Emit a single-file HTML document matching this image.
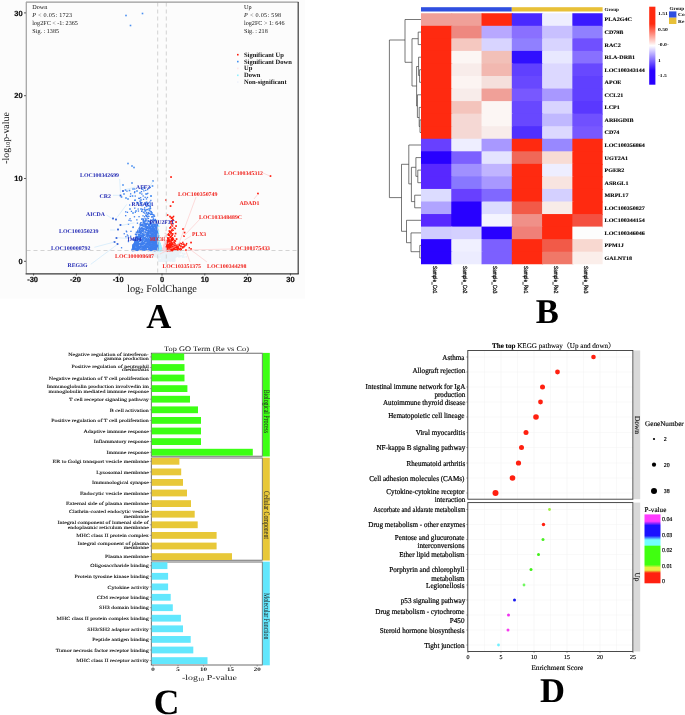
<!DOCTYPE html>
<html lang="en"><head><meta charset="utf-8"><title>Figure</title>
<style>html,body{margin:0;padding:0;background:#fff}svg{display:block}text{font-family:"Liberation Serif","Times New Roman",serif;text-rendering:geometricPrecision}.sans{font-family:"Liberation Sans",Arial,sans-serif}</style></head><body>
<svg width="685" height="715" viewBox="0 0 685 715">
<rect width="685" height="715" fill="#fff"/>
<g id="panelA">
<rect x="0" y="0" width="305" height="298.6" fill="#fcfcfc"/>
<rect x="164.5" y="253.8" width="1.5" height="1.5" fill="#e9f2f8"/><rect x="170.1" y="259.8" width="1.5" height="1.5" fill="#e9f2f8"/><rect x="159.6" y="259.9" width="1.5" height="1.5" fill="#e9f2f8"/><rect x="164.8" y="255.3" width="1.5" height="1.5" fill="#e9f2f8"/><rect x="173.9" y="259.8" width="1.5" height="1.5" fill="#e9f2f8"/><rect x="168.2" y="259.6" width="1.5" height="1.5" fill="#e9f2f8"/><rect x="154.3" y="255.6" width="1.5" height="1.5" fill="#e9f2f8"/><rect x="172.6" y="258.2" width="1.5" height="1.5" fill="#e9f2f8"/><rect x="154.1" y="252.8" width="1.5" height="1.5" fill="#e9f2f8"/><rect x="153.7" y="253.9" width="1.5" height="1.5" fill="#e9f2f8"/><rect x="168.6" y="251.7" width="1.5" height="1.5" fill="#e9f2f8"/><rect x="166.1" y="257.6" width="1.5" height="1.5" fill="#e9f2f8"/><rect x="168.6" y="257.4" width="1.5" height="1.5" fill="#e9f2f8"/><rect x="169.3" y="252.1" width="1.5" height="1.5" fill="#e9f2f8"/><rect x="170.4" y="253.9" width="1.5" height="1.5" fill="#e9f2f8"/><rect x="175.1" y="254.1" width="1.5" height="1.5" fill="#e9f2f8"/><rect x="163.9" y="259.9" width="1.5" height="1.5" fill="#e9f2f8"/><rect x="165.6" y="258.4" width="1.5" height="1.5" fill="#e9f2f8"/><rect x="163.1" y="257.3" width="1.5" height="1.5" fill="#e9f2f8"/><rect x="159.4" y="254.5" width="1.5" height="1.5" fill="#e9f2f8"/><rect x="160.5" y="252.3" width="1.5" height="1.5" fill="#e9f2f8"/><rect x="168.2" y="253.3" width="1.5" height="1.5" fill="#e9f2f8"/><rect x="166.7" y="255.1" width="1.5" height="1.5" fill="#e9f2f8"/><rect x="175.9" y="251.0" width="1.5" height="1.5" fill="#e9f2f8"/><rect x="165.6" y="250.4" width="1.5" height="1.5" fill="#e9f2f8"/><rect x="160.4" y="259.3" width="1.5" height="1.5" fill="#e9f2f8"/><rect x="155.7" y="255.5" width="1.5" height="1.5" fill="#e9f2f8"/><rect x="172.4" y="255.5" width="1.5" height="1.5" fill="#e9f2f8"/><rect x="176.9" y="251.7" width="1.5" height="1.5" fill="#e9f2f8"/><rect x="169.0" y="254.6" width="1.5" height="1.5" fill="#e9f2f8"/><rect x="170.9" y="253.4" width="1.5" height="1.5" fill="#e9f2f8"/><rect x="161.9" y="254.4" width="1.5" height="1.5" fill="#e9f2f8"/><rect x="159.3" y="251.9" width="1.5" height="1.5" fill="#e9f2f8"/><rect x="162.5" y="250.8" width="1.5" height="1.5" fill="#e9f2f8"/><rect x="155.8" y="256.0" width="1.5" height="1.5" fill="#e9f2f8"/><rect x="168.1" y="253.3" width="1.5" height="1.5" fill="#e9f2f8"/><rect x="152.6" y="251.3" width="1.5" height="1.5" fill="#e9f2f8"/><rect x="148.1" y="254.6" width="1.5" height="1.5" fill="#e9f2f8"/><rect x="158.2" y="260.3" width="1.5" height="1.5" fill="#e9f2f8"/><rect x="173.5" y="255.8" width="1.5" height="1.5" fill="#e9f2f8"/><rect x="168.2" y="259.9" width="1.5" height="1.5" fill="#e9f2f8"/><rect x="169.5" y="252.6" width="1.5" height="1.5" fill="#e9f2f8"/><rect x="170.2" y="256.5" width="1.5" height="1.5" fill="#e9f2f8"/><rect x="170.4" y="251.5" width="1.5" height="1.5" fill="#e9f2f8"/><rect x="173.3" y="254.9" width="1.5" height="1.5" fill="#e9f2f8"/><rect x="170.2" y="251.4" width="1.5" height="1.5" fill="#e9f2f8"/><rect x="172.5" y="257.7" width="1.5" height="1.5" fill="#e9f2f8"/><rect x="153.2" y="253.8" width="1.5" height="1.5" fill="#e9f2f8"/><rect x="156.8" y="250.5" width="1.5" height="1.5" fill="#e9f2f8"/><rect x="178.1" y="255.5" width="1.5" height="1.5" fill="#e9f2f8"/><rect x="168.7" y="258.1" width="1.5" height="1.5" fill="#e9f2f8"/><rect x="171.1" y="255.5" width="1.5" height="1.5" fill="#e9f2f8"/><rect x="161.6" y="260.5" width="1.5" height="1.5" fill="#e9f2f8"/><rect x="163.4" y="256.2" width="1.5" height="1.5" fill="#e9f2f8"/><rect x="160.0" y="250.7" width="1.5" height="1.5" fill="#e9f2f8"/><rect x="173.3" y="253.4" width="1.5" height="1.5" fill="#e9f2f8"/><rect x="156.3" y="252.2" width="1.5" height="1.5" fill="#e9f2f8"/><rect x="165.4" y="260.0" width="1.5" height="1.5" fill="#e9f2f8"/><rect x="176.6" y="251.0" width="1.5" height="1.5" fill="#e9f2f8"/><rect x="158.9" y="252.3" width="1.5" height="1.5" fill="#e9f2f8"/><rect x="160.7" y="259.5" width="1.5" height="1.5" fill="#e9f2f8"/><rect x="171.0" y="254.0" width="1.5" height="1.5" fill="#e9f2f8"/><rect x="168.9" y="258.4" width="1.5" height="1.5" fill="#e9f2f8"/><rect x="167.4" y="258.9" width="1.5" height="1.5" fill="#e9f2f8"/><rect x="165.1" y="260.5" width="1.5" height="1.5" fill="#e9f2f8"/><rect x="168.4" y="259.0" width="1.5" height="1.5" fill="#e9f2f8"/><rect x="171.9" y="260.3" width="1.5" height="1.5" fill="#e9f2f8"/><rect x="170.5" y="251.5" width="1.5" height="1.5" fill="#e9f2f8"/><rect x="163.3" y="257.9" width="1.5" height="1.5" fill="#e9f2f8"/><rect x="163.7" y="257.0" width="1.5" height="1.5" fill="#e9f2f8"/><rect x="163.9" y="251.8" width="1.5" height="1.5" fill="#e9f2f8"/><rect x="169.2" y="250.3" width="1.5" height="1.5" fill="#e9f2f8"/><rect x="158.2" y="259.7" width="1.5" height="1.5" fill="#e9f2f8"/><rect x="168.2" y="259.5" width="1.5" height="1.5" fill="#e9f2f8"/><rect x="163.2" y="252.0" width="1.5" height="1.5" fill="#e9f2f8"/><rect x="171.2" y="258.9" width="1.5" height="1.5" fill="#e9f2f8"/><rect x="184.1" y="253.1" width="1.5" height="1.5" fill="#e9f2f8"/><rect x="169.0" y="259.0" width="1.5" height="1.5" fill="#e9f2f8"/><rect x="164.7" y="255.1" width="1.5" height="1.5" fill="#e9f2f8"/><rect x="165.9" y="250.4" width="1.5" height="1.5" fill="#e9f2f8"/><rect x="173.7" y="257.8" width="1.5" height="1.5" fill="#e9f2f8"/><rect x="157.9" y="256.8" width="1.5" height="1.5" fill="#e9f2f8"/><rect x="172.6" y="255.0" width="1.5" height="1.5" fill="#e9f2f8"/><rect x="177.2" y="251.6" width="1.5" height="1.5" fill="#e9f2f8"/><rect x="163.9" y="252.2" width="1.5" height="1.5" fill="#e9f2f8"/><rect x="170.9" y="250.4" width="1.5" height="1.5" fill="#e9f2f8"/><rect x="174.3" y="252.1" width="1.5" height="1.5" fill="#e9f2f8"/><rect x="155.9" y="251.8" width="1.5" height="1.5" fill="#e9f2f8"/><rect x="167.7" y="256.9" width="1.5" height="1.5" fill="#e9f2f8"/><rect x="175.1" y="256.2" width="1.5" height="1.5" fill="#e9f2f8"/><rect x="172.2" y="257.9" width="1.5" height="1.5" fill="#e9f2f8"/><rect x="167.4" y="253.4" width="1.5" height="1.5" fill="#e9f2f8"/><rect x="174.0" y="250.9" width="1.5" height="1.5" fill="#e9f2f8"/><rect x="164.2" y="250.3" width="1.5" height="1.5" fill="#e9f2f8"/><rect x="173.0" y="258.3" width="1.5" height="1.5" fill="#e9f2f8"/><rect x="164.5" y="258.2" width="1.5" height="1.5" fill="#e9f2f8"/><rect x="168.0" y="254.1" width="1.5" height="1.5" fill="#e9f2f8"/><rect x="171.0" y="251.2" width="1.5" height="1.5" fill="#e9f2f8"/><rect x="170.9" y="253.8" width="1.5" height="1.5" fill="#e9f2f8"/><rect x="159.4" y="252.3" width="1.5" height="1.5" fill="#e9f2f8"/><rect x="175.6" y="250.8" width="1.5" height="1.5" fill="#e9f2f8"/><rect x="171.8" y="252.5" width="1.5" height="1.5" fill="#e9f2f8"/><rect x="166.4" y="258.7" width="1.5" height="1.5" fill="#e9f2f8"/><rect x="158.1" y="252.4" width="1.5" height="1.5" fill="#e9f2f8"/><rect x="159.9" y="250.5" width="1.5" height="1.5" fill="#e9f2f8"/><rect x="177.7" y="254.0" width="1.5" height="1.5" fill="#e9f2f8"/><rect x="152.0" y="251.9" width="1.5" height="1.5" fill="#e9f2f8"/><rect x="176.6" y="255.4" width="1.5" height="1.5" fill="#e9f2f8"/><rect x="169.3" y="251.2" width="1.5" height="1.5" fill="#e9f2f8"/><rect x="169.4" y="252.2" width="1.5" height="1.5" fill="#e9f2f8"/><rect x="174.7" y="250.4" width="1.5" height="1.5" fill="#e9f2f8"/><rect x="177.2" y="252.3" width="1.5" height="1.5" fill="#e9f2f8"/><rect x="161.0" y="259.2" width="1.5" height="1.5" fill="#e9f2f8"/><rect x="173.8" y="260.4" width="1.5" height="1.5" fill="#e9f2f8"/><rect x="176.7" y="253.1" width="1.5" height="1.5" fill="#e9f2f8"/><rect x="164.5" y="250.9" width="1.5" height="1.5" fill="#e9f2f8"/><rect x="152.9" y="251.3" width="1.5" height="1.5" fill="#e9f2f8"/><rect x="172.3" y="258.4" width="1.5" height="1.5" fill="#e9f2f8"/><rect x="166.3" y="258.1" width="1.5" height="1.5" fill="#e9f2f8"/><rect x="172.4" y="254.5" width="1.5" height="1.5" fill="#e9f2f8"/><rect x="165.9" y="259.2" width="1.5" height="1.5" fill="#e9f2f8"/><rect x="174.0" y="251.1" width="1.5" height="1.5" fill="#e9f2f8"/><rect x="161.5" y="254.5" width="1.5" height="1.5" fill="#e9f2f8"/><rect x="172.8" y="251.2" width="1.5" height="1.5" fill="#e9f2f8"/><rect x="152.1" y="253.3" width="1.5" height="1.5" fill="#e9f2f8"/><rect x="174.2" y="255.0" width="1.5" height="1.5" fill="#e9f2f8"/><rect x="165.0" y="256.0" width="1.5" height="1.5" fill="#e9f2f8"/><rect x="166.2" y="258.7" width="1.5" height="1.5" fill="#e9f2f8"/><rect x="179.4" y="255.3" width="1.5" height="1.5" fill="#e9f2f8"/><rect x="166.7" y="255.6" width="1.5" height="1.5" fill="#e9f2f8"/><rect x="164.9" y="257.2" width="1.5" height="1.5" fill="#e9f2f8"/><rect x="157.2" y="253.2" width="1.5" height="1.5" fill="#e9f2f8"/><rect x="154.4" y="255.8" width="1.5" height="1.5" fill="#e9f2f8"/><rect x="162.0" y="254.8" width="1.5" height="1.5" fill="#e9f2f8"/><rect x="166.4" y="252.6" width="1.5" height="1.5" fill="#e9f2f8"/><rect x="172.2" y="255.3" width="1.5" height="1.5" fill="#e9f2f8"/><rect x="155.0" y="250.7" width="1.5" height="1.5" fill="#e9f2f8"/><rect x="161.7" y="256.0" width="1.5" height="1.5" fill="#e9f2f8"/><rect x="159.8" y="255.2" width="1.5" height="1.5" fill="#e9f2f8"/><rect x="160.8" y="253.4" width="1.5" height="1.5" fill="#e9f2f8"/><rect x="157.8" y="253.4" width="1.5" height="1.5" fill="#e9f2f8"/><rect x="169.0" y="250.8" width="1.5" height="1.5" fill="#e9f2f8"/><rect x="161.7" y="250.8" width="1.5" height="1.5" fill="#e9f2f8"/><rect x="152.3" y="254.8" width="1.5" height="1.5" fill="#e9f2f8"/><rect x="150.2" y="251.2" width="1.5" height="1.5" fill="#e9f2f8"/><rect x="160.0" y="259.1" width="1.5" height="1.5" fill="#e9f2f8"/><rect x="172.1" y="259.8" width="1.5" height="1.5" fill="#e9f2f8"/><rect x="171.8" y="258.1" width="1.5" height="1.5" fill="#e9f2f8"/><rect x="176.1" y="251.5" width="1.5" height="1.5" fill="#e9f2f8"/><rect x="171.2" y="251.3" width="1.5" height="1.5" fill="#e9f2f8"/><rect x="172.9" y="253.7" width="1.5" height="1.5" fill="#e9f2f8"/><rect x="175.9" y="255.5" width="1.5" height="1.5" fill="#e9f2f8"/><rect x="180.5" y="255.0" width="1.5" height="1.5" fill="#e9f2f8"/><rect x="153.6" y="250.5" width="1.5" height="1.5" fill="#e9f2f8"/><rect x="159.6" y="250.3" width="1.5" height="1.5" fill="#e9f2f8"/><rect x="171.4" y="251.9" width="1.5" height="1.5" fill="#e9f2f8"/><rect x="170.5" y="255.2" width="1.5" height="1.5" fill="#e9f2f8"/><rect x="173.0" y="257.0" width="1.5" height="1.5" fill="#e9f2f8"/><rect x="168.5" y="253.1" width="1.5" height="1.5" fill="#e9f2f8"/><rect x="172.4" y="260.3" width="1.5" height="1.5" fill="#e9f2f8"/><rect x="159.0" y="260.4" width="1.5" height="1.5" fill="#e9f2f8"/><rect x="163.8" y="257.1" width="1.5" height="1.5" fill="#e9f2f8"/><rect x="160.2" y="259.9" width="1.5" height="1.5" fill="#e9f2f8"/><rect x="160.3" y="250.4" width="1.5" height="1.5" fill="#e9f2f8"/><rect x="171.0" y="259.5" width="1.5" height="1.5" fill="#e9f2f8"/><rect x="147.5" y="254.8" width="1.5" height="1.5" fill="#e9f2f8"/><rect x="178.6" y="254.7" width="1.5" height="1.5" fill="#e9f2f8"/><rect x="169.5" y="259.2" width="1.5" height="1.5" fill="#e9f2f8"/><rect x="152.2" y="251.3" width="1.5" height="1.5" fill="#e9f2f8"/><rect x="173.9" y="257.9" width="1.5" height="1.5" fill="#e9f2f8"/><rect x="176.0" y="252.9" width="1.5" height="1.5" fill="#e9f2f8"/><rect x="179.6" y="252.1" width="1.5" height="1.5" fill="#e9f2f8"/><rect x="168.5" y="253.4" width="1.5" height="1.5" fill="#e9f2f8"/><rect x="167.7" y="256.1" width="1.5" height="1.5" fill="#e9f2f8"/><rect x="181.8" y="252.5" width="1.5" height="1.5" fill="#e9f2f8"/><rect x="173.9" y="252.3" width="1.5" height="1.5" fill="#e9f2f8"/><rect x="178.8" y="256.0" width="1.5" height="1.5" fill="#e9f2f8"/><rect x="173.6" y="251.6" width="1.5" height="1.5" fill="#e9f2f8"/><rect x="160.0" y="254.8" width="1.5" height="1.5" fill="#e9f2f8"/><rect x="168.3" y="251.0" width="1.5" height="1.5" fill="#e9f2f8"/><rect x="166.0" y="255.1" width="1.5" height="1.5" fill="#e9f2f8"/><rect x="170.2" y="258.1" width="1.5" height="1.5" fill="#e9f2f8"/><rect x="169.7" y="260.0" width="1.5" height="1.5" fill="#e9f2f8"/><rect x="169.1" y="258.5" width="1.5" height="1.5" fill="#e9f2f8"/><rect x="164.0" y="252.7" width="1.5" height="1.5" fill="#e9f2f8"/><rect x="172.1" y="257.5" width="1.5" height="1.5" fill="#e9f2f8"/><rect x="161.8" y="257.0" width="1.5" height="1.5" fill="#e9f2f8"/><rect x="166.4" y="260.4" width="1.5" height="1.5" fill="#e9f2f8"/><rect x="166.4" y="253.0" width="1.5" height="1.5" fill="#e9f2f8"/><rect x="167.7" y="254.8" width="1.5" height="1.5" fill="#e9f2f8"/><rect x="169.5" y="250.9" width="1.5" height="1.5" fill="#e9f2f8"/><rect x="174.1" y="259.4" width="1.5" height="1.5" fill="#e9f2f8"/><rect x="169.6" y="255.4" width="1.5" height="1.5" fill="#e9f2f8"/><rect x="159.4" y="251.9" width="1.5" height="1.5" fill="#e9f2f8"/><rect x="159.6" y="253.4" width="1.5" height="1.5" fill="#e9f2f8"/><rect x="171.8" y="250.4" width="1.5" height="1.5" fill="#e9f2f8"/><rect x="158.8" y="253.2" width="1.5" height="1.5" fill="#e9f2f8"/><rect x="177.9" y="252.5" width="1.5" height="1.5" fill="#e9f2f8"/><rect x="160.8" y="260.0" width="1.5" height="1.5" fill="#e9f2f8"/><rect x="170.2" y="259.2" width="1.5" height="1.5" fill="#e9f2f8"/><rect x="177.2" y="254.8" width="1.5" height="1.5" fill="#e9f2f8"/><rect x="171.5" y="258.9" width="1.5" height="1.5" fill="#e9f2f8"/><rect x="178.4" y="251.0" width="1.5" height="1.5" fill="#e9f2f8"/><rect x="173.5" y="253.6" width="1.5" height="1.5" fill="#e9f2f8"/><rect x="165.3" y="257.5" width="1.5" height="1.5" fill="#e9f2f8"/><rect x="171.7" y="255.8" width="1.5" height="1.5" fill="#e9f2f8"/><rect x="170.7" y="257.8" width="1.5" height="1.5" fill="#e9f2f8"/><rect x="173.0" y="250.6" width="1.5" height="1.5" fill="#e9f2f8"/><rect x="175.4" y="254.9" width="1.5" height="1.5" fill="#e9f2f8"/><rect x="164.8" y="250.6" width="1.5" height="1.5" fill="#e9f2f8"/><rect x="163.9" y="260.5" width="1.5" height="1.5" fill="#e9f2f8"/><rect x="172.7" y="256.6" width="1.5" height="1.5" fill="#e9f2f8"/><rect x="157.9" y="258.5" width="1.5" height="1.5" fill="#e9f2f8"/><rect x="167.8" y="255.3" width="1.5" height="1.5" fill="#e9f2f8"/><rect x="172.1" y="259.6" width="1.5" height="1.5" fill="#e9f2f8"/><rect x="166.6" y="256.4" width="1.5" height="1.5" fill="#e9f2f8"/><rect x="167.9" y="257.4" width="1.5" height="1.5" fill="#e9f2f8"/><rect x="166.8" y="258.1" width="1.5" height="1.5" fill="#e9f2f8"/><rect x="158.7" y="252.8" width="1.5" height="1.5" fill="#e9f2f8"/><rect x="161.8" y="253.7" width="1.5" height="1.5" fill="#e9f2f8"/><rect x="163.2" y="256.5" width="1.5" height="1.5" fill="#e9f2f8"/><rect x="151.8" y="254.4" width="1.5" height="1.5" fill="#e9f2f8"/><rect x="170.5" y="253.1" width="1.5" height="1.5" fill="#e9f2f8"/><rect x="166.0" y="253.9" width="1.5" height="1.5" fill="#e9f2f8"/><rect x="179.7" y="250.9" width="1.5" height="1.5" fill="#e9f2f8"/><rect x="170.1" y="254.1" width="1.5" height="1.5" fill="#e9f2f8"/><rect x="165.0" y="259.1" width="1.5" height="1.5" fill="#e9f2f8"/><rect x="153.1" y="253.2" width="1.5" height="1.5" fill="#e9f2f8"/><rect x="152.6" y="251.4" width="1.5" height="1.5" fill="#e9f2f8"/><rect x="166.0" y="252.0" width="1.5" height="1.5" fill="#e9f2f8"/><rect x="153.1" y="252.2" width="1.5" height="1.5" fill="#e9f2f8"/><rect x="158.6" y="253.4" width="1.5" height="1.5" fill="#e9f2f8"/><rect x="166.6" y="259.2" width="1.5" height="1.5" fill="#e9f2f8"/><rect x="168.2" y="256.8" width="1.5" height="1.5" fill="#e9f2f8"/><rect x="177.3" y="252.9" width="1.5" height="1.5" fill="#e9f2f8"/><rect x="174.9" y="254.1" width="1.5" height="1.5" fill="#e9f2f8"/><rect x="158.7" y="255.5" width="1.5" height="1.5" fill="#e9f2f8"/><rect x="158.6" y="260.5" width="1.5" height="1.5" fill="#e9f2f8"/><rect x="170.0" y="255.3" width="1.5" height="1.5" fill="#e9f2f8"/><rect x="154.8" y="253.1" width="1.5" height="1.5" fill="#e9f2f8"/><rect x="164.9" y="252.9" width="1.5" height="1.5" fill="#e9f2f8"/><rect x="164.1" y="257.9" width="1.5" height="1.5" fill="#e9f2f8"/><rect x="171.5" y="253.0" width="1.5" height="1.5" fill="#e9f2f8"/><rect x="169.0" y="258.4" width="1.5" height="1.5" fill="#e9f2f8"/><rect x="165.1" y="255.4" width="1.5" height="1.5" fill="#e9f2f8"/><rect x="146.6" y="254.0" width="1.5" height="1.5" fill="#e9f2f8"/><rect x="155.4" y="251.6" width="1.5" height="1.5" fill="#e9f2f8"/><rect x="167.8" y="254.2" width="1.5" height="1.5" fill="#e9f2f8"/><rect x="164.6" y="259.0" width="1.5" height="1.5" fill="#e9f2f8"/><rect x="164.1" y="257.9" width="1.5" height="1.5" fill="#e9f2f8"/><rect x="166.1" y="254.7" width="1.5" height="1.5" fill="#e9f2f8"/><rect x="160.2" y="260.4" width="1.5" height="1.5" fill="#e9f2f8"/><rect x="171.7" y="253.6" width="1.5" height="1.5" fill="#e9f2f8"/><rect x="168.5" y="253.4" width="1.5" height="1.5" fill="#e9f2f8"/><rect x="163.7" y="255.2" width="1.5" height="1.5" fill="#e9f2f8"/><rect x="161.0" y="255.7" width="1.5" height="1.5" fill="#e9f2f8"/><rect x="162.8" y="251.3" width="1.5" height="1.5" fill="#e9f2f8"/><rect x="167.2" y="258.5" width="1.5" height="1.5" fill="#e9f2f8"/><rect x="183.3" y="256.3" width="1.5" height="1.5" fill="#e9f2f8"/><rect x="164.0" y="255.8" width="1.5" height="1.5" fill="#e9f2f8"/><rect x="174.5" y="255.9" width="1.5" height="1.5" fill="#e9f2f8"/><rect x="149.1" y="254.7" width="1.5" height="1.5" fill="#e9f2f8"/><rect x="170.8" y="258.4" width="1.5" height="1.5" fill="#e9f2f8"/><rect x="183.4" y="252.8" width="1.5" height="1.5" fill="#e9f2f8"/><rect x="172.0" y="250.7" width="1.5" height="1.5" fill="#e9f2f8"/><rect x="173.3" y="259.2" width="1.5" height="1.5" fill="#e9f2f8"/><rect x="170.1" y="251.4" width="1.5" height="1.5" fill="#e9f2f8"/><rect x="158.5" y="253.3" width="1.5" height="1.5" fill="#e9f2f8"/><rect x="168.2" y="255.5" width="1.5" height="1.5" fill="#e9f2f8"/><rect x="181.8" y="256.3" width="1.5" height="1.5" fill="#e9f2f8"/><rect x="174.8" y="255.9" width="1.5" height="1.5" fill="#e9f2f8"/><rect x="166.6" y="257.4" width="1.5" height="1.5" fill="#e9f2f8"/><rect x="170.6" y="257.3" width="1.5" height="1.5" fill="#e9f2f8"/><rect x="171.6" y="251.9" width="1.5" height="1.5" fill="#e9f2f8"/><rect x="178.5" y="251.2" width="1.5" height="1.5" fill="#e9f2f8"/><rect x="166.5" y="259.3" width="1.5" height="1.5" fill="#e9f2f8"/><rect x="176.7" y="250.8" width="1.5" height="1.5" fill="#e9f2f8"/><rect x="161.3" y="257.6" width="1.5" height="1.5" fill="#e9f2f8"/><rect x="161.3" y="250.2" width="1.5" height="1.5" fill="#e9f2f8"/><rect x="171.6" y="254.5" width="1.5" height="1.5" fill="#e9f2f8"/><rect x="161.5" y="257.7" width="1.5" height="1.5" fill="#e9f2f8"/><rect x="172.3" y="260.1" width="1.5" height="1.5" fill="#e9f2f8"/><rect x="177.5" y="254.6" width="1.5" height="1.5" fill="#e9f2f8"/><rect x="174.6" y="250.9" width="1.5" height="1.5" fill="#e9f2f8"/><rect x="166.4" y="255.3" width="1.5" height="1.5" fill="#e9f2f8"/><rect x="172.1" y="258.6" width="1.5" height="1.5" fill="#e9f2f8"/><rect x="153.7" y="250.9" width="1.5" height="1.5" fill="#e9f2f8"/><rect x="179.4" y="251.4" width="1.5" height="1.5" fill="#e9f2f8"/><rect x="155.4" y="250.6" width="1.5" height="1.5" fill="#e9f2f8"/><rect x="154.6" y="253.0" width="1.5" height="1.5" fill="#e9f2f8"/><rect x="165.9" y="253.0" width="1.5" height="1.5" fill="#e9f2f8"/><rect x="164.1" y="255.9" width="1.5" height="1.5" fill="#e9f2f8"/><rect x="166.6" y="257.6" width="1.5" height="1.5" fill="#e9f2f8"/><rect x="155.9" y="256.1" width="1.5" height="1.5" fill="#e9f2f8"/><rect x="169.8" y="255.7" width="1.5" height="1.5" fill="#e9f2f8"/><rect x="164.7" y="257.0" width="1.5" height="1.5" fill="#e9f2f8"/><rect x="162.9" y="250.4" width="1.5" height="1.5" fill="#e9f2f8"/><rect x="177.8" y="254.8" width="1.5" height="1.5" fill="#e9f2f8"/><rect x="163.0" y="254.8" width="1.5" height="1.5" fill="#e9f2f8"/><rect x="161.3" y="256.5" width="1.5" height="1.5" fill="#e9f2f8"/><rect x="168.5" y="258.4" width="1.5" height="1.5" fill="#e9f2f8"/><rect x="170.1" y="251.2" width="1.5" height="1.5" fill="#e9f2f8"/><rect x="161.3" y="251.2" width="1.5" height="1.5" fill="#e9f2f8"/><rect x="166.5" y="250.2" width="1.5" height="1.5" fill="#e9f2f8"/><rect x="162.6" y="258.6" width="1.5" height="1.5" fill="#e9f2f8"/><rect x="167.6" y="259.6" width="1.5" height="1.5" fill="#e9f2f8"/><rect x="164.6" y="258.1" width="1.5" height="1.5" fill="#e9f2f8"/><rect x="169.0" y="257.9" width="1.5" height="1.5" fill="#e9f2f8"/><rect x="152.6" y="251.8" width="1.5" height="1.5" fill="#e9f2f8"/><rect x="159.9" y="256.3" width="1.5" height="1.5" fill="#e9f2f8"/><rect x="158.8" y="256.6" width="1.5" height="1.5" fill="#e9f2f8"/><rect x="171.0" y="257.0" width="1.5" height="1.5" fill="#e9f2f8"/><rect x="171.8" y="250.5" width="1.5" height="1.5" fill="#e9f2f8"/><rect x="168.6" y="259.2" width="1.5" height="1.5" fill="#e9f2f8"/><rect x="156.1" y="251.1" width="1.5" height="1.5" fill="#e9f2f8"/><rect x="166.2" y="258.3" width="1.5" height="1.5" fill="#e9f2f8"/><rect x="165.7" y="256.4" width="1.5" height="1.5" fill="#e9f2f8"/><rect x="171.8" y="255.9" width="1.5" height="1.5" fill="#e9f2f8"/><rect x="179.9" y="251.0" width="1.5" height="1.5" fill="#e9f2f8"/><rect x="162.4" y="260.3" width="1.5" height="1.5" fill="#e9f2f8"/><rect x="177.6" y="250.8" width="1.5" height="1.5" fill="#e9f2f8"/><rect x="168.7" y="255.7" width="1.5" height="1.5" fill="#e9f2f8"/><rect x="166.3" y="256.5" width="1.5" height="1.5" fill="#e9f2f8"/><rect x="166.3" y="251.0" width="1.5" height="1.5" fill="#e9f2f8"/><rect x="172.9" y="250.5" width="1.5" height="1.5" fill="#e9f2f8"/><rect x="153.7" y="254.9" width="1.5" height="1.5" fill="#e9f2f8"/><rect x="169.6" y="255.1" width="1.5" height="1.5" fill="#e9f2f8"/><rect x="169.1" y="253.5" width="1.5" height="1.5" fill="#e9f2f8"/><rect x="177.2" y="252.4" width="1.5" height="1.5" fill="#e9f2f8"/><rect x="162.2" y="252.6" width="1.5" height="1.5" fill="#e9f2f8"/><rect x="157.5" y="256.2" width="1.5" height="1.5" fill="#e9f2f8"/><rect x="168.8" y="252.5" width="1.5" height="1.5" fill="#e9f2f8"/><rect x="168.2" y="253.9" width="1.5" height="1.5" fill="#e9f2f8"/><rect x="182.6" y="254.5" width="1.5" height="1.5" fill="#e9f2f8"/><rect x="170.2" y="254.0" width="1.5" height="1.5" fill="#e9f2f8"/><rect x="170.4" y="253.3" width="1.5" height="1.5" fill="#e9f2f8"/><rect x="168.5" y="255.1" width="1.5" height="1.5" fill="#e9f2f8"/><rect x="168.2" y="254.5" width="1.5" height="1.5" fill="#e9f2f8"/><rect x="162.4" y="254.3" width="1.5" height="1.5" fill="#e9f2f8"/><rect x="169.7" y="260.4" width="1.5" height="1.5" fill="#e9f2f8"/><rect x="163.8" y="250.6" width="1.5" height="1.5" fill="#e9f2f8"/><rect x="174.1" y="253.9" width="1.5" height="1.5" fill="#e9f2f8"/><rect x="172.5" y="258.1" width="1.5" height="1.5" fill="#e9f2f8"/><rect x="160.9" y="258.0" width="1.5" height="1.5" fill="#e9f2f8"/><rect x="177.4" y="254.5" width="1.5" height="1.5" fill="#e9f2f8"/><rect x="163.6" y="260.3" width="1.5" height="1.5" fill="#e9f2f8"/><rect x="155.5" y="253.8" width="1.5" height="1.5" fill="#e9f2f8"/><rect x="166.5" y="257.9" width="1.5" height="1.5" fill="#e9f2f8"/><rect x="158.2" y="258.2" width="1.5" height="1.5" fill="#e9f2f8"/><rect x="152.0" y="256.2" width="1.5" height="1.5" fill="#e9f2f8"/><rect x="162.4" y="253.5" width="1.5" height="1.5" fill="#e9f2f8"/><rect x="172.9" y="258.5" width="1.5" height="1.5" fill="#e9f2f8"/><rect x="169.9" y="255.3" width="1.5" height="1.5" fill="#e9f2f8"/><rect x="155.0" y="255.1" width="1.5" height="1.5" fill="#e9f2f8"/><rect x="172.6" y="252.1" width="1.5" height="1.5" fill="#e9f2f8"/><rect x="165.2" y="258.2" width="1.5" height="1.5" fill="#e9f2f8"/><rect x="168.6" y="257.5" width="1.5" height="1.5" fill="#e9f2f8"/><rect x="178.5" y="250.5" width="1.5" height="1.5" fill="#e9f2f8"/><rect x="161.7" y="258.2" width="1.5" height="1.5" fill="#e9f2f8"/><rect x="166.5" y="256.2" width="1.5" height="1.5" fill="#e9f2f8"/><rect x="157.4" y="255.5" width="1.5" height="1.5" fill="#e9f2f8"/><rect x="151.1" y="254.0" width="1.5" height="1.5" fill="#e9f2f8"/><rect x="170.9" y="259.1" width="1.5" height="1.5" fill="#e9f2f8"/><rect x="185.5" y="256.1" width="1.5" height="1.5" fill="#e9f2f8"/><rect x="173.1" y="251.3" width="1.5" height="1.5" fill="#e9f2f8"/><rect x="169.1" y="251.4" width="1.5" height="1.5" fill="#e9f2f8"/><rect x="163.7" y="250.9" width="1.5" height="1.5" fill="#e9f2f8"/><rect x="141.3" y="254.4" width="1.5" height="1.5" fill="#e9f2f8"/><rect x="173.1" y="252.8" width="1.5" height="1.5" fill="#e9f2f8"/><rect x="182.1" y="256.2" width="1.5" height="1.5" fill="#e9f2f8"/><rect x="162.8" y="256.7" width="1.5" height="1.5" fill="#e9f2f8"/><rect x="160.3" y="257.1" width="1.5" height="1.5" fill="#e9f2f8"/><rect x="166.7" y="257.7" width="1.5" height="1.5" fill="#e9f2f8"/><rect x="166.9" y="256.9" width="1.5" height="1.5" fill="#e9f2f8"/><rect x="170.0" y="250.6" width="1.5" height="1.5" fill="#e9f2f8"/><rect x="165.4" y="258.4" width="1.5" height="1.5" fill="#e9f2f8"/><rect x="158.0" y="252.0" width="1.5" height="1.5" fill="#e9f2f8"/><rect x="177.0" y="253.7" width="1.5" height="1.5" fill="#e9f2f8"/><rect x="174.2" y="256.7" width="1.5" height="1.5" fill="#e9f2f8"/><rect x="168.9" y="251.0" width="1.5" height="1.5" fill="#e9f2f8"/><rect x="168.8" y="251.3" width="1.5" height="1.5" fill="#e9f2f8"/><rect x="172.9" y="260.2" width="1.5" height="1.5" fill="#e9f2f8"/><rect x="155.1" y="251.6" width="1.5" height="1.5" fill="#e9f2f8"/><rect x="173.5" y="260.1" width="1.5" height="1.5" fill="#e9f2f8"/><rect x="168.9" y="251.0" width="1.5" height="1.5" fill="#e9f2f8"/><rect x="167.0" y="257.9" width="1.5" height="1.5" fill="#e9f2f8"/><rect x="166.1" y="257.0" width="1.5" height="1.5" fill="#e9f2f8"/><rect x="150.8" y="254.7" width="1.5" height="1.5" fill="#e9f2f8"/><rect x="176.1" y="254.8" width="1.5" height="1.5" fill="#e9f2f8"/><rect x="163.7" y="253.1" width="1.5" height="1.5" fill="#e9f2f8"/><rect x="164.0" y="260.5" width="1.5" height="1.5" fill="#e9f2f8"/><rect x="171.7" y="252.7" width="1.5" height="1.5" fill="#e9f2f8"/><rect x="175.3" y="250.6" width="1.5" height="1.5" fill="#e9f2f8"/><rect x="161.2" y="260.3" width="1.5" height="1.5" fill="#e9f2f8"/><rect x="167.2" y="250.6" width="1.5" height="1.5" fill="#e9f2f8"/><rect x="174.6" y="250.7" width="1.5" height="1.5" fill="#e9f2f8"/><rect x="162.2" y="256.1" width="1.5" height="1.5" fill="#e9f2f8"/><rect x="170.0" y="255.4" width="1.5" height="1.5" fill="#e9f2f8"/><rect x="170.5" y="252.2" width="1.5" height="1.5" fill="#e9f2f8"/><rect x="164.4" y="252.9" width="1.5" height="1.5" fill="#e9f2f8"/><rect x="171.9" y="254.3" width="1.5" height="1.5" fill="#e9f2f8"/><rect x="155.1" y="254.4" width="1.5" height="1.5" fill="#e9f2f8"/><rect x="163.5" y="252.5" width="1.5" height="1.5" fill="#e9f2f8"/><rect x="172.6" y="259.7" width="1.5" height="1.5" fill="#e9f2f8"/><rect x="170.3" y="258.0" width="1.5" height="1.5" fill="#e9f2f8"/><rect x="177.9" y="256.0" width="1.5" height="1.5" fill="#e9f2f8"/><rect x="175.4" y="254.4" width="1.5" height="1.5" fill="#e9f2f8"/><rect x="168.3" y="250.4" width="1.5" height="1.5" fill="#e9f2f8"/><rect x="182.5" y="254.8" width="1.5" height="1.5" fill="#e9f2f8"/><rect x="151.9" y="255.9" width="1.5" height="1.5" fill="#e9f2f8"/><rect x="173.4" y="253.2" width="1.5" height="1.5" fill="#e9f2f8"/><rect x="171.3" y="255.9" width="1.5" height="1.5" fill="#e9f2f8"/><rect x="167.1" y="254.1" width="1.5" height="1.5" fill="#e9f2f8"/><rect x="173.9" y="253.6" width="1.5" height="1.5" fill="#e9f2f8"/><rect x="166.2" y="253.7" width="1.5" height="1.5" fill="#e9f2f8"/><rect x="152.3" y="255.7" width="1.5" height="1.5" fill="#e9f2f8"/><rect x="169.7" y="254.7" width="1.5" height="1.5" fill="#e9f2f8"/><rect x="161.3" y="256.7" width="1.5" height="1.5" fill="#e9f2f8"/><rect x="166.0" y="258.0" width="1.5" height="1.5" fill="#e9f2f8"/><rect x="161.5" y="258.0" width="1.5" height="1.5" fill="#e9f2f8"/><rect x="159.9" y="247.3" width="1.4" height="1.4" fill="#9fefff"/><rect x="159.2" y="245.7" width="1.4" height="1.4" fill="#9fefff"/><rect x="158.9" y="243.1" width="1.4" height="1.4" fill="#9fefff"/><rect x="159.5" y="249.6" width="1.4" height="1.4" fill="#9fefff"/><rect x="157.2" y="230.9" width="1.4" height="1.4" fill="#9fefff"/><rect x="160.1" y="244.9" width="1.4" height="1.4" fill="#9fefff"/><rect x="158.6" y="244.5" width="1.4" height="1.4" fill="#9fefff"/><rect x="156.8" y="228.7" width="1.4" height="1.4" fill="#9fefff"/><rect x="160.3" y="249.7" width="1.4" height="1.4" fill="#9fefff"/><rect x="159.7" y="248.4" width="1.4" height="1.4" fill="#9fefff"/><rect x="156.5" y="224.0" width="1.4" height="1.4" fill="#9fefff"/><rect x="159.0" y="243.7" width="1.4" height="1.4" fill="#9fefff"/><rect x="157.0" y="241.3" width="1.4" height="1.4" fill="#9fefff"/><rect x="157.3" y="247.3" width="1.4" height="1.4" fill="#9fefff"/><rect x="156.6" y="236.5" width="1.4" height="1.4" fill="#9fefff"/><rect x="158.0" y="242.8" width="1.4" height="1.4" fill="#9fefff"/><rect x="159.6" y="248.6" width="1.4" height="1.4" fill="#9fefff"/><rect x="159.7" y="248.5" width="1.4" height="1.4" fill="#9fefff"/><rect x="159.4" y="245.3" width="1.4" height="1.4" fill="#9fefff"/><rect x="159.7" y="247.1" width="1.4" height="1.4" fill="#9fefff"/><rect x="160.4" y="249.3" width="1.4" height="1.4" fill="#9fefff"/><rect x="159.7" y="245.8" width="1.4" height="1.4" fill="#9fefff"/><rect x="159.2" y="247.5" width="1.4" height="1.4" fill="#9fefff"/><rect x="158.3" y="236.9" width="1.4" height="1.4" fill="#9fefff"/><rect x="160.2" y="248.7" width="1.4" height="1.4" fill="#9fefff"/><rect x="158.2" y="245.3" width="1.4" height="1.4" fill="#9fefff"/><rect x="157.9" y="245.5" width="1.4" height="1.4" fill="#9fefff"/><rect x="157.7" y="246.8" width="1.4" height="1.4" fill="#9fefff"/><rect x="158.8" y="248.8" width="1.4" height="1.4" fill="#9fefff"/><rect x="156.6" y="239.2" width="1.4" height="1.4" fill="#9fefff"/><rect x="159.2" y="245.9" width="1.4" height="1.4" fill="#9fefff"/><rect x="158.8" y="247.6" width="1.4" height="1.4" fill="#9fefff"/><rect x="157.0" y="238.9" width="1.4" height="1.4" fill="#9fefff"/><rect x="159.7" y="249.8" width="1.4" height="1.4" fill="#9fefff"/><rect x="157.5" y="249.5" width="1.4" height="1.4" fill="#9fefff"/><rect x="156.8" y="248.6" width="1.4" height="1.4" fill="#9fefff"/><rect x="158.8" y="247.2" width="1.4" height="1.4" fill="#9fefff"/><rect x="156.9" y="239.0" width="1.4" height="1.4" fill="#9fefff"/><rect x="158.6" y="249.3" width="1.4" height="1.4" fill="#9fefff"/><rect x="158.2" y="248.7" width="1.4" height="1.4" fill="#9fefff"/><rect x="157.9" y="246.7" width="1.4" height="1.4" fill="#9fefff"/><rect x="158.0" y="247.9" width="1.4" height="1.4" fill="#9fefff"/><rect x="159.0" y="246.8" width="1.4" height="1.4" fill="#9fefff"/><rect x="159.3" y="249.8" width="1.4" height="1.4" fill="#9fefff"/><rect x="158.4" y="246.7" width="1.4" height="1.4" fill="#9fefff"/><rect x="158.5" y="248.4" width="1.4" height="1.4" fill="#9fefff"/><rect x="157.2" y="242.8" width="1.4" height="1.4" fill="#9fefff"/><rect x="160.0" y="249.5" width="1.4" height="1.4" fill="#9fefff"/><rect x="156.7" y="235.6" width="1.4" height="1.4" fill="#9fefff"/><rect x="160.3" y="249.6" width="1.4" height="1.4" fill="#9fefff"/><rect x="156.7" y="229.5" width="1.4" height="1.4" fill="#9fefff"/><rect x="158.0" y="238.0" width="1.4" height="1.4" fill="#9fefff"/><rect x="157.1" y="239.5" width="1.4" height="1.4" fill="#9fefff"/><rect x="159.6" y="244.7" width="1.4" height="1.4" fill="#9fefff"/><rect x="158.8" y="243.7" width="1.4" height="1.4" fill="#9fefff"/><rect x="159.7" y="245.3" width="1.4" height="1.4" fill="#9fefff"/><rect x="159.6" y="246.5" width="1.4" height="1.4" fill="#9fefff"/><rect x="158.9" y="245.9" width="1.4" height="1.4" fill="#9fefff"/><rect x="160.0" y="249.8" width="1.4" height="1.4" fill="#9fefff"/><rect x="156.8" y="230.6" width="1.4" height="1.4" fill="#9fefff"/><rect x="160.3" y="248.0" width="1.4" height="1.4" fill="#9fefff"/><rect x="160.3" y="249.1" width="1.4" height="1.4" fill="#9fefff"/><rect x="157.1" y="238.6" width="1.4" height="1.4" fill="#9fefff"/><rect x="158.2" y="242.9" width="1.4" height="1.4" fill="#9fefff"/><rect x="157.9" y="246.7" width="1.4" height="1.4" fill="#9fefff"/><rect x="158.1" y="242.0" width="1.4" height="1.4" fill="#9fefff"/><rect x="158.8" y="246.3" width="1.4" height="1.4" fill="#9fefff"/><rect x="158.7" y="244.2" width="1.4" height="1.4" fill="#9fefff"/><rect x="160.4" y="249.0" width="1.4" height="1.4" fill="#9fefff"/><rect x="159.5" y="247.0" width="1.4" height="1.4" fill="#9fefff"/><rect x="157.4" y="247.7" width="1.4" height="1.4" fill="#9fefff"/><rect x="159.8" y="246.7" width="1.4" height="1.4" fill="#9fefff"/><rect x="158.6" y="247.1" width="1.4" height="1.4" fill="#9fefff"/><rect x="158.7" y="247.8" width="1.4" height="1.4" fill="#9fefff"/><rect x="160.1" y="247.8" width="1.4" height="1.4" fill="#9fefff"/><rect x="160.3" y="249.3" width="1.4" height="1.4" fill="#9fefff"/><rect x="157.9" y="237.6" width="1.4" height="1.4" fill="#9fefff"/><rect x="157.3" y="241.4" width="1.4" height="1.4" fill="#9fefff"/><rect x="158.4" y="241.9" width="1.4" height="1.4" fill="#9fefff"/><rect x="158.9" y="247.7" width="1.4" height="1.4" fill="#9fefff"/><rect x="156.6" y="233.5" width="1.4" height="1.4" fill="#9fefff"/><rect x="156.4" y="230.2" width="1.4" height="1.4" fill="#9fefff"/><rect x="157.5" y="247.3" width="1.4" height="1.4" fill="#9fefff"/><rect x="156.5" y="242.0" width="1.4" height="1.4" fill="#9fefff"/><rect x="158.5" y="235.1" width="1.4" height="1.4" fill="#9fefff"/><rect x="159.8" y="248.2" width="1.4" height="1.4" fill="#9fefff"/><rect x="157.3" y="246.3" width="1.4" height="1.4" fill="#9fefff"/><rect x="159.1" y="249.0" width="1.4" height="1.4" fill="#9fefff"/><rect x="157.4" y="238.1" width="1.4" height="1.4" fill="#9fefff"/><rect x="159.4" y="242.5" width="1.4" height="1.4" fill="#9fefff"/><rect x="157.2" y="241.8" width="1.4" height="1.4" fill="#9fefff"/><rect x="156.7" y="238.5" width="1.4" height="1.4" fill="#9fefff"/><rect x="159.6" y="249.5" width="1.4" height="1.4" fill="#9fefff"/><rect x="159.2" y="244.3" width="1.4" height="1.4" fill="#9fefff"/><rect x="160.3" y="249.6" width="1.4" height="1.4" fill="#9fefff"/><rect x="156.7" y="243.1" width="1.4" height="1.4" fill="#9fefff"/><rect x="157.7" y="245.4" width="1.4" height="1.4" fill="#9fefff"/><rect x="157.3" y="245.9" width="1.4" height="1.4" fill="#9fefff"/><rect x="160.0" y="246.9" width="1.4" height="1.4" fill="#9fefff"/><rect x="159.0" y="248.4" width="1.4" height="1.4" fill="#9fefff"/><rect x="156.9" y="235.4" width="1.4" height="1.4" fill="#9fefff"/><rect x="156.9" y="244.6" width="1.4" height="1.4" fill="#9fefff"/><rect x="160.1" y="247.0" width="1.4" height="1.4" fill="#9fefff"/><rect x="158.9" y="249.5" width="1.4" height="1.4" fill="#9fefff"/><rect x="157.2" y="246.8" width="1.4" height="1.4" fill="#9fefff"/><rect x="158.1" y="225.7" width="1.4" height="1.4" fill="#9fefff"/><rect x="159.0" y="249.3" width="1.4" height="1.4" fill="#9fefff"/><rect x="159.8" y="246.7" width="1.4" height="1.4" fill="#9fefff"/><rect x="157.5" y="232.1" width="1.4" height="1.4" fill="#9fefff"/><rect x="159.5" y="247.7" width="1.4" height="1.4" fill="#9fefff"/><rect x="157.9" y="238.3" width="1.4" height="1.4" fill="#9fefff"/><rect x="157.8" y="248.6" width="1.4" height="1.4" fill="#9fefff"/><rect x="159.2" y="248.6" width="1.4" height="1.4" fill="#9fefff"/><rect x="159.9" y="249.8" width="1.4" height="1.4" fill="#9fefff"/><rect x="158.0" y="240.6" width="1.4" height="1.4" fill="#9fefff"/><rect x="156.8" y="243.9" width="1.4" height="1.4" fill="#9fefff"/><rect x="159.9" y="249.4" width="1.4" height="1.4" fill="#9fefff"/><rect x="160.4" y="248.5" width="1.4" height="1.4" fill="#9fefff"/><rect x="160.5" y="249.6" width="1.4" height="1.4" fill="#9fefff"/><rect x="159.0" y="247.9" width="1.4" height="1.4" fill="#9fefff"/><rect x="159.6" y="245.8" width="1.4" height="1.4" fill="#9fefff"/><rect x="159.7" y="247.7" width="1.4" height="1.4" fill="#9fefff"/><rect x="157.9" y="245.3" width="1.4" height="1.4" fill="#9fefff"/><rect x="156.7" y="248.8" width="1.4" height="1.4" fill="#9fefff"/><rect x="159.5" y="248.8" width="1.4" height="1.4" fill="#9fefff"/><rect x="157.9" y="246.7" width="1.4" height="1.4" fill="#9fefff"/><rect x="156.9" y="247.5" width="1.4" height="1.4" fill="#9fefff"/><rect x="159.4" y="245.9" width="1.4" height="1.4" fill="#9fefff"/><rect x="160.4" y="249.2" width="1.4" height="1.4" fill="#9fefff"/><rect x="159.1" y="244.7" width="1.4" height="1.4" fill="#9fefff"/><rect x="157.9" y="230.4" width="1.4" height="1.4" fill="#9fefff"/><rect x="157.5" y="241.8" width="1.4" height="1.4" fill="#9fefff"/><rect x="159.5" y="248.9" width="1.4" height="1.4" fill="#9fefff"/><rect x="158.3" y="248.6" width="1.4" height="1.4" fill="#9fefff"/><rect x="158.8" y="249.7" width="1.4" height="1.4" fill="#9fefff"/><rect x="157.3" y="246.2" width="1.4" height="1.4" fill="#9fefff"/><rect x="160.4" y="248.0" width="1.4" height="1.4" fill="#9fefff"/><rect x="159.9" y="248.0" width="1.4" height="1.4" fill="#9fefff"/><rect x="159.7" y="246.9" width="1.4" height="1.4" fill="#9fefff"/><rect x="157.9" y="243.3" width="1.4" height="1.4" fill="#9fefff"/><rect x="157.2" y="245.6" width="1.4" height="1.4" fill="#9fefff"/><rect x="159.3" y="246.4" width="1.4" height="1.4" fill="#9fefff"/><rect x="160.3" y="248.1" width="1.4" height="1.4" fill="#9fefff"/><rect x="157.6" y="239.0" width="1.4" height="1.4" fill="#9fefff"/><rect x="160.5" y="249.1" width="1.4" height="1.4" fill="#9fefff"/><rect x="158.6" y="240.9" width="1.4" height="1.4" fill="#9fefff"/><rect x="157.5" y="243.0" width="1.4" height="1.4" fill="#9fefff"/><rect x="160.1" y="249.4" width="1.4" height="1.4" fill="#9fefff"/><rect x="159.5" y="246.7" width="1.4" height="1.4" fill="#9fefff"/><rect x="157.4" y="247.6" width="1.4" height="1.4" fill="#9fefff"/><rect x="157.7" y="241.5" width="1.4" height="1.4" fill="#9fefff"/><rect x="159.4" y="244.6" width="1.4" height="1.4" fill="#9fefff"/><rect x="158.2" y="237.5" width="1.4" height="1.4" fill="#9fefff"/><rect x="158.4" y="244.8" width="1.4" height="1.4" fill="#9fefff"/><rect x="159.4" y="243.3" width="1.4" height="1.4" fill="#9fefff"/><rect x="159.6" y="243.0" width="1.4" height="1.4" fill="#9fefff"/><rect x="156.9" y="240.8" width="1.4" height="1.4" fill="#9fefff"/><rect x="159.5" y="249.6" width="1.4" height="1.4" fill="#9fefff"/><rect x="157.5" y="234.2" width="1.4" height="1.4" fill="#9fefff"/><rect x="159.2" y="247.1" width="1.4" height="1.4" fill="#9fefff"/><rect x="156.9" y="245.7" width="1.4" height="1.4" fill="#9fefff"/><rect x="156.8" y="242.0" width="1.4" height="1.4" fill="#9fefff"/><rect x="157.9" y="245.4" width="1.4" height="1.4" fill="#9fefff"/><rect x="156.5" y="231.9" width="1.4" height="1.4" fill="#9fefff"/><rect x="158.6" y="244.4" width="1.4" height="1.4" fill="#9fefff"/><rect x="157.0" y="234.9" width="1.4" height="1.4" fill="#9fefff"/><rect x="158.7" y="248.6" width="1.4" height="1.4" fill="#9fefff"/><rect x="159.2" y="244.0" width="1.4" height="1.4" fill="#9fefff"/><rect x="159.6" y="248.9" width="1.4" height="1.4" fill="#9fefff"/><rect x="156.8" y="246.4" width="1.4" height="1.4" fill="#9fefff"/><rect x="159.9" y="248.7" width="1.4" height="1.4" fill="#9fefff"/><rect x="156.7" y="248.8" width="1.4" height="1.4" fill="#9fefff"/><rect x="159.1" y="249.1" width="1.4" height="1.4" fill="#9fefff"/><rect x="160.3" y="249.6" width="1.4" height="1.4" fill="#9fefff"/><rect x="157.7" y="240.2" width="1.4" height="1.4" fill="#9fefff"/><rect x="157.5" y="238.4" width="1.4" height="1.4" fill="#9fefff"/><rect x="160.2" y="248.6" width="1.4" height="1.4" fill="#9fefff"/><rect x="157.2" y="244.2" width="1.4" height="1.4" fill="#9fefff"/><rect x="157.2" y="246.7" width="1.4" height="1.4" fill="#9fefff"/><rect x="157.0" y="247.1" width="1.4" height="1.4" fill="#9fefff"/><rect x="156.8" y="244.4" width="1.4" height="1.4" fill="#9fefff"/><rect x="159.6" y="249.3" width="1.4" height="1.4" fill="#9fefff"/><rect x="160.0" y="245.9" width="1.4" height="1.4" fill="#9fefff"/><rect x="157.2" y="245.3" width="1.4" height="1.4" fill="#9fefff"/><rect x="157.9" y="244.3" width="1.4" height="1.4" fill="#9fefff"/><rect x="159.3" y="244.4" width="1.4" height="1.4" fill="#9fefff"/><rect x="160.1" y="247.2" width="1.4" height="1.4" fill="#9fefff"/><rect x="159.7" y="246.7" width="1.4" height="1.4" fill="#9fefff"/><rect x="159.2" y="249.0" width="1.4" height="1.4" fill="#9fefff"/><rect x="159.4" y="249.5" width="1.4" height="1.4" fill="#9fefff"/><rect x="159.3" y="249.0" width="1.4" height="1.4" fill="#9fefff"/><rect x="159.2" y="245.4" width="1.4" height="1.4" fill="#9fefff"/><rect x="156.6" y="224.9" width="1.4" height="1.4" fill="#9fefff"/><rect x="158.0" y="249.4" width="1.4" height="1.4" fill="#9fefff"/><rect x="160.4" y="248.9" width="1.4" height="1.4" fill="#9fefff"/><rect x="157.3" y="244.0" width="1.4" height="1.4" fill="#9fefff"/><rect x="159.1" y="248.1" width="1.4" height="1.4" fill="#9fefff"/><rect x="159.6" y="245.8" width="1.4" height="1.4" fill="#9fefff"/><rect x="157.0" y="231.9" width="1.4" height="1.4" fill="#9fefff"/><rect x="159.8" y="247.0" width="1.4" height="1.4" fill="#9fefff"/><rect x="160.5" y="249.5" width="1.4" height="1.4" fill="#9fefff"/><rect x="156.5" y="228.8" width="1.4" height="1.4" fill="#9fefff"/><rect x="160.5" y="249.0" width="1.4" height="1.4" fill="#9fefff"/><rect x="157.2" y="249.1" width="1.4" height="1.4" fill="#9fefff"/><rect x="159.7" y="247.1" width="1.4" height="1.4" fill="#9fefff"/><rect x="157.1" y="249.5" width="1.4" height="1.4" fill="#9fefff"/><rect x="159.4" y="246.8" width="1.4" height="1.4" fill="#9fefff"/><rect x="159.6" y="248.9" width="1.4" height="1.4" fill="#9fefff"/><rect x="157.6" y="245.3" width="1.4" height="1.4" fill="#9fefff"/><rect x="157.9" y="249.8" width="1.4" height="1.4" fill="#9fefff"/><rect x="160.2" y="249.2" width="1.4" height="1.4" fill="#9fefff"/><rect x="157.3" y="234.0" width="1.4" height="1.4" fill="#9fefff"/><rect x="157.9" y="244.5" width="1.4" height="1.4" fill="#9fefff"/><rect x="158.9" y="245.3" width="1.4" height="1.4" fill="#9fefff"/><rect x="156.9" y="228.5" width="1.4" height="1.4" fill="#9fefff"/><rect x="160.4" y="248.8" width="1.4" height="1.4" fill="#9fefff"/><rect x="159.6" y="249.3" width="1.4" height="1.4" fill="#9fefff"/><rect x="158.4" y="234.9" width="1.4" height="1.4" fill="#9fefff"/><rect x="158.9" y="246.9" width="1.4" height="1.4" fill="#9fefff"/><rect x="158.6" y="246.7" width="1.4" height="1.4" fill="#9fefff"/><rect x="158.3" y="249.5" width="1.4" height="1.4" fill="#9fefff"/><rect x="157.9" y="235.1" width="1.4" height="1.4" fill="#9fefff"/><rect x="159.1" y="248.5" width="1.4" height="1.4" fill="#9fefff"/><rect x="157.1" y="244.0" width="1.4" height="1.4" fill="#9fefff"/><rect x="157.8" y="249.6" width="1.4" height="1.4" fill="#9fefff"/><rect x="158.7" y="246.1" width="1.4" height="1.4" fill="#9fefff"/><rect x="157.3" y="245.1" width="1.4" height="1.4" fill="#9fefff"/><rect x="158.6" y="248.2" width="1.4" height="1.4" fill="#9fefff"/><rect x="156.9" y="249.3" width="1.4" height="1.4" fill="#9fefff"/><rect x="159.3" y="246.9" width="1.4" height="1.4" fill="#9fefff"/><rect x="157.6" y="246.8" width="1.4" height="1.4" fill="#9fefff"/><rect x="159.9" y="248.6" width="1.4" height="1.4" fill="#9fefff"/><rect x="159.5" y="247.7" width="1.4" height="1.4" fill="#9fefff"/><rect x="159.8" y="246.9" width="1.4" height="1.4" fill="#9fefff"/><rect x="159.2" y="245.0" width="1.4" height="1.4" fill="#9fefff"/><rect x="157.5" y="225.0" width="1.4" height="1.4" fill="#9fefff"/><rect x="160.1" y="249.0" width="1.4" height="1.4" fill="#9fefff"/><rect x="158.9" y="249.2" width="1.4" height="1.4" fill="#9fefff"/><rect x="156.5" y="243.9" width="1.4" height="1.4" fill="#9fefff"/><rect x="158.7" y="240.3" width="1.4" height="1.4" fill="#9fefff"/><rect x="159.7" y="248.9" width="1.4" height="1.4" fill="#9fefff"/><rect x="159.6" y="248.7" width="1.4" height="1.4" fill="#9fefff"/><rect x="158.9" y="244.4" width="1.4" height="1.4" fill="#9fefff"/><rect x="157.3" y="247.6" width="1.4" height="1.4" fill="#9fefff"/><rect x="157.7" y="236.6" width="1.4" height="1.4" fill="#9fefff"/><rect x="158.6" y="249.8" width="1.4" height="1.4" fill="#9fefff"/><rect x="159.9" y="247.9" width="1.4" height="1.4" fill="#9fefff"/><rect x="157.5" y="243.7" width="1.4" height="1.4" fill="#9fefff"/><rect x="156.8" y="235.5" width="1.4" height="1.4" fill="#9fefff"/><rect x="157.4" y="244.2" width="1.4" height="1.4" fill="#9fefff"/><rect x="158.8" y="248.6" width="1.4" height="1.4" fill="#9fefff"/><rect x="156.9" y="231.2" width="1.4" height="1.4" fill="#9fefff"/><rect x="157.3" y="243.6" width="1.4" height="1.4" fill="#9fefff"/><rect x="157.7" y="232.7" width="1.4" height="1.4" fill="#9fefff"/><rect x="157.9" y="242.6" width="1.4" height="1.4" fill="#9fefff"/><rect x="157.9" y="247.7" width="1.4" height="1.4" fill="#9fefff"/><rect x="160.1" y="246.9" width="1.4" height="1.4" fill="#9fefff"/><rect x="157.6" y="241.7" width="1.4" height="1.4" fill="#9fefff"/><rect x="157.9" y="249.8" width="1.4" height="1.4" fill="#9fefff"/><rect x="158.6" y="243.1" width="1.4" height="1.4" fill="#9fefff"/><rect x="164.6" y="241.1" width="1.4" height="1.4" fill="#fbd3dc"/><rect x="165.9" y="241.7" width="1.4" height="1.4" fill="#fbd3dc"/><rect x="162.9" y="247.5" width="1.4" height="1.4" fill="#fbd3dc"/><rect x="163.7" y="243.4" width="1.4" height="1.4" fill="#fbd3dc"/><rect x="164.1" y="248.3" width="1.4" height="1.4" fill="#fbd3dc"/><rect x="164.3" y="249.6" width="1.4" height="1.4" fill="#fbd3dc"/><rect x="162.8" y="248.8" width="1.4" height="1.4" fill="#fbd3dc"/><rect x="164.2" y="236.2" width="1.4" height="1.4" fill="#fbd3dc"/><rect x="162.5" y="248.1" width="1.4" height="1.4" fill="#fbd3dc"/><rect x="165.0" y="245.4" width="1.4" height="1.4" fill="#fbd3dc"/><rect x="164.2" y="242.9" width="1.4" height="1.4" fill="#fbd3dc"/><rect x="164.2" y="241.4" width="1.4" height="1.4" fill="#fbd3dc"/><rect x="163.8" y="246.8" width="1.4" height="1.4" fill="#fbd3dc"/><rect x="164.9" y="248.2" width="1.4" height="1.4" fill="#fbd3dc"/><rect x="163.7" y="249.7" width="1.4" height="1.4" fill="#fbd3dc"/><rect x="166.1" y="244.4" width="1.4" height="1.4" fill="#fbd3dc"/><rect x="163.6" y="246.7" width="1.4" height="1.4" fill="#fbd3dc"/><rect x="163.7" y="248.5" width="1.4" height="1.4" fill="#fbd3dc"/><rect x="162.2" y="249.2" width="1.4" height="1.4" fill="#fbd3dc"/><rect x="165.0" y="245.9" width="1.4" height="1.4" fill="#fbd3dc"/><rect x="163.5" y="249.6" width="1.4" height="1.4" fill="#fbd3dc"/><rect x="165.1" y="244.1" width="1.4" height="1.4" fill="#fbd3dc"/><rect x="165.9" y="242.8" width="1.4" height="1.4" fill="#fbd3dc"/><rect x="165.4" y="248.8" width="1.4" height="1.4" fill="#fbd3dc"/><rect x="163.7" y="249.3" width="1.4" height="1.4" fill="#fbd3dc"/><rect x="165.3" y="245.5" width="1.4" height="1.4" fill="#fbd3dc"/><rect x="165.4" y="243.2" width="1.4" height="1.4" fill="#fbd3dc"/><rect x="164.4" y="244.6" width="1.4" height="1.4" fill="#fbd3dc"/><rect x="163.0" y="247.2" width="1.4" height="1.4" fill="#fbd3dc"/><rect x="164.7" y="248.4" width="1.4" height="1.4" fill="#fbd3dc"/><rect x="165.4" y="245.8" width="1.4" height="1.4" fill="#fbd3dc"/><rect x="163.3" y="246.2" width="1.4" height="1.4" fill="#fbd3dc"/><rect x="164.3" y="241.6" width="1.4" height="1.4" fill="#fbd3dc"/><rect x="163.6" y="244.3" width="1.4" height="1.4" fill="#fbd3dc"/><rect x="165.6" y="248.9" width="1.4" height="1.4" fill="#fbd3dc"/><rect x="163.1" y="246.8" width="1.4" height="1.4" fill="#fbd3dc"/><rect x="163.8" y="249.7" width="1.4" height="1.4" fill="#fbd3dc"/><rect x="165.0" y="249.3" width="1.4" height="1.4" fill="#fbd3dc"/><rect x="163.3" y="249.7" width="1.4" height="1.4" fill="#fbd3dc"/><rect x="164.1" y="245.2" width="1.4" height="1.4" fill="#fbd3dc"/><rect x="163.9" y="245.1" width="1.4" height="1.4" fill="#fbd3dc"/><rect x="163.6" y="245.1" width="1.4" height="1.4" fill="#fbd3dc"/><rect x="165.9" y="247.7" width="1.4" height="1.4" fill="#fbd3dc"/><rect x="165.5" y="247.4" width="1.4" height="1.4" fill="#fbd3dc"/><rect x="165.8" y="248.7" width="1.4" height="1.4" fill="#fbd3dc"/><rect x="165.5" y="245.0" width="1.4" height="1.4" fill="#fbd3dc"/><rect x="164.7" y="248.8" width="1.4" height="1.4" fill="#fbd3dc"/><rect x="166.0" y="249.7" width="1.4" height="1.4" fill="#fbd3dc"/><rect x="164.8" y="249.8" width="1.4" height="1.4" fill="#fbd3dc"/><rect x="162.7" y="248.9" width="1.4" height="1.4" fill="#fbd3dc"/><rect x="163.1" y="249.4" width="1.4" height="1.4" fill="#fbd3dc"/><rect x="162.7" y="247.9" width="1.4" height="1.4" fill="#fbd3dc"/><rect x="165.8" y="248.3" width="1.4" height="1.4" fill="#fbd3dc"/><rect x="165.7" y="244.2" width="1.4" height="1.4" fill="#fbd3dc"/><rect x="164.6" y="247.9" width="1.4" height="1.4" fill="#fbd3dc"/><rect x="165.7" y="235.7" width="1.4" height="1.4" fill="#fbd3dc"/><rect x="165.3" y="246.8" width="1.4" height="1.4" fill="#fbd3dc"/><rect x="164.9" y="245.5" width="1.4" height="1.4" fill="#fbd3dc"/><rect x="164.3" y="249.5" width="1.4" height="1.4" fill="#fbd3dc"/><rect x="165.7" y="239.6" width="1.4" height="1.4" fill="#fbd3dc"/><rect x="164.4" y="249.4" width="1.4" height="1.4" fill="#fbd3dc"/><rect x="162.7" y="248.4" width="1.4" height="1.4" fill="#fbd3dc"/><rect x="164.1" y="244.0" width="1.4" height="1.4" fill="#fbd3dc"/><rect x="162.7" y="249.0" width="1.4" height="1.4" fill="#fbd3dc"/><rect x="164.1" y="242.9" width="1.4" height="1.4" fill="#fbd3dc"/><rect x="165.6" y="249.7" width="1.4" height="1.4" fill="#fbd3dc"/><rect x="162.1" y="249.5" width="1.4" height="1.4" fill="#fbd3dc"/><rect x="164.4" y="243.9" width="1.4" height="1.4" fill="#fbd3dc"/><rect x="164.8" y="246.0" width="1.4" height="1.4" fill="#fbd3dc"/><rect x="163.8" y="245.9" width="1.4" height="1.4" fill="#fbd3dc"/><rect x="166.0" y="236.7" width="1.4" height="1.4" fill="#fbd3dc"/><rect x="164.7" y="245.3" width="1.4" height="1.4" fill="#fbd3dc"/><rect x="162.2" y="248.9" width="1.4" height="1.4" fill="#fbd3dc"/><rect x="165.9" y="240.1" width="1.4" height="1.4" fill="#fbd3dc"/><rect x="163.5" y="245.2" width="1.4" height="1.4" fill="#fbd3dc"/><rect x="164.1" y="249.1" width="1.4" height="1.4" fill="#fbd3dc"/><rect x="165.8" y="234.7" width="1.4" height="1.4" fill="#fbd3dc"/><rect x="164.7" y="247.5" width="1.4" height="1.4" fill="#fbd3dc"/><rect x="163.5" y="247.4" width="1.4" height="1.4" fill="#fbd3dc"/><rect x="164.0" y="245.9" width="1.4" height="1.4" fill="#fbd3dc"/><rect x="164.3" y="249.3" width="1.4" height="1.4" fill="#fbd3dc"/><rect x="163.9" y="246.4" width="1.4" height="1.4" fill="#fbd3dc"/><rect x="163.8" y="241.3" width="1.4" height="1.4" fill="#fbd3dc"/><rect x="163.3" y="247.6" width="1.4" height="1.4" fill="#fbd3dc"/><rect x="165.5" y="241.1" width="1.4" height="1.4" fill="#fbd3dc"/><rect x="163.2" y="247.6" width="1.4" height="1.4" fill="#fbd3dc"/><rect x="164.2" y="241.6" width="1.4" height="1.4" fill="#fbd3dc"/><rect x="165.3" y="247.9" width="1.4" height="1.4" fill="#fbd3dc"/><rect x="163.5" y="248.5" width="1.4" height="1.4" fill="#fbd3dc"/><rect x="164.5" y="244.8" width="1.4" height="1.4" fill="#fbd3dc"/><rect x="164.7" y="249.4" width="1.4" height="1.4" fill="#fbd3dc"/><rect x="165.1" y="247.6" width="1.4" height="1.4" fill="#fbd3dc"/><rect x="165.7" y="246.9" width="1.4" height="1.4" fill="#fbd3dc"/><rect x="163.3" y="249.5" width="1.4" height="1.4" fill="#fbd3dc"/><rect x="162.1" y="249.3" width="1.4" height="1.4" fill="#fbd3dc"/><rect x="164.6" y="235.7" width="1.4" height="1.4" fill="#fbd3dc"/><rect x="164.8" y="246.0" width="1.4" height="1.4" fill="#fbd3dc"/><rect x="164.6" y="235.4" width="1.4" height="1.4" fill="#fbd3dc"/><rect x="164.6" y="242.4" width="1.4" height="1.4" fill="#fbd3dc"/><rect x="164.5" y="242.5" width="1.4" height="1.4" fill="#fbd3dc"/><rect x="164.9" y="247.2" width="1.4" height="1.4" fill="#fbd3dc"/><rect x="164.0" y="242.3" width="1.4" height="1.4" fill="#fbd3dc"/><rect x="165.2" y="245.6" width="1.4" height="1.4" fill="#fbd3dc"/><rect x="162.3" y="249.5" width="1.4" height="1.4" fill="#fbd3dc"/><rect x="165.3" y="239.2" width="1.4" height="1.4" fill="#fbd3dc"/><rect x="163.6" y="246.6" width="1.4" height="1.4" fill="#fbd3dc"/><rect x="165.5" y="247.2" width="1.4" height="1.4" fill="#fbd3dc"/><rect x="163.2" y="245.9" width="1.4" height="1.4" fill="#fbd3dc"/><rect x="163.3" y="247.0" width="1.4" height="1.4" fill="#fbd3dc"/><rect x="163.9" y="247.8" width="1.4" height="1.4" fill="#fbd3dc"/><rect x="164.7" y="247.7" width="1.4" height="1.4" fill="#fbd3dc"/><rect x="164.4" y="249.0" width="1.4" height="1.4" fill="#fbd3dc"/><rect x="162.3" y="248.6" width="1.4" height="1.4" fill="#fbd3dc"/><rect x="164.5" y="241.9" width="1.4" height="1.4" fill="#fbd3dc"/><rect x="165.8" y="248.3" width="1.4" height="1.4" fill="#fbd3dc"/><rect x="163.7" y="249.6" width="1.4" height="1.4" fill="#fbd3dc"/><rect x="164.5" y="232.7" width="1.4" height="1.4" fill="#fbd3dc"/><rect x="164.0" y="244.0" width="1.4" height="1.4" fill="#fbd3dc"/><rect x="163.8" y="244.4" width="1.4" height="1.4" fill="#fbd3dc"/><rect x="163.0" y="247.5" width="1.4" height="1.4" fill="#fbd3dc"/><rect x="162.7" y="249.6" width="1.4" height="1.4" fill="#fbd3dc"/><rect x="164.9" y="249.8" width="1.4" height="1.4" fill="#fbd3dc"/><rect x="162.6" y="249.1" width="1.4" height="1.4" fill="#fbd3dc"/><rect x="165.6" y="249.0" width="1.4" height="1.4" fill="#fbd3dc"/><rect x="162.6" y="246.9" width="1.4" height="1.4" fill="#fbd3dc"/><rect x="163.1" y="249.3" width="1.4" height="1.4" fill="#fbd3dc"/><rect x="165.1" y="248.8" width="1.4" height="1.4" fill="#fbd3dc"/><rect x="165.3" y="247.3" width="1.4" height="1.4" fill="#fbd3dc"/><rect x="165.0" y="242.0" width="1.4" height="1.4" fill="#fbd3dc"/><rect x="162.5" y="248.1" width="1.4" height="1.4" fill="#fbd3dc"/><rect x="164.7" y="247.9" width="1.4" height="1.4" fill="#fbd3dc"/><rect x="165.9" y="239.0" width="1.4" height="1.4" fill="#fbd3dc"/><rect x="163.1" y="245.0" width="1.4" height="1.4" fill="#fbd3dc"/><rect x="162.2" y="249.6" width="1.4" height="1.4" fill="#fbd3dc"/><rect x="162.2" y="249.1" width="1.4" height="1.4" fill="#fbd3dc"/><rect x="162.4" y="247.8" width="1.4" height="1.4" fill="#fbd3dc"/><rect x="163.4" y="249.5" width="1.4" height="1.4" fill="#fbd3dc"/><rect x="165.6" y="244.3" width="1.4" height="1.4" fill="#fbd3dc"/><rect x="164.1" y="244.9" width="1.4" height="1.4" fill="#fbd3dc"/><rect x="164.5" y="247.6" width="1.4" height="1.4" fill="#fbd3dc"/><rect x="163.9" y="248.6" width="1.4" height="1.4" fill="#fbd3dc"/><rect x="165.4" y="245.5" width="1.4" height="1.4" fill="#fbd3dc"/><rect x="163.6" y="246.2" width="1.4" height="1.4" fill="#fbd3dc"/><rect x="163.8" y="244.5" width="1.4" height="1.4" fill="#fbd3dc"/><rect x="163.7" y="247.4" width="1.4" height="1.4" fill="#fbd3dc"/><rect x="165.3" y="229.8" width="1.4" height="1.4" fill="#fbd3dc"/><rect x="164.4" y="249.2" width="1.4" height="1.4" fill="#fbd3dc"/><rect x="166.1" y="246.3" width="1.4" height="1.4" fill="#fbd3dc"/><rect x="165.0" y="246.6" width="1.4" height="1.4" fill="#fbd3dc"/><rect x="164.6" y="244.5" width="1.4" height="1.4" fill="#fbd3dc"/><rect x="166.1" y="242.9" width="1.4" height="1.4" fill="#fbd3dc"/><rect x="163.4" y="245.5" width="1.4" height="1.4" fill="#fbd3dc"/><rect x="163.9" y="246.2" width="1.4" height="1.4" fill="#fbd3dc"/><rect x="164.9" y="245.1" width="1.4" height="1.4" fill="#fbd3dc"/><rect x="164.6" y="240.2" width="1.4" height="1.4" fill="#fbd3dc"/><rect x="163.3" y="246.0" width="1.4" height="1.4" fill="#fbd3dc"/><rect x="162.1" y="249.8" width="1.4" height="1.4" fill="#fbd3dc"/><rect x="164.5" y="243.0" width="1.4" height="1.4" fill="#fbd3dc"/><rect x="165.4" y="247.9" width="1.4" height="1.4" fill="#fbd3dc"/><rect x="165.5" y="248.1" width="1.4" height="1.4" fill="#fbd3dc"/><rect x="147.3" y="241.9" width="1.3" height="1.3" fill="#3f7fee"/><rect x="146.3" y="209.0" width="1.3" height="1.3" fill="#3f7fee"/><rect x="148.3" y="247.7" width="1.3" height="1.3" fill="#3f7fee"/><rect x="137.9" y="236.2" width="1.3" height="1.3" fill="#3f7fee"/><rect x="151.8" y="243.3" width="1.3" height="1.3" fill="#3f7fee"/><rect x="141.6" y="244.3" width="1.3" height="1.3" fill="#3f7fee"/><rect x="139.4" y="238.0" width="1.3" height="1.3" fill="#3f7fee"/><rect x="137.7" y="245.4" width="1.3" height="1.3" fill="#3f7fee"/><rect x="134.8" y="243.1" width="1.3" height="1.3" fill="#3f7fee"/><rect x="144.2" y="245.5" width="1.3" height="1.3" fill="#3f7fee"/><rect x="140.9" y="234.8" width="1.3" height="1.3" fill="#3f7fee"/><rect x="146.2" y="249.1" width="1.3" height="1.3" fill="#3f7fee"/><rect x="141.0" y="218.5" width="1.3" height="1.3" fill="#3f7fee"/><rect x="155.6" y="227.3" width="1.3" height="1.3" fill="#3f7fee"/><rect x="146.1" y="249.3" width="1.3" height="1.3" fill="#3f7fee"/><rect x="128.4" y="219.7" width="1.3" height="1.3" fill="#3f7fee"/><rect x="152.6" y="239.3" width="1.3" height="1.3" fill="#3f7fee"/><rect x="150.8" y="213.7" width="1.3" height="1.3" fill="#3f7fee"/><rect x="148.8" y="248.9" width="1.3" height="1.3" fill="#3f7fee"/><rect x="154.3" y="249.1" width="1.3" height="1.3" fill="#3f7fee"/><rect x="135.6" y="236.7" width="1.3" height="1.3" fill="#3f7fee"/><rect x="155.1" y="248.2" width="1.3" height="1.3" fill="#3f7fee"/><rect x="149.3" y="227.6" width="1.3" height="1.3" fill="#3f7fee"/><rect x="144.9" y="220.1" width="1.3" height="1.3" fill="#3f7fee"/><rect x="147.6" y="245.6" width="1.3" height="1.3" fill="#3f7fee"/><rect x="125.2" y="236.1" width="1.3" height="1.3" fill="#3f7fee"/><rect x="152.7" y="229.1" width="1.3" height="1.3" fill="#3f7fee"/><rect x="149.5" y="247.8" width="1.3" height="1.3" fill="#3f7fee"/><rect x="153.0" y="247.9" width="1.3" height="1.3" fill="#3f7fee"/><rect x="139.3" y="231.1" width="1.3" height="1.3" fill="#3f7fee"/><rect x="144.1" y="247.1" width="1.3" height="1.3" fill="#3f7fee"/><rect x="152.7" y="240.3" width="1.3" height="1.3" fill="#3f7fee"/><rect x="153.1" y="236.0" width="1.3" height="1.3" fill="#3f7fee"/><rect x="140.4" y="249.2" width="1.3" height="1.3" fill="#3f7fee"/><rect x="141.5" y="243.7" width="1.3" height="1.3" fill="#3f7fee"/><rect x="141.5" y="246.1" width="1.3" height="1.3" fill="#3f7fee"/><rect x="155.8" y="228.3" width="1.3" height="1.3" fill="#3f7fee"/><rect x="139.7" y="234.9" width="1.3" height="1.3" fill="#3f7fee"/><rect x="137.1" y="238.8" width="1.3" height="1.3" fill="#3f7fee"/><rect x="153.4" y="235.9" width="1.3" height="1.3" fill="#3f7fee"/><rect x="155.0" y="243.8" width="1.3" height="1.3" fill="#3f7fee"/><rect x="154.8" y="232.3" width="1.3" height="1.3" fill="#3f7fee"/><rect x="154.5" y="243.3" width="1.3" height="1.3" fill="#3f7fee"/><rect x="133.8" y="248.4" width="1.3" height="1.3" fill="#3f7fee"/><rect x="136.8" y="222.5" width="1.3" height="1.3" fill="#3f7fee"/><rect x="147.2" y="244.0" width="1.3" height="1.3" fill="#3f7fee"/><rect x="150.2" y="219.2" width="1.3" height="1.3" fill="#3f7fee"/><rect x="149.5" y="247.4" width="1.3" height="1.3" fill="#3f7fee"/><rect x="151.8" y="241.3" width="1.3" height="1.3" fill="#3f7fee"/><rect x="150.2" y="199.8" width="1.3" height="1.3" fill="#3f7fee"/><rect x="155.1" y="234.5" width="1.3" height="1.3" fill="#3f7fee"/><rect x="154.2" y="229.1" width="1.3" height="1.3" fill="#3f7fee"/><rect x="144.7" y="245.9" width="1.3" height="1.3" fill="#3f7fee"/><rect x="155.3" y="247.8" width="1.3" height="1.3" fill="#3f7fee"/><rect x="143.6" y="242.5" width="1.3" height="1.3" fill="#3f7fee"/><rect x="143.5" y="223.7" width="1.3" height="1.3" fill="#3f7fee"/><rect x="153.9" y="235.6" width="1.3" height="1.3" fill="#3f7fee"/><rect x="140.3" y="231.1" width="1.3" height="1.3" fill="#3f7fee"/><rect x="136.5" y="240.9" width="1.3" height="1.3" fill="#3f7fee"/><rect x="134.3" y="240.9" width="1.3" height="1.3" fill="#3f7fee"/><rect x="154.2" y="241.1" width="1.3" height="1.3" fill="#3f7fee"/><rect x="150.0" y="249.8" width="1.3" height="1.3" fill="#3f7fee"/><rect x="148.1" y="247.2" width="1.3" height="1.3" fill="#3f7fee"/><rect x="149.9" y="207.8" width="1.3" height="1.3" fill="#3f7fee"/><rect x="149.5" y="238.0" width="1.3" height="1.3" fill="#3f7fee"/><rect x="141.2" y="248.3" width="1.3" height="1.3" fill="#3f7fee"/><rect x="144.6" y="232.0" width="1.3" height="1.3" fill="#3f7fee"/><rect x="145.6" y="226.2" width="1.3" height="1.3" fill="#3f7fee"/><rect x="154.3" y="245.5" width="1.3" height="1.3" fill="#3f7fee"/><rect x="153.4" y="249.1" width="1.3" height="1.3" fill="#3f7fee"/><rect x="140.9" y="249.6" width="1.3" height="1.3" fill="#3f7fee"/><rect x="144.5" y="229.3" width="1.3" height="1.3" fill="#3f7fee"/><rect x="135.7" y="249.4" width="1.3" height="1.3" fill="#3f7fee"/><rect x="146.8" y="242.9" width="1.3" height="1.3" fill="#3f7fee"/><rect x="149.1" y="236.6" width="1.3" height="1.3" fill="#3f7fee"/><rect x="148.3" y="215.8" width="1.3" height="1.3" fill="#3f7fee"/><rect x="137.0" y="242.2" width="1.3" height="1.3" fill="#3f7fee"/><rect x="136.6" y="243.6" width="1.3" height="1.3" fill="#3f7fee"/><rect x="145.5" y="212.6" width="1.3" height="1.3" fill="#3f7fee"/><rect x="153.0" y="240.7" width="1.3" height="1.3" fill="#3f7fee"/><rect x="130.0" y="193.2" width="1.3" height="1.3" fill="#3f7fee"/><rect x="154.9" y="231.8" width="1.3" height="1.3" fill="#3f7fee"/><rect x="126.7" y="234.4" width="1.3" height="1.3" fill="#3f7fee"/><rect x="142.9" y="235.1" width="1.3" height="1.3" fill="#3f7fee"/><rect x="148.4" y="249.5" width="1.3" height="1.3" fill="#3f7fee"/><rect x="132.4" y="244.4" width="1.3" height="1.3" fill="#3f7fee"/><rect x="154.1" y="219.8" width="1.3" height="1.3" fill="#3f7fee"/><rect x="141.5" y="242.2" width="1.3" height="1.3" fill="#3f7fee"/><rect x="153.7" y="242.0" width="1.3" height="1.3" fill="#3f7fee"/><rect x="133.9" y="247.7" width="1.3" height="1.3" fill="#3f7fee"/><rect x="148.4" y="241.8" width="1.3" height="1.3" fill="#3f7fee"/><rect x="142.5" y="234.4" width="1.3" height="1.3" fill="#3f7fee"/><rect x="137.5" y="208.4" width="1.3" height="1.3" fill="#3f7fee"/><rect x="145.7" y="247.3" width="1.3" height="1.3" fill="#3f7fee"/><rect x="151.8" y="243.7" width="1.3" height="1.3" fill="#3f7fee"/><rect x="156.0" y="231.1" width="1.3" height="1.3" fill="#3f7fee"/><rect x="144.7" y="244.5" width="1.3" height="1.3" fill="#3f7fee"/><rect x="143.5" y="226.3" width="1.3" height="1.3" fill="#3f7fee"/><rect x="151.5" y="245.5" width="1.3" height="1.3" fill="#3f7fee"/><rect x="149.7" y="249.7" width="1.3" height="1.3" fill="#3f7fee"/><rect x="135.9" y="242.8" width="1.3" height="1.3" fill="#3f7fee"/><rect x="152.1" y="242.2" width="1.3" height="1.3" fill="#3f7fee"/><rect x="153.7" y="245.6" width="1.3" height="1.3" fill="#3f7fee"/><rect x="135.6" y="249.2" width="1.3" height="1.3" fill="#3f7fee"/><rect x="148.2" y="247.3" width="1.3" height="1.3" fill="#3f7fee"/><rect x="132.7" y="249.0" width="1.3" height="1.3" fill="#3f7fee"/><rect x="150.5" y="233.6" width="1.3" height="1.3" fill="#3f7fee"/><rect x="151.3" y="216.5" width="1.3" height="1.3" fill="#3f7fee"/><rect x="145.0" y="214.5" width="1.3" height="1.3" fill="#3f7fee"/><rect x="138.3" y="228.2" width="1.3" height="1.3" fill="#3f7fee"/><rect x="135.6" y="241.5" width="1.3" height="1.3" fill="#3f7fee"/><rect x="146.7" y="232.0" width="1.3" height="1.3" fill="#3f7fee"/><rect x="138.4" y="235.2" width="1.3" height="1.3" fill="#3f7fee"/><rect x="147.9" y="230.7" width="1.3" height="1.3" fill="#3f7fee"/><rect x="149.5" y="240.4" width="1.3" height="1.3" fill="#3f7fee"/><rect x="138.3" y="238.3" width="1.3" height="1.3" fill="#3f7fee"/><rect x="154.2" y="247.3" width="1.3" height="1.3" fill="#3f7fee"/><rect x="144.4" y="226.1" width="1.3" height="1.3" fill="#3f7fee"/><rect x="136.5" y="231.6" width="1.3" height="1.3" fill="#3f7fee"/><rect x="148.6" y="249.7" width="1.3" height="1.3" fill="#3f7fee"/><rect x="144.8" y="222.6" width="1.3" height="1.3" fill="#3f7fee"/><rect x="139.5" y="231.8" width="1.3" height="1.3" fill="#3f7fee"/><rect x="147.5" y="237.6" width="1.3" height="1.3" fill="#3f7fee"/><rect x="144.0" y="222.6" width="1.3" height="1.3" fill="#3f7fee"/><rect x="152.1" y="238.2" width="1.3" height="1.3" fill="#3f7fee"/><rect x="144.9" y="223.4" width="1.3" height="1.3" fill="#3f7fee"/><rect x="138.2" y="197.7" width="1.3" height="1.3" fill="#3f7fee"/><rect x="156.3" y="239.9" width="1.3" height="1.3" fill="#3f7fee"/><rect x="137.4" y="245.1" width="1.3" height="1.3" fill="#3f7fee"/><rect x="129.4" y="218.1" width="1.3" height="1.3" fill="#3f7fee"/><rect x="134.9" y="239.3" width="1.3" height="1.3" fill="#3f7fee"/><rect x="127.8" y="223.7" width="1.3" height="1.3" fill="#3f7fee"/><rect x="151.9" y="238.0" width="1.3" height="1.3" fill="#3f7fee"/><rect x="154.3" y="235.8" width="1.3" height="1.3" fill="#3f7fee"/><rect x="131.6" y="249.8" width="1.3" height="1.3" fill="#3f7fee"/><rect x="138.2" y="236.3" width="1.3" height="1.3" fill="#3f7fee"/><rect x="151.6" y="234.1" width="1.3" height="1.3" fill="#3f7fee"/><rect x="152.8" y="229.9" width="1.3" height="1.3" fill="#3f7fee"/><rect x="142.5" y="218.2" width="1.3" height="1.3" fill="#3f7fee"/><rect x="149.0" y="246.8" width="1.3" height="1.3" fill="#3f7fee"/><rect x="144.7" y="247.1" width="1.3" height="1.3" fill="#3f7fee"/><rect x="154.5" y="230.9" width="1.3" height="1.3" fill="#3f7fee"/><rect x="137.6" y="249.7" width="1.3" height="1.3" fill="#3f7fee"/><rect x="149.3" y="239.0" width="1.3" height="1.3" fill="#3f7fee"/><rect x="152.5" y="230.9" width="1.3" height="1.3" fill="#3f7fee"/><rect x="150.5" y="240.9" width="1.3" height="1.3" fill="#3f7fee"/><rect x="135.0" y="237.6" width="1.3" height="1.3" fill="#3f7fee"/><rect x="143.3" y="249.0" width="1.3" height="1.3" fill="#3f7fee"/><rect x="141.2" y="202.0" width="1.3" height="1.3" fill="#3f7fee"/><rect x="134.7" y="246.3" width="1.3" height="1.3" fill="#3f7fee"/><rect x="132.7" y="244.4" width="1.3" height="1.3" fill="#3f7fee"/><rect x="149.5" y="244.4" width="1.3" height="1.3" fill="#3f7fee"/><rect x="135.5" y="239.2" width="1.3" height="1.3" fill="#3f7fee"/><rect x="154.4" y="246.4" width="1.3" height="1.3" fill="#3f7fee"/><rect x="143.2" y="190.2" width="1.3" height="1.3" fill="#3f7fee"/><rect x="145.7" y="239.5" width="1.3" height="1.3" fill="#3f7fee"/><rect x="155.4" y="241.8" width="1.3" height="1.3" fill="#3f7fee"/><rect x="154.1" y="245.4" width="1.3" height="1.3" fill="#3f7fee"/><rect x="142.0" y="246.0" width="1.3" height="1.3" fill="#3f7fee"/><rect x="149.7" y="244.3" width="1.3" height="1.3" fill="#3f7fee"/><rect x="136.7" y="247.3" width="1.3" height="1.3" fill="#3f7fee"/><rect x="140.2" y="224.5" width="1.3" height="1.3" fill="#3f7fee"/><rect x="133.0" y="248.6" width="1.3" height="1.3" fill="#3f7fee"/><rect x="155.2" y="244.3" width="1.3" height="1.3" fill="#3f7fee"/><rect x="152.2" y="227.9" width="1.3" height="1.3" fill="#3f7fee"/><rect x="152.9" y="245.3" width="1.3" height="1.3" fill="#3f7fee"/><rect x="147.5" y="230.5" width="1.3" height="1.3" fill="#3f7fee"/><rect x="138.7" y="235.7" width="1.3" height="1.3" fill="#3f7fee"/><rect x="151.4" y="248.2" width="1.3" height="1.3" fill="#3f7fee"/><rect x="136.2" y="240.4" width="1.3" height="1.3" fill="#3f7fee"/><rect x="144.9" y="236.6" width="1.3" height="1.3" fill="#3f7fee"/><rect x="156.3" y="245.9" width="1.3" height="1.3" fill="#3f7fee"/><rect x="140.4" y="240.2" width="1.3" height="1.3" fill="#3f7fee"/><rect x="147.8" y="212.8" width="1.3" height="1.3" fill="#3f7fee"/><rect x="153.3" y="241.8" width="1.3" height="1.3" fill="#3f7fee"/><rect x="141.5" y="239.3" width="1.3" height="1.3" fill="#3f7fee"/><rect x="142.1" y="242.6" width="1.3" height="1.3" fill="#3f7fee"/><rect x="152.5" y="239.1" width="1.3" height="1.3" fill="#3f7fee"/><rect x="154.8" y="226.1" width="1.3" height="1.3" fill="#3f7fee"/><rect x="152.1" y="248.9" width="1.3" height="1.3" fill="#3f7fee"/><rect x="154.7" y="244.3" width="1.3" height="1.3" fill="#3f7fee"/><rect x="156.7" y="237.4" width="1.3" height="1.3" fill="#3f7fee"/><rect x="136.6" y="237.6" width="1.3" height="1.3" fill="#3f7fee"/><rect x="148.4" y="240.7" width="1.3" height="1.3" fill="#3f7fee"/><rect x="136.8" y="244.9" width="1.3" height="1.3" fill="#3f7fee"/><rect x="136.1" y="249.3" width="1.3" height="1.3" fill="#3f7fee"/><rect x="155.6" y="245.4" width="1.3" height="1.3" fill="#3f7fee"/><rect x="157.1" y="239.1" width="1.3" height="1.3" fill="#3f7fee"/><rect x="152.3" y="239.2" width="1.3" height="1.3" fill="#3f7fee"/><rect x="133.2" y="243.6" width="1.3" height="1.3" fill="#3f7fee"/><rect x="155.6" y="225.3" width="1.3" height="1.3" fill="#3f7fee"/><rect x="156.5" y="240.6" width="1.3" height="1.3" fill="#3f7fee"/><rect x="133.8" y="244.7" width="1.3" height="1.3" fill="#3f7fee"/><rect x="140.8" y="242.4" width="1.3" height="1.3" fill="#3f7fee"/><rect x="132.4" y="247.1" width="1.3" height="1.3" fill="#3f7fee"/><rect x="156.4" y="242.0" width="1.3" height="1.3" fill="#3f7fee"/><rect x="151.5" y="234.7" width="1.3" height="1.3" fill="#3f7fee"/><rect x="136.2" y="243.1" width="1.3" height="1.3" fill="#3f7fee"/><rect x="146.2" y="223.5" width="1.3" height="1.3" fill="#3f7fee"/><rect x="151.7" y="246.5" width="1.3" height="1.3" fill="#3f7fee"/><rect x="150.9" y="235.1" width="1.3" height="1.3" fill="#3f7fee"/><rect x="149.1" y="227.2" width="1.3" height="1.3" fill="#3f7fee"/><rect x="138.9" y="247.4" width="1.3" height="1.3" fill="#3f7fee"/><rect x="150.3" y="248.8" width="1.3" height="1.3" fill="#3f7fee"/><rect x="154.0" y="239.4" width="1.3" height="1.3" fill="#3f7fee"/><rect x="151.1" y="241.6" width="1.3" height="1.3" fill="#3f7fee"/><rect x="156.2" y="231.8" width="1.3" height="1.3" fill="#3f7fee"/><rect x="142.7" y="247.7" width="1.3" height="1.3" fill="#3f7fee"/><rect x="142.8" y="247.0" width="1.3" height="1.3" fill="#3f7fee"/><rect x="148.4" y="237.3" width="1.3" height="1.3" fill="#3f7fee"/><rect x="134.0" y="243.7" width="1.3" height="1.3" fill="#3f7fee"/><rect x="155.3" y="223.6" width="1.3" height="1.3" fill="#3f7fee"/><rect x="152.9" y="249.5" width="1.3" height="1.3" fill="#3f7fee"/><rect x="152.1" y="244.8" width="1.3" height="1.3" fill="#3f7fee"/><rect x="149.2" y="208.3" width="1.3" height="1.3" fill="#3f7fee"/><rect x="138.3" y="231.9" width="1.3" height="1.3" fill="#3f7fee"/><rect x="154.2" y="242.4" width="1.3" height="1.3" fill="#3f7fee"/><rect x="145.2" y="226.8" width="1.3" height="1.3" fill="#3f7fee"/><rect x="156.7" y="236.4" width="1.3" height="1.3" fill="#3f7fee"/><rect x="150.4" y="229.1" width="1.3" height="1.3" fill="#3f7fee"/><rect x="154.7" y="238.0" width="1.3" height="1.3" fill="#3f7fee"/><rect x="141.3" y="238.7" width="1.3" height="1.3" fill="#3f7fee"/><rect x="148.3" y="222.6" width="1.3" height="1.3" fill="#3f7fee"/><rect x="154.1" y="249.8" width="1.3" height="1.3" fill="#3f7fee"/><rect x="133.8" y="216.1" width="1.3" height="1.3" fill="#3f7fee"/><rect x="152.1" y="237.2" width="1.3" height="1.3" fill="#3f7fee"/><rect x="150.8" y="233.7" width="1.3" height="1.3" fill="#3f7fee"/><rect x="151.6" y="241.2" width="1.3" height="1.3" fill="#3f7fee"/><rect x="144.9" y="245.2" width="1.3" height="1.3" fill="#3f7fee"/><rect x="151.1" y="225.4" width="1.3" height="1.3" fill="#3f7fee"/><rect x="153.3" y="215.1" width="1.3" height="1.3" fill="#3f7fee"/><rect x="134.7" y="199.5" width="1.3" height="1.3" fill="#3f7fee"/><rect x="141.6" y="241.2" width="1.3" height="1.3" fill="#3f7fee"/><rect x="133.0" y="245.9" width="1.3" height="1.3" fill="#3f7fee"/><rect x="150.7" y="249.3" width="1.3" height="1.3" fill="#3f7fee"/><rect x="141.6" y="247.8" width="1.3" height="1.3" fill="#3f7fee"/><rect x="146.9" y="236.5" width="1.3" height="1.3" fill="#3f7fee"/><rect x="144.8" y="247.2" width="1.3" height="1.3" fill="#3f7fee"/><rect x="135.0" y="248.7" width="1.3" height="1.3" fill="#3f7fee"/><rect x="146.5" y="242.6" width="1.3" height="1.3" fill="#3f7fee"/><rect x="145.8" y="237.7" width="1.3" height="1.3" fill="#3f7fee"/><rect x="153.3" y="247.6" width="1.3" height="1.3" fill="#3f7fee"/><rect x="144.2" y="240.2" width="1.3" height="1.3" fill="#3f7fee"/><rect x="148.2" y="233.8" width="1.3" height="1.3" fill="#3f7fee"/><rect x="156.8" y="229.8" width="1.3" height="1.3" fill="#3f7fee"/><rect x="136.9" y="247.4" width="1.3" height="1.3" fill="#3f7fee"/><rect x="136.2" y="201.8" width="1.3" height="1.3" fill="#3f7fee"/><rect x="138.6" y="245.9" width="1.3" height="1.3" fill="#3f7fee"/><rect x="157.0" y="245.8" width="1.3" height="1.3" fill="#3f7fee"/><rect x="140.7" y="224.9" width="1.3" height="1.3" fill="#3f7fee"/><rect x="151.6" y="227.6" width="1.3" height="1.3" fill="#3f7fee"/><rect x="152.4" y="215.9" width="1.3" height="1.3" fill="#3f7fee"/><rect x="139.0" y="229.1" width="1.3" height="1.3" fill="#3f7fee"/><rect x="149.9" y="222.9" width="1.3" height="1.3" fill="#3f7fee"/><rect x="152.2" y="248.8" width="1.3" height="1.3" fill="#3f7fee"/><rect x="155.8" y="231.9" width="1.3" height="1.3" fill="#3f7fee"/><rect x="133.9" y="247.7" width="1.3" height="1.3" fill="#3f7fee"/><rect x="148.1" y="232.9" width="1.3" height="1.3" fill="#3f7fee"/><rect x="156.9" y="235.3" width="1.3" height="1.3" fill="#3f7fee"/><rect x="145.1" y="231.6" width="1.3" height="1.3" fill="#3f7fee"/><rect x="155.0" y="236.6" width="1.3" height="1.3" fill="#3f7fee"/><rect x="147.4" y="249.5" width="1.3" height="1.3" fill="#3f7fee"/><rect x="154.9" y="229.9" width="1.3" height="1.3" fill="#3f7fee"/><rect x="131.7" y="249.0" width="1.3" height="1.3" fill="#3f7fee"/><rect x="137.3" y="242.6" width="1.3" height="1.3" fill="#3f7fee"/><rect x="154.7" y="240.5" width="1.3" height="1.3" fill="#3f7fee"/><rect x="153.7" y="240.0" width="1.3" height="1.3" fill="#3f7fee"/><rect x="134.9" y="249.5" width="1.3" height="1.3" fill="#3f7fee"/><rect x="150.2" y="235.7" width="1.3" height="1.3" fill="#3f7fee"/><rect x="150.4" y="238.0" width="1.3" height="1.3" fill="#3f7fee"/><rect x="156.9" y="228.8" width="1.3" height="1.3" fill="#3f7fee"/><rect x="155.0" y="244.0" width="1.3" height="1.3" fill="#3f7fee"/><rect x="146.6" y="235.7" width="1.3" height="1.3" fill="#3f7fee"/><rect x="132.8" y="249.7" width="1.3" height="1.3" fill="#3f7fee"/><rect x="138.8" y="229.8" width="1.3" height="1.3" fill="#3f7fee"/><rect x="154.2" y="224.9" width="1.3" height="1.3" fill="#3f7fee"/><rect x="152.1" y="226.1" width="1.3" height="1.3" fill="#3f7fee"/><rect x="153.1" y="214.1" width="1.3" height="1.3" fill="#3f7fee"/><rect x="148.5" y="232.2" width="1.3" height="1.3" fill="#3f7fee"/><rect x="148.8" y="236.9" width="1.3" height="1.3" fill="#3f7fee"/><rect x="150.8" y="225.9" width="1.3" height="1.3" fill="#3f7fee"/><rect x="150.1" y="245.0" width="1.3" height="1.3" fill="#3f7fee"/><rect x="155.2" y="233.7" width="1.3" height="1.3" fill="#3f7fee"/><rect x="148.1" y="242.3" width="1.3" height="1.3" fill="#3f7fee"/><rect x="156.3" y="244.2" width="1.3" height="1.3" fill="#3f7fee"/><rect x="145.7" y="230.0" width="1.3" height="1.3" fill="#3f7fee"/><rect x="143.6" y="228.1" width="1.3" height="1.3" fill="#3f7fee"/><rect x="154.3" y="226.0" width="1.3" height="1.3" fill="#3f7fee"/><rect x="138.7" y="230.6" width="1.3" height="1.3" fill="#3f7fee"/><rect x="147.1" y="242.1" width="1.3" height="1.3" fill="#3f7fee"/><rect x="156.9" y="245.4" width="1.3" height="1.3" fill="#3f7fee"/><rect x="135.9" y="243.8" width="1.3" height="1.3" fill="#3f7fee"/><rect x="153.9" y="228.9" width="1.3" height="1.3" fill="#3f7fee"/><rect x="151.1" y="225.5" width="1.3" height="1.3" fill="#3f7fee"/><rect x="137.6" y="242.9" width="1.3" height="1.3" fill="#3f7fee"/><rect x="154.1" y="229.2" width="1.3" height="1.3" fill="#3f7fee"/><rect x="140.0" y="238.0" width="1.3" height="1.3" fill="#3f7fee"/><rect x="139.4" y="240.0" width="1.3" height="1.3" fill="#3f7fee"/><rect x="155.1" y="236.6" width="1.3" height="1.3" fill="#3f7fee"/><rect x="143.1" y="236.4" width="1.3" height="1.3" fill="#3f7fee"/><rect x="152.7" y="249.7" width="1.3" height="1.3" fill="#3f7fee"/><rect x="153.8" y="229.3" width="1.3" height="1.3" fill="#3f7fee"/><rect x="149.2" y="186.9" width="1.3" height="1.3" fill="#3f7fee"/><rect x="154.7" y="245.7" width="1.3" height="1.3" fill="#3f7fee"/><rect x="138.9" y="233.7" width="1.3" height="1.3" fill="#3f7fee"/><rect x="145.6" y="234.1" width="1.3" height="1.3" fill="#3f7fee"/><rect x="152.7" y="227.0" width="1.3" height="1.3" fill="#3f7fee"/><rect x="139.7" y="233.4" width="1.3" height="1.3" fill="#3f7fee"/><rect x="155.5" y="219.8" width="1.3" height="1.3" fill="#3f7fee"/><rect x="152.2" y="226.4" width="1.3" height="1.3" fill="#3f7fee"/><rect x="157.0" y="236.4" width="1.3" height="1.3" fill="#3f7fee"/><rect x="147.6" y="238.7" width="1.3" height="1.3" fill="#3f7fee"/><rect x="144.8" y="202.9" width="1.3" height="1.3" fill="#3f7fee"/><rect x="156.8" y="249.0" width="1.3" height="1.3" fill="#3f7fee"/><rect x="145.1" y="225.1" width="1.3" height="1.3" fill="#3f7fee"/><rect x="154.9" y="235.3" width="1.3" height="1.3" fill="#3f7fee"/><rect x="155.7" y="242.5" width="1.3" height="1.3" fill="#3f7fee"/><rect x="137.8" y="210.4" width="1.3" height="1.3" fill="#3f7fee"/><rect x="137.8" y="244.0" width="1.3" height="1.3" fill="#3f7fee"/><rect x="154.8" y="247.1" width="1.3" height="1.3" fill="#3f7fee"/><rect x="142.4" y="237.1" width="1.3" height="1.3" fill="#3f7fee"/><rect x="150.7" y="248.3" width="1.3" height="1.3" fill="#3f7fee"/><rect x="149.0" y="220.8" width="1.3" height="1.3" fill="#3f7fee"/><rect x="155.7" y="242.3" width="1.3" height="1.3" fill="#3f7fee"/><rect x="153.2" y="233.9" width="1.3" height="1.3" fill="#3f7fee"/><rect x="148.7" y="241.1" width="1.3" height="1.3" fill="#3f7fee"/><rect x="145.1" y="189.7" width="1.3" height="1.3" fill="#3f7fee"/><rect x="135.9" y="245.8" width="1.3" height="1.3" fill="#3f7fee"/><rect x="153.1" y="239.9" width="1.3" height="1.3" fill="#3f7fee"/><rect x="135.0" y="243.0" width="1.3" height="1.3" fill="#3f7fee"/><rect x="147.9" y="225.0" width="1.3" height="1.3" fill="#3f7fee"/><rect x="135.2" y="240.6" width="1.3" height="1.3" fill="#3f7fee"/><rect x="148.9" y="244.9" width="1.3" height="1.3" fill="#3f7fee"/><rect x="147.7" y="249.3" width="1.3" height="1.3" fill="#3f7fee"/><rect x="132.2" y="247.6" width="1.3" height="1.3" fill="#3f7fee"/><rect x="139.8" y="246.7" width="1.3" height="1.3" fill="#3f7fee"/><rect x="156.8" y="247.5" width="1.3" height="1.3" fill="#3f7fee"/><rect x="134.1" y="240.4" width="1.3" height="1.3" fill="#3f7fee"/><rect x="149.8" y="210.5" width="1.3" height="1.3" fill="#3f7fee"/><rect x="155.9" y="232.4" width="1.3" height="1.3" fill="#3f7fee"/><rect x="148.5" y="249.6" width="1.3" height="1.3" fill="#3f7fee"/><rect x="142.5" y="195.3" width="1.3" height="1.3" fill="#3f7fee"/><rect x="147.0" y="240.1" width="1.3" height="1.3" fill="#3f7fee"/><rect x="141.4" y="230.2" width="1.3" height="1.3" fill="#3f7fee"/><rect x="155.6" y="240.0" width="1.3" height="1.3" fill="#3f7fee"/><rect x="154.2" y="239.2" width="1.3" height="1.3" fill="#3f7fee"/><rect x="132.5" y="245.2" width="1.3" height="1.3" fill="#3f7fee"/><rect x="154.4" y="248.8" width="1.3" height="1.3" fill="#3f7fee"/><rect x="146.4" y="235.2" width="1.3" height="1.3" fill="#3f7fee"/><rect x="157.0" y="235.4" width="1.3" height="1.3" fill="#3f7fee"/><rect x="145.3" y="219.0" width="1.3" height="1.3" fill="#3f7fee"/><rect x="154.8" y="240.4" width="1.3" height="1.3" fill="#3f7fee"/><rect x="132.3" y="248.4" width="1.3" height="1.3" fill="#3f7fee"/><rect x="155.0" y="249.8" width="1.3" height="1.3" fill="#3f7fee"/><rect x="133.8" y="245.3" width="1.3" height="1.3" fill="#3f7fee"/><rect x="153.0" y="247.8" width="1.3" height="1.3" fill="#3f7fee"/><rect x="146.1" y="211.8" width="1.3" height="1.3" fill="#3f7fee"/><rect x="140.8" y="240.1" width="1.3" height="1.3" fill="#3f7fee"/><rect x="151.8" y="230.1" width="1.3" height="1.3" fill="#3f7fee"/><rect x="132.3" y="247.9" width="1.3" height="1.3" fill="#3f7fee"/><rect x="142.2" y="235.7" width="1.3" height="1.3" fill="#3f7fee"/><rect x="156.1" y="238.7" width="1.3" height="1.3" fill="#3f7fee"/><rect x="146.4" y="226.3" width="1.3" height="1.3" fill="#3f7fee"/><rect x="148.6" y="240.2" width="1.3" height="1.3" fill="#3f7fee"/><rect x="149.4" y="226.3" width="1.3" height="1.3" fill="#3f7fee"/><rect x="134.4" y="242.5" width="1.3" height="1.3" fill="#3f7fee"/><rect x="147.3" y="246.9" width="1.3" height="1.3" fill="#3f7fee"/><rect x="155.0" y="231.2" width="1.3" height="1.3" fill="#3f7fee"/><rect x="145.9" y="243.2" width="1.3" height="1.3" fill="#3f7fee"/><rect x="137.2" y="238.5" width="1.3" height="1.3" fill="#3f7fee"/><rect x="139.5" y="248.8" width="1.3" height="1.3" fill="#3f7fee"/><rect x="136.8" y="247.9" width="1.3" height="1.3" fill="#3f7fee"/><rect x="152.8" y="243.1" width="1.3" height="1.3" fill="#3f7fee"/><rect x="143.2" y="231.6" width="1.3" height="1.3" fill="#3f7fee"/><rect x="156.0" y="228.4" width="1.3" height="1.3" fill="#3f7fee"/><rect x="145.0" y="210.1" width="1.3" height="1.3" fill="#3f7fee"/><rect x="153.1" y="245.9" width="1.3" height="1.3" fill="#3f7fee"/><rect x="148.0" y="243.1" width="1.3" height="1.3" fill="#3f7fee"/><rect x="150.8" y="249.6" width="1.3" height="1.3" fill="#3f7fee"/><rect x="144.7" y="246.1" width="1.3" height="1.3" fill="#3f7fee"/><rect x="147.1" y="241.9" width="1.3" height="1.3" fill="#3f7fee"/><rect x="153.0" y="247.9" width="1.3" height="1.3" fill="#3f7fee"/><rect x="152.3" y="236.2" width="1.3" height="1.3" fill="#3f7fee"/><rect x="151.3" y="226.0" width="1.3" height="1.3" fill="#3f7fee"/><rect x="156.6" y="242.7" width="1.3" height="1.3" fill="#3f7fee"/><rect x="153.9" y="223.9" width="1.3" height="1.3" fill="#3f7fee"/><rect x="146.1" y="239.1" width="1.3" height="1.3" fill="#3f7fee"/><rect x="144.5" y="244.3" width="1.3" height="1.3" fill="#3f7fee"/><rect x="132.4" y="226.8" width="1.3" height="1.3" fill="#3f7fee"/><rect x="155.0" y="237.8" width="1.3" height="1.3" fill="#3f7fee"/><rect x="146.7" y="226.0" width="1.3" height="1.3" fill="#3f7fee"/><rect x="144.1" y="237.0" width="1.3" height="1.3" fill="#3f7fee"/><rect x="153.3" y="236.6" width="1.3" height="1.3" fill="#3f7fee"/><rect x="135.0" y="244.3" width="1.3" height="1.3" fill="#3f7fee"/><rect x="137.1" y="235.7" width="1.3" height="1.3" fill="#3f7fee"/><rect x="156.7" y="237.7" width="1.3" height="1.3" fill="#3f7fee"/><rect x="156.4" y="243.7" width="1.3" height="1.3" fill="#3f7fee"/><rect x="137.3" y="248.8" width="1.3" height="1.3" fill="#3f7fee"/><rect x="151.5" y="229.2" width="1.3" height="1.3" fill="#3f7fee"/><rect x="141.5" y="234.8" width="1.3" height="1.3" fill="#3f7fee"/><rect x="141.2" y="233.4" width="1.3" height="1.3" fill="#3f7fee"/><rect x="129.7" y="195.7" width="1.3" height="1.3" fill="#3f7fee"/><rect x="150.9" y="249.8" width="1.3" height="1.3" fill="#3f7fee"/><rect x="143.6" y="208.8" width="1.3" height="1.3" fill="#3f7fee"/><rect x="152.7" y="235.4" width="1.3" height="1.3" fill="#3f7fee"/><rect x="148.8" y="243.7" width="1.3" height="1.3" fill="#3f7fee"/><rect x="150.0" y="242.5" width="1.3" height="1.3" fill="#3f7fee"/><rect x="156.5" y="242.3" width="1.3" height="1.3" fill="#3f7fee"/><rect x="146.9" y="240.2" width="1.3" height="1.3" fill="#3f7fee"/><rect x="136.3" y="244.3" width="1.3" height="1.3" fill="#3f7fee"/><rect x="153.7" y="240.5" width="1.3" height="1.3" fill="#3f7fee"/><rect x="149.0" y="241.9" width="1.3" height="1.3" fill="#3f7fee"/><rect x="138.0" y="236.5" width="1.3" height="1.3" fill="#3f7fee"/><rect x="155.8" y="227.6" width="1.3" height="1.3" fill="#3f7fee"/><rect x="133.5" y="243.0" width="1.3" height="1.3" fill="#3f7fee"/><rect x="148.4" y="248.8" width="1.3" height="1.3" fill="#3f7fee"/><rect x="143.6" y="245.0" width="1.3" height="1.3" fill="#3f7fee"/><rect x="150.5" y="229.4" width="1.3" height="1.3" fill="#3f7fee"/><rect x="140.4" y="222.0" width="1.3" height="1.3" fill="#3f7fee"/><rect x="153.7" y="246.7" width="1.3" height="1.3" fill="#3f7fee"/><rect x="156.9" y="244.1" width="1.3" height="1.3" fill="#3f7fee"/><rect x="155.9" y="226.4" width="1.3" height="1.3" fill="#3f7fee"/><rect x="142.1" y="223.7" width="1.3" height="1.3" fill="#3f7fee"/><rect x="154.9" y="220.3" width="1.3" height="1.3" fill="#3f7fee"/><rect x="136.7" y="246.7" width="1.3" height="1.3" fill="#3f7fee"/><rect x="151.3" y="246.6" width="1.3" height="1.3" fill="#3f7fee"/><rect x="153.9" y="240.1" width="1.3" height="1.3" fill="#3f7fee"/><rect x="145.5" y="229.1" width="1.3" height="1.3" fill="#3f7fee"/><rect x="149.8" y="244.5" width="1.3" height="1.3" fill="#3f7fee"/><rect x="155.9" y="234.3" width="1.3" height="1.3" fill="#3f7fee"/><rect x="141.5" y="227.4" width="1.3" height="1.3" fill="#3f7fee"/><rect x="133.9" y="238.9" width="1.3" height="1.3" fill="#3f7fee"/><rect x="151.9" y="232.6" width="1.3" height="1.3" fill="#3f7fee"/><rect x="133.7" y="246.8" width="1.3" height="1.3" fill="#3f7fee"/><rect x="140.8" y="227.3" width="1.3" height="1.3" fill="#3f7fee"/><rect x="156.0" y="245.3" width="1.3" height="1.3" fill="#3f7fee"/><rect x="152.6" y="248.7" width="1.3" height="1.3" fill="#3f7fee"/><rect x="132.5" y="245.7" width="1.3" height="1.3" fill="#3f7fee"/><rect x="150.5" y="248.6" width="1.3" height="1.3" fill="#3f7fee"/><rect x="148.0" y="231.6" width="1.3" height="1.3" fill="#3f7fee"/><rect x="138.2" y="248.8" width="1.3" height="1.3" fill="#3f7fee"/><rect x="155.9" y="232.3" width="1.3" height="1.3" fill="#3f7fee"/><rect x="147.7" y="238.6" width="1.3" height="1.3" fill="#3f7fee"/><rect x="142.5" y="234.8" width="1.3" height="1.3" fill="#3f7fee"/><rect x="149.9" y="246.1" width="1.3" height="1.3" fill="#3f7fee"/><rect x="133.3" y="244.2" width="1.3" height="1.3" fill="#3f7fee"/><rect x="150.8" y="247.4" width="1.3" height="1.3" fill="#3f7fee"/><rect x="156.3" y="246.8" width="1.3" height="1.3" fill="#3f7fee"/><rect x="145.7" y="238.8" width="1.3" height="1.3" fill="#3f7fee"/><rect x="145.7" y="240.1" width="1.3" height="1.3" fill="#3f7fee"/><rect x="149.2" y="247.4" width="1.3" height="1.3" fill="#3f7fee"/><rect x="135.6" y="237.4" width="1.3" height="1.3" fill="#3f7fee"/><rect x="133.3" y="244.2" width="1.3" height="1.3" fill="#3f7fee"/><rect x="141.2" y="229.5" width="1.3" height="1.3" fill="#3f7fee"/><rect x="152.5" y="242.5" width="1.3" height="1.3" fill="#3f7fee"/><rect x="151.9" y="248.0" width="1.3" height="1.3" fill="#3f7fee"/><rect x="153.2" y="230.7" width="1.3" height="1.3" fill="#3f7fee"/><rect x="149.3" y="227.2" width="1.3" height="1.3" fill="#3f7fee"/><rect x="149.6" y="186.7" width="1.3" height="1.3" fill="#3f7fee"/><rect x="153.9" y="238.1" width="1.3" height="1.3" fill="#3f7fee"/><rect x="132.7" y="249.6" width="1.3" height="1.3" fill="#3f7fee"/><rect x="151.1" y="236.7" width="1.3" height="1.3" fill="#3f7fee"/><rect x="156.0" y="235.4" width="1.3" height="1.3" fill="#3f7fee"/><rect x="151.1" y="246.1" width="1.3" height="1.3" fill="#3f7fee"/><rect x="153.5" y="227.9" width="1.3" height="1.3" fill="#3f7fee"/><rect x="130.3" y="220.1" width="1.3" height="1.3" fill="#3f7fee"/><rect x="138.5" y="230.8" width="1.3" height="1.3" fill="#3f7fee"/><rect x="148.8" y="244.4" width="1.3" height="1.3" fill="#3f7fee"/><rect x="146.0" y="247.5" width="1.3" height="1.3" fill="#3f7fee"/><rect x="140.9" y="239.2" width="1.3" height="1.3" fill="#3f7fee"/><rect x="132.5" y="245.6" width="1.3" height="1.3" fill="#3f7fee"/><rect x="137.0" y="230.8" width="1.3" height="1.3" fill="#3f7fee"/><rect x="147.1" y="227.7" width="1.3" height="1.3" fill="#3f7fee"/><rect x="137.1" y="232.2" width="1.3" height="1.3" fill="#3f7fee"/><rect x="132.7" y="244.4" width="1.3" height="1.3" fill="#3f7fee"/><rect x="132.4" y="248.5" width="1.3" height="1.3" fill="#3f7fee"/><rect x="139.7" y="243.3" width="1.3" height="1.3" fill="#3f7fee"/><rect x="147.8" y="238.2" width="1.3" height="1.3" fill="#3f7fee"/><rect x="150.1" y="237.5" width="1.3" height="1.3" fill="#3f7fee"/><rect x="141.0" y="210.7" width="1.3" height="1.3" fill="#3f7fee"/><rect x="137.6" y="236.9" width="1.3" height="1.3" fill="#3f7fee"/><rect x="142.3" y="239.2" width="1.3" height="1.3" fill="#3f7fee"/><rect x="136.7" y="249.8" width="1.3" height="1.3" fill="#3f7fee"/><rect x="156.9" y="235.1" width="1.3" height="1.3" fill="#3f7fee"/><rect x="143.7" y="240.8" width="1.3" height="1.3" fill="#3f7fee"/><rect x="150.4" y="232.6" width="1.3" height="1.3" fill="#3f7fee"/><rect x="156.0" y="236.0" width="1.3" height="1.3" fill="#3f7fee"/><rect x="142.1" y="246.5" width="1.3" height="1.3" fill="#3f7fee"/><rect x="149.6" y="248.8" width="1.3" height="1.3" fill="#3f7fee"/><rect x="153.5" y="237.1" width="1.3" height="1.3" fill="#3f7fee"/><rect x="135.0" y="238.3" width="1.3" height="1.3" fill="#3f7fee"/><rect x="146.6" y="234.2" width="1.3" height="1.3" fill="#3f7fee"/><rect x="145.8" y="198.3" width="1.3" height="1.3" fill="#3f7fee"/><rect x="145.9" y="246.3" width="1.3" height="1.3" fill="#3f7fee"/><rect x="149.0" y="234.8" width="1.3" height="1.3" fill="#3f7fee"/><rect x="157.0" y="247.2" width="1.3" height="1.3" fill="#3f7fee"/><rect x="135.9" y="244.7" width="1.3" height="1.3" fill="#3f7fee"/><rect x="146.7" y="216.3" width="1.3" height="1.3" fill="#3f7fee"/><rect x="143.2" y="220.9" width="1.3" height="1.3" fill="#3f7fee"/><rect x="142.1" y="238.6" width="1.3" height="1.3" fill="#3f7fee"/><rect x="141.6" y="233.1" width="1.3" height="1.3" fill="#3f7fee"/><rect x="132.2" y="247.8" width="1.3" height="1.3" fill="#3f7fee"/><rect x="145.7" y="215.3" width="1.3" height="1.3" fill="#3f7fee"/><rect x="152.8" y="217.5" width="1.3" height="1.3" fill="#3f7fee"/><rect x="147.4" y="246.2" width="1.3" height="1.3" fill="#3f7fee"/><rect x="127.8" y="240.9" width="1.3" height="1.3" fill="#3f7fee"/><rect x="144.5" y="240.8" width="1.3" height="1.3" fill="#3f7fee"/><rect x="154.9" y="224.4" width="1.3" height="1.3" fill="#3f7fee"/><rect x="139.0" y="238.4" width="1.3" height="1.3" fill="#3f7fee"/><rect x="132.1" y="246.3" width="1.3" height="1.3" fill="#3f7fee"/><rect x="136.2" y="219.2" width="1.3" height="1.3" fill="#3f7fee"/><rect x="137.6" y="241.8" width="1.3" height="1.3" fill="#3f7fee"/><rect x="144.6" y="224.0" width="1.3" height="1.3" fill="#3f7fee"/><rect x="155.1" y="229.9" width="1.3" height="1.3" fill="#3f7fee"/><rect x="139.8" y="243.4" width="1.3" height="1.3" fill="#3f7fee"/><rect x="151.8" y="226.6" width="1.3" height="1.3" fill="#3f7fee"/><rect x="145.8" y="205.8" width="1.3" height="1.3" fill="#3f7fee"/><rect x="153.9" y="235.6" width="1.3" height="1.3" fill="#3f7fee"/><rect x="152.6" y="241.6" width="1.3" height="1.3" fill="#3f7fee"/><rect x="143.8" y="212.4" width="1.3" height="1.3" fill="#3f7fee"/><rect x="147.8" y="235.0" width="1.3" height="1.3" fill="#3f7fee"/><rect x="144.5" y="240.5" width="1.3" height="1.3" fill="#3f7fee"/><rect x="139.2" y="237.0" width="1.3" height="1.3" fill="#3f7fee"/><rect x="142.4" y="215.2" width="1.3" height="1.3" fill="#3f7fee"/><rect x="150.2" y="234.9" width="1.3" height="1.3" fill="#3f7fee"/><rect x="143.0" y="228.4" width="1.3" height="1.3" fill="#3f7fee"/><rect x="137.0" y="243.9" width="1.3" height="1.3" fill="#3f7fee"/><rect x="156.3" y="248.1" width="1.3" height="1.3" fill="#3f7fee"/><rect x="139.3" y="239.8" width="1.3" height="1.3" fill="#3f7fee"/><rect x="148.8" y="247.0" width="1.3" height="1.3" fill="#3f7fee"/><rect x="142.6" y="227.9" width="1.3" height="1.3" fill="#3f7fee"/><rect x="155.4" y="226.8" width="1.3" height="1.3" fill="#3f7fee"/><rect x="149.5" y="240.6" width="1.3" height="1.3" fill="#3f7fee"/><rect x="135.6" y="242.9" width="1.3" height="1.3" fill="#3f7fee"/><rect x="146.1" y="243.0" width="1.3" height="1.3" fill="#3f7fee"/><rect x="156.3" y="239.8" width="1.3" height="1.3" fill="#3f7fee"/><rect x="149.9" y="237.0" width="1.3" height="1.3" fill="#3f7fee"/><rect x="152.3" y="228.4" width="1.3" height="1.3" fill="#3f7fee"/><rect x="144.4" y="245.8" width="1.3" height="1.3" fill="#3f7fee"/><rect x="156.7" y="224.6" width="1.3" height="1.3" fill="#3f7fee"/><rect x="144.0" y="207.2" width="1.3" height="1.3" fill="#3f7fee"/><rect x="152.8" y="219.6" width="1.3" height="1.3" fill="#3f7fee"/><rect x="153.0" y="226.3" width="1.3" height="1.3" fill="#3f7fee"/><rect x="156.3" y="231.3" width="1.3" height="1.3" fill="#3f7fee"/><rect x="153.6" y="248.3" width="1.3" height="1.3" fill="#3f7fee"/><rect x="137.3" y="238.8" width="1.3" height="1.3" fill="#3f7fee"/><rect x="153.9" y="248.0" width="1.3" height="1.3" fill="#3f7fee"/><rect x="156.7" y="225.2" width="1.3" height="1.3" fill="#3f7fee"/><rect x="152.3" y="241.3" width="1.3" height="1.3" fill="#3f7fee"/><rect x="137.6" y="236.4" width="1.3" height="1.3" fill="#3f7fee"/><rect x="153.4" y="242.2" width="1.3" height="1.3" fill="#3f7fee"/><rect x="144.7" y="228.9" width="1.3" height="1.3" fill="#3f7fee"/><rect x="136.6" y="240.1" width="1.3" height="1.3" fill="#3f7fee"/><rect x="138.5" y="241.0" width="1.3" height="1.3" fill="#3f7fee"/><rect x="156.4" y="233.6" width="1.3" height="1.3" fill="#3f7fee"/><rect x="149.3" y="234.8" width="1.3" height="1.3" fill="#3f7fee"/><rect x="135.7" y="236.0" width="1.3" height="1.3" fill="#3f7fee"/><rect x="142.2" y="188.6" width="1.3" height="1.3" fill="#3f7fee"/><rect x="147.2" y="239.5" width="1.3" height="1.3" fill="#3f7fee"/><rect x="156.2" y="236.6" width="1.3" height="1.3" fill="#3f7fee"/><rect x="154.1" y="244.2" width="1.3" height="1.3" fill="#3f7fee"/><rect x="139.8" y="239.1" width="1.3" height="1.3" fill="#3f7fee"/><rect x="140.8" y="243.7" width="1.3" height="1.3" fill="#3f7fee"/><rect x="140.9" y="224.9" width="1.3" height="1.3" fill="#3f7fee"/><rect x="141.5" y="218.3" width="1.3" height="1.3" fill="#3f7fee"/><rect x="153.8" y="233.1" width="1.3" height="1.3" fill="#3f7fee"/><rect x="148.5" y="225.2" width="1.3" height="1.3" fill="#3f7fee"/><rect x="150.4" y="235.9" width="1.3" height="1.3" fill="#3f7fee"/><rect x="142.8" y="222.3" width="1.3" height="1.3" fill="#3f7fee"/><rect x="150.4" y="226.4" width="1.3" height="1.3" fill="#3f7fee"/><rect x="155.7" y="247.4" width="1.3" height="1.3" fill="#3f7fee"/><rect x="123.6" y="233.1" width="1.3" height="1.3" fill="#3f7fee"/><rect x="137.2" y="248.5" width="1.3" height="1.3" fill="#3f7fee"/><rect x="146.4" y="244.2" width="1.3" height="1.3" fill="#3f7fee"/><rect x="134.4" y="238.8" width="1.3" height="1.3" fill="#3f7fee"/><rect x="139.4" y="204.4" width="1.3" height="1.3" fill="#3f7fee"/><rect x="137.5" y="247.4" width="1.3" height="1.3" fill="#3f7fee"/><rect x="153.6" y="241.4" width="1.3" height="1.3" fill="#3f7fee"/><rect x="136.9" y="241.3" width="1.3" height="1.3" fill="#3f7fee"/><rect x="135.0" y="249.2" width="1.3" height="1.3" fill="#3f7fee"/><rect x="143.1" y="234.1" width="1.3" height="1.3" fill="#3f7fee"/><rect x="151.0" y="244.2" width="1.3" height="1.3" fill="#3f7fee"/><rect x="134.5" y="249.0" width="1.3" height="1.3" fill="#3f7fee"/><rect x="155.3" y="241.3" width="1.3" height="1.3" fill="#3f7fee"/><rect x="142.8" y="236.4" width="1.3" height="1.3" fill="#3f7fee"/><rect x="140.2" y="239.7" width="1.3" height="1.3" fill="#3f7fee"/><rect x="141.7" y="242.8" width="1.3" height="1.3" fill="#3f7fee"/><rect x="152.6" y="246.1" width="1.3" height="1.3" fill="#3f7fee"/><rect x="145.3" y="227.2" width="1.3" height="1.3" fill="#3f7fee"/><rect x="153.1" y="244.2" width="1.3" height="1.3" fill="#3f7fee"/><rect x="138.2" y="235.0" width="1.3" height="1.3" fill="#3f7fee"/><rect x="152.3" y="219.4" width="1.3" height="1.3" fill="#3f7fee"/><rect x="156.6" y="231.5" width="1.3" height="1.3" fill="#3f7fee"/><rect x="141.8" y="227.6" width="1.3" height="1.3" fill="#3f7fee"/><rect x="155.9" y="242.3" width="1.3" height="1.3" fill="#3f7fee"/><rect x="156.9" y="247.9" width="1.3" height="1.3" fill="#3f7fee"/><rect x="132.4" y="238.3" width="1.3" height="1.3" fill="#3f7fee"/><rect x="150.1" y="247.1" width="1.3" height="1.3" fill="#3f7fee"/><rect x="145.7" y="201.6" width="1.3" height="1.3" fill="#3f7fee"/><rect x="136.2" y="236.6" width="1.3" height="1.3" fill="#3f7fee"/><rect x="143.3" y="225.0" width="1.3" height="1.3" fill="#3f7fee"/><rect x="156.5" y="244.1" width="1.3" height="1.3" fill="#3f7fee"/><rect x="157.0" y="249.5" width="1.3" height="1.3" fill="#3f7fee"/><rect x="152.4" y="246.6" width="1.3" height="1.3" fill="#3f7fee"/><rect x="145.7" y="244.1" width="1.3" height="1.3" fill="#3f7fee"/><rect x="155.6" y="236.2" width="1.3" height="1.3" fill="#3f7fee"/><rect x="155.9" y="229.5" width="1.3" height="1.3" fill="#3f7fee"/><rect x="148.5" y="240.9" width="1.3" height="1.3" fill="#3f7fee"/><rect x="150.7" y="245.9" width="1.3" height="1.3" fill="#3f7fee"/><rect x="132.1" y="249.9" width="1.3" height="1.3" fill="#3f7fee"/><rect x="155.5" y="236.1" width="1.3" height="1.3" fill="#3f7fee"/><rect x="147.8" y="234.2" width="1.3" height="1.3" fill="#3f7fee"/><rect x="141.4" y="210.3" width="1.3" height="1.3" fill="#3f7fee"/><rect x="148.0" y="204.8" width="1.3" height="1.3" fill="#3f7fee"/><rect x="140.6" y="202.8" width="1.3" height="1.3" fill="#3f7fee"/><rect x="135.4" y="239.0" width="1.3" height="1.3" fill="#3f7fee"/><rect x="140.7" y="242.7" width="1.3" height="1.3" fill="#3f7fee"/><rect x="151.1" y="240.9" width="1.3" height="1.3" fill="#3f7fee"/><rect x="133.9" y="192.0" width="1.3" height="1.3" fill="#3f7fee"/><rect x="153.9" y="215.6" width="1.3" height="1.3" fill="#3f7fee"/><rect x="155.8" y="236.7" width="1.3" height="1.3" fill="#3f7fee"/><rect x="153.3" y="224.7" width="1.3" height="1.3" fill="#3f7fee"/><rect x="138.8" y="227.1" width="1.3" height="1.3" fill="#3f7fee"/><rect x="148.7" y="231.0" width="1.3" height="1.3" fill="#3f7fee"/><rect x="137.1" y="239.6" width="1.3" height="1.3" fill="#3f7fee"/><rect x="145.6" y="245.3" width="1.3" height="1.3" fill="#3f7fee"/><rect x="142.4" y="220.1" width="1.3" height="1.3" fill="#3f7fee"/><rect x="134.2" y="239.1" width="1.3" height="1.3" fill="#3f7fee"/><rect x="153.6" y="230.0" width="1.3" height="1.3" fill="#3f7fee"/><rect x="152.6" y="223.6" width="1.3" height="1.3" fill="#3f7fee"/><rect x="148.3" y="230.4" width="1.3" height="1.3" fill="#3f7fee"/><rect x="156.9" y="242.5" width="1.3" height="1.3" fill="#3f7fee"/><rect x="141.2" y="243.6" width="1.3" height="1.3" fill="#3f7fee"/><rect x="134.1" y="188.3" width="1.3" height="1.3" fill="#3f7fee"/><rect x="148.7" y="227.3" width="1.3" height="1.3" fill="#3f7fee"/><rect x="155.7" y="248.2" width="1.3" height="1.3" fill="#3f7fee"/><rect x="150.2" y="247.8" width="1.3" height="1.3" fill="#3f7fee"/><rect x="132.4" y="248.5" width="1.3" height="1.3" fill="#3f7fee"/><rect x="153.3" y="245.0" width="1.3" height="1.3" fill="#3f7fee"/><rect x="151.6" y="233.6" width="1.3" height="1.3" fill="#3f7fee"/><rect x="140.1" y="228.1" width="1.3" height="1.3" fill="#3f7fee"/><rect x="136.8" y="238.1" width="1.3" height="1.3" fill="#3f7fee"/><rect x="136.1" y="238.5" width="1.3" height="1.3" fill="#3f7fee"/><rect x="157.0" y="232.7" width="1.3" height="1.3" fill="#3f7fee"/><rect x="142.1" y="229.2" width="1.3" height="1.3" fill="#3f7fee"/><rect x="155.0" y="230.6" width="1.3" height="1.3" fill="#3f7fee"/><rect x="142.3" y="243.7" width="1.3" height="1.3" fill="#3f7fee"/><rect x="157.0" y="247.3" width="1.3" height="1.3" fill="#3f7fee"/><rect x="141.3" y="205.0" width="1.3" height="1.3" fill="#3f7fee"/><rect x="138.2" y="243.3" width="1.3" height="1.3" fill="#3f7fee"/><rect x="155.6" y="233.9" width="1.3" height="1.3" fill="#3f7fee"/><rect x="149.8" y="244.3" width="1.3" height="1.3" fill="#3f7fee"/><rect x="153.5" y="242.3" width="1.3" height="1.3" fill="#3f7fee"/><rect x="135.0" y="248.6" width="1.3" height="1.3" fill="#3f7fee"/><rect x="153.1" y="241.4" width="1.3" height="1.3" fill="#3f7fee"/><rect x="148.3" y="239.7" width="1.3" height="1.3" fill="#3f7fee"/><rect x="152.4" y="233.7" width="1.3" height="1.3" fill="#3f7fee"/><rect x="153.3" y="247.6" width="1.3" height="1.3" fill="#3f7fee"/><rect x="150.2" y="225.7" width="1.3" height="1.3" fill="#3f7fee"/><rect x="156.2" y="235.5" width="1.3" height="1.3" fill="#3f7fee"/><rect x="135.6" y="235.3" width="1.3" height="1.3" fill="#3f7fee"/><rect x="133.3" y="248.3" width="1.3" height="1.3" fill="#3f7fee"/><rect x="135.8" y="249.0" width="1.3" height="1.3" fill="#3f7fee"/><rect x="133.9" y="243.5" width="1.3" height="1.3" fill="#3f7fee"/><rect x="147.9" y="245.3" width="1.3" height="1.3" fill="#3f7fee"/><rect x="154.0" y="238.8" width="1.3" height="1.3" fill="#3f7fee"/><rect x="131.9" y="249.4" width="1.3" height="1.3" fill="#3f7fee"/><rect x="142.3" y="249.4" width="1.3" height="1.3" fill="#3f7fee"/><rect x="139.7" y="244.5" width="1.3" height="1.3" fill="#3f7fee"/><rect x="143.7" y="246.0" width="1.3" height="1.3" fill="#3f7fee"/><rect x="139.9" y="201.5" width="1.3" height="1.3" fill="#3f7fee"/><rect x="134.6" y="248.0" width="1.3" height="1.3" fill="#3f7fee"/><rect x="134.6" y="248.2" width="1.3" height="1.3" fill="#3f7fee"/><rect x="148.3" y="246.0" width="1.3" height="1.3" fill="#3f7fee"/><rect x="150.9" y="228.1" width="1.3" height="1.3" fill="#3f7fee"/><rect x="143.4" y="249.6" width="1.3" height="1.3" fill="#3f7fee"/><rect x="147.4" y="243.3" width="1.3" height="1.3" fill="#3f7fee"/><rect x="146.3" y="234.6" width="1.3" height="1.3" fill="#3f7fee"/><rect x="134.7" y="211.6" width="1.3" height="1.3" fill="#3f7fee"/><rect x="144.0" y="234.7" width="1.3" height="1.3" fill="#3f7fee"/><rect x="132.7" y="248.0" width="1.3" height="1.3" fill="#3f7fee"/><rect x="141.9" y="240.8" width="1.3" height="1.3" fill="#3f7fee"/><rect x="137.0" y="241.4" width="1.3" height="1.3" fill="#3f7fee"/><rect x="147.9" y="230.3" width="1.3" height="1.3" fill="#3f7fee"/><rect x="153.0" y="229.7" width="1.3" height="1.3" fill="#3f7fee"/><rect x="155.1" y="237.1" width="1.3" height="1.3" fill="#3f7fee"/><rect x="151.3" y="243.3" width="1.3" height="1.3" fill="#3f7fee"/><rect x="144.3" y="238.8" width="1.3" height="1.3" fill="#3f7fee"/><rect x="145.4" y="235.6" width="1.3" height="1.3" fill="#3f7fee"/><rect x="138.3" y="236.9" width="1.3" height="1.3" fill="#3f7fee"/><rect x="134.2" y="249.8" width="1.3" height="1.3" fill="#3f7fee"/><rect x="152.0" y="224.8" width="1.3" height="1.3" fill="#3f7fee"/><rect x="145.8" y="224.1" width="1.3" height="1.3" fill="#3f7fee"/><rect x="151.5" y="242.9" width="1.3" height="1.3" fill="#3f7fee"/><rect x="156.6" y="228.0" width="1.3" height="1.3" fill="#3f7fee"/><rect x="134.1" y="244.6" width="1.3" height="1.3" fill="#3f7fee"/><rect x="134.8" y="248.0" width="1.3" height="1.3" fill="#3f7fee"/><rect x="140.1" y="242.6" width="1.3" height="1.3" fill="#3f7fee"/><rect x="150.1" y="232.6" width="1.3" height="1.3" fill="#3f7fee"/><rect x="139.7" y="238.0" width="1.3" height="1.3" fill="#3f7fee"/><rect x="156.6" y="233.9" width="1.3" height="1.3" fill="#3f7fee"/><rect x="155.6" y="230.1" width="1.3" height="1.3" fill="#3f7fee"/><rect x="132.8" y="248.5" width="1.3" height="1.3" fill="#3f7fee"/><rect x="132.8" y="248.1" width="1.3" height="1.3" fill="#3f7fee"/><rect x="127.5" y="235.4" width="1.3" height="1.3" fill="#3f7fee"/><rect x="146.6" y="213.7" width="1.3" height="1.3" fill="#3f7fee"/><rect x="153.4" y="244.8" width="1.3" height="1.3" fill="#3f7fee"/><rect x="155.2" y="241.3" width="1.3" height="1.3" fill="#3f7fee"/><rect x="144.4" y="230.9" width="1.3" height="1.3" fill="#3f7fee"/><rect x="140.8" y="245.6" width="1.3" height="1.3" fill="#3f7fee"/><rect x="156.9" y="246.8" width="1.3" height="1.3" fill="#3f7fee"/><rect x="132.6" y="244.4" width="1.3" height="1.3" fill="#3f7fee"/><rect x="144.4" y="224.9" width="1.3" height="1.3" fill="#3f7fee"/><rect x="149.9" y="213.8" width="1.3" height="1.3" fill="#3f7fee"/><rect x="152.7" y="234.2" width="1.3" height="1.3" fill="#3f7fee"/><rect x="155.5" y="231.8" width="1.3" height="1.3" fill="#3f7fee"/><rect x="157.0" y="234.4" width="1.3" height="1.3" fill="#3f7fee"/><rect x="156.3" y="247.2" width="1.3" height="1.3" fill="#3f7fee"/><rect x="149.0" y="242.2" width="1.3" height="1.3" fill="#3f7fee"/><rect x="156.9" y="249.3" width="1.3" height="1.3" fill="#3f7fee"/><rect x="133.6" y="248.6" width="1.3" height="1.3" fill="#3f7fee"/><rect x="146.0" y="239.4" width="1.3" height="1.3" fill="#3f7fee"/><rect x="152.6" y="248.5" width="1.3" height="1.3" fill="#3f7fee"/><rect x="155.9" y="234.1" width="1.3" height="1.3" fill="#3f7fee"/><rect x="138.1" y="242.7" width="1.3" height="1.3" fill="#3f7fee"/><rect x="154.1" y="235.5" width="1.3" height="1.3" fill="#3f7fee"/><rect x="154.8" y="241.2" width="1.3" height="1.3" fill="#3f7fee"/><rect x="154.5" y="246.8" width="1.3" height="1.3" fill="#3f7fee"/><rect x="154.1" y="229.9" width="1.3" height="1.3" fill="#3f7fee"/><rect x="137.4" y="243.4" width="1.3" height="1.3" fill="#3f7fee"/><rect x="142.0" y="246.2" width="1.3" height="1.3" fill="#3f7fee"/><rect x="144.4" y="234.0" width="1.3" height="1.3" fill="#3f7fee"/><rect x="152.6" y="237.9" width="1.3" height="1.3" fill="#3f7fee"/><rect x="139.5" y="243.7" width="1.3" height="1.3" fill="#3f7fee"/><rect x="142.7" y="230.4" width="1.3" height="1.3" fill="#3f7fee"/><rect x="153.6" y="244.2" width="1.3" height="1.3" fill="#3f7fee"/><rect x="142.0" y="246.1" width="1.3" height="1.3" fill="#3f7fee"/><rect x="138.7" y="231.7" width="1.3" height="1.3" fill="#3f7fee"/><rect x="130.3" y="230.7" width="1.3" height="1.3" fill="#3f7fee"/><rect x="140.3" y="236.2" width="1.3" height="1.3" fill="#3f7fee"/><rect x="156.6" y="247.1" width="1.3" height="1.3" fill="#3f7fee"/><rect x="148.2" y="244.4" width="1.3" height="1.3" fill="#3f7fee"/><rect x="146.5" y="240.4" width="1.3" height="1.3" fill="#3f7fee"/><rect x="148.4" y="231.2" width="1.3" height="1.3" fill="#3f7fee"/><rect x="153.7" y="237.7" width="1.3" height="1.3" fill="#3f7fee"/><rect x="152.8" y="244.9" width="1.3" height="1.3" fill="#3f7fee"/><rect x="147.3" y="227.2" width="1.3" height="1.3" fill="#3f7fee"/><rect x="148.1" y="220.4" width="1.3" height="1.3" fill="#3f7fee"/><rect x="155.7" y="236.4" width="1.3" height="1.3" fill="#3f7fee"/><rect x="156.7" y="226.7" width="1.3" height="1.3" fill="#3f7fee"/><rect x="147.6" y="242.1" width="1.3" height="1.3" fill="#3f7fee"/><rect x="139.4" y="238.7" width="1.3" height="1.3" fill="#3f7fee"/><rect x="149.4" y="227.8" width="1.3" height="1.3" fill="#3f7fee"/><rect x="152.0" y="246.9" width="1.3" height="1.3" fill="#3f7fee"/><rect x="156.3" y="240.2" width="1.3" height="1.3" fill="#3f7fee"/><rect x="154.4" y="245.3" width="1.3" height="1.3" fill="#3f7fee"/><rect x="138.9" y="242.8" width="1.3" height="1.3" fill="#3f7fee"/><rect x="153.0" y="247.2" width="1.3" height="1.3" fill="#3f7fee"/><rect x="139.7" y="223.2" width="1.3" height="1.3" fill="#3f7fee"/><rect x="132.8" y="248.2" width="1.3" height="1.3" fill="#3f7fee"/><rect x="140.4" y="246.6" width="1.3" height="1.3" fill="#3f7fee"/><rect x="132.8" y="246.4" width="1.3" height="1.3" fill="#3f7fee"/><rect x="152.9" y="240.2" width="1.3" height="1.3" fill="#3f7fee"/><rect x="146.8" y="196.8" width="1.3" height="1.3" fill="#3f7fee"/><rect x="154.4" y="242.1" width="1.3" height="1.3" fill="#3f7fee"/><rect x="148.8" y="224.2" width="1.3" height="1.3" fill="#3f7fee"/><rect x="157.0" y="236.1" width="1.3" height="1.3" fill="#3f7fee"/><rect x="147.6" y="203.0" width="1.3" height="1.3" fill="#3f7fee"/><rect x="154.1" y="242.2" width="1.3" height="1.3" fill="#3f7fee"/><rect x="149.9" y="241.3" width="1.3" height="1.3" fill="#3f7fee"/><rect x="153.3" y="239.5" width="1.3" height="1.3" fill="#3f7fee"/><rect x="142.9" y="242.9" width="1.3" height="1.3" fill="#3f7fee"/><rect x="144.9" y="209.4" width="1.3" height="1.3" fill="#3f7fee"/><rect x="132.0" y="203.0" width="1.3" height="1.3" fill="#3f7fee"/><rect x="156.7" y="238.0" width="1.3" height="1.3" fill="#3f7fee"/><rect x="140.8" y="246.3" width="1.3" height="1.3" fill="#3f7fee"/><rect x="150.8" y="241.0" width="1.3" height="1.3" fill="#3f7fee"/><rect x="143.9" y="246.2" width="1.3" height="1.3" fill="#3f7fee"/><rect x="138.4" y="216.0" width="1.3" height="1.3" fill="#3f7fee"/><rect x="155.1" y="232.5" width="1.3" height="1.3" fill="#3f7fee"/><rect x="150.8" y="228.2" width="1.3" height="1.3" fill="#3f7fee"/><rect x="154.2" y="243.9" width="1.3" height="1.3" fill="#3f7fee"/><rect x="152.8" y="243.7" width="1.3" height="1.3" fill="#3f7fee"/><rect x="138.0" y="248.9" width="1.3" height="1.3" fill="#3f7fee"/><rect x="139.7" y="239.9" width="1.3" height="1.3" fill="#3f7fee"/><rect x="137.8" y="243.2" width="1.3" height="1.3" fill="#3f7fee"/><rect x="147.2" y="213.7" width="1.3" height="1.3" fill="#3f7fee"/><rect x="135.5" y="248.7" width="1.3" height="1.3" fill="#3f7fee"/><rect x="136.9" y="241.7" width="1.3" height="1.3" fill="#3f7fee"/><rect x="135.3" y="247.3" width="1.3" height="1.3" fill="#3f7fee"/><rect x="150.2" y="229.4" width="1.3" height="1.3" fill="#3f7fee"/><rect x="134.2" y="245.5" width="1.3" height="1.3" fill="#3f7fee"/><rect x="140.4" y="247.9" width="1.3" height="1.3" fill="#3f7fee"/><rect x="137.2" y="243.1" width="1.3" height="1.3" fill="#3f7fee"/><rect x="139.6" y="244.5" width="1.3" height="1.3" fill="#3f7fee"/><rect x="149.4" y="230.6" width="1.3" height="1.3" fill="#3f7fee"/><rect x="140.6" y="244.2" width="1.3" height="1.3" fill="#3f7fee"/><rect x="151.0" y="245.5" width="1.3" height="1.3" fill="#3f7fee"/><rect x="146.6" y="246.3" width="1.3" height="1.3" fill="#3f7fee"/><rect x="125.0" y="215.0" width="1.3" height="1.3" fill="#3f7fee"/><rect x="147.1" y="230.0" width="1.3" height="1.3" fill="#3f7fee"/><rect x="134.8" y="233.7" width="1.3" height="1.3" fill="#3f7fee"/><rect x="156.4" y="232.5" width="1.3" height="1.3" fill="#3f7fee"/><rect x="154.7" y="218.8" width="1.3" height="1.3" fill="#3f7fee"/><rect x="133.6" y="248.9" width="1.3" height="1.3" fill="#3f7fee"/><rect x="153.2" y="227.0" width="1.3" height="1.3" fill="#3f7fee"/><rect x="152.3" y="238.3" width="1.3" height="1.3" fill="#3f7fee"/><rect x="155.9" y="244.3" width="1.3" height="1.3" fill="#3f7fee"/><rect x="146.0" y="215.6" width="1.3" height="1.3" fill="#3f7fee"/><rect x="152.7" y="246.2" width="1.3" height="1.3" fill="#3f7fee"/><rect x="134.5" y="244.6" width="1.3" height="1.3" fill="#3f7fee"/><rect x="157.0" y="242.4" width="1.3" height="1.3" fill="#3f7fee"/><rect x="139.5" y="247.0" width="1.3" height="1.3" fill="#3f7fee"/><rect x="152.6" y="248.1" width="1.3" height="1.3" fill="#3f7fee"/><rect x="155.4" y="221.8" width="1.3" height="1.3" fill="#3f7fee"/><rect x="147.7" y="220.7" width="1.3" height="1.3" fill="#3f7fee"/><rect x="138.9" y="246.2" width="1.3" height="1.3" fill="#3f7fee"/><rect x="149.0" y="242.3" width="1.3" height="1.3" fill="#3f7fee"/><rect x="153.5" y="246.5" width="1.3" height="1.3" fill="#3f7fee"/><rect x="146.5" y="238.4" width="1.3" height="1.3" fill="#3f7fee"/><rect x="132.3" y="245.7" width="1.3" height="1.3" fill="#3f7fee"/><rect x="153.9" y="247.0" width="1.3" height="1.3" fill="#3f7fee"/><rect x="156.2" y="226.9" width="1.3" height="1.3" fill="#3f7fee"/><rect x="150.4" y="241.8" width="1.3" height="1.3" fill="#3f7fee"/><rect x="152.1" y="227.9" width="1.3" height="1.3" fill="#3f7fee"/><rect x="136.3" y="244.2" width="1.3" height="1.3" fill="#3f7fee"/><rect x="153.1" y="235.3" width="1.3" height="1.3" fill="#3f7fee"/><rect x="151.7" y="233.5" width="1.3" height="1.3" fill="#3f7fee"/><rect x="151.1" y="238.6" width="1.3" height="1.3" fill="#3f7fee"/><rect x="155.1" y="231.2" width="1.3" height="1.3" fill="#3f7fee"/><rect x="142.7" y="230.1" width="1.3" height="1.3" fill="#3f7fee"/><rect x="154.3" y="231.9" width="1.3" height="1.3" fill="#3f7fee"/><rect x="134.5" y="249.2" width="1.3" height="1.3" fill="#3f7fee"/><rect x="147.2" y="240.6" width="1.3" height="1.3" fill="#3f7fee"/><rect x="149.0" y="221.0" width="1.3" height="1.3" fill="#3f7fee"/><rect x="150.9" y="235.5" width="1.3" height="1.3" fill="#3f7fee"/><rect x="146.0" y="242.4" width="1.3" height="1.3" fill="#3f7fee"/><rect x="149.6" y="226.9" width="1.3" height="1.3" fill="#3f7fee"/><rect x="152.3" y="231.0" width="1.3" height="1.3" fill="#3f7fee"/><rect x="141.2" y="245.7" width="1.3" height="1.3" fill="#3f7fee"/><rect x="137.7" y="246.4" width="1.3" height="1.3" fill="#3f7fee"/><rect x="152.5" y="231.2" width="1.3" height="1.3" fill="#3f7fee"/><rect x="143.8" y="244.8" width="1.3" height="1.3" fill="#3f7fee"/><rect x="152.5" y="235.7" width="1.3" height="1.3" fill="#3f7fee"/><rect x="139.5" y="239.8" width="1.3" height="1.3" fill="#3f7fee"/><rect x="135.5" y="241.0" width="1.3" height="1.3" fill="#3f7fee"/><rect x="149.7" y="221.6" width="1.3" height="1.3" fill="#3f7fee"/><rect x="156.9" y="235.8" width="1.3" height="1.3" fill="#3f7fee"/><rect x="154.7" y="237.9" width="1.3" height="1.3" fill="#3f7fee"/><rect x="146.7" y="228.0" width="1.3" height="1.3" fill="#3f7fee"/><rect x="152.8" y="228.3" width="1.3" height="1.3" fill="#3f7fee"/><rect x="132.5" y="239.0" width="1.3" height="1.3" fill="#3f7fee"/><rect x="154.8" y="234.2" width="1.3" height="1.3" fill="#3f7fee"/><rect x="145.8" y="249.1" width="1.3" height="1.3" fill="#3f7fee"/><rect x="138.1" y="240.6" width="1.3" height="1.3" fill="#3f7fee"/><rect x="155.1" y="227.1" width="1.3" height="1.3" fill="#3f7fee"/><rect x="149.4" y="223.7" width="1.3" height="1.3" fill="#3f7fee"/><rect x="151.3" y="245.1" width="1.3" height="1.3" fill="#3f7fee"/><rect x="141.2" y="229.8" width="1.3" height="1.3" fill="#3f7fee"/><rect x="154.8" y="231.9" width="1.3" height="1.3" fill="#3f7fee"/><rect x="137.9" y="236.8" width="1.3" height="1.3" fill="#3f7fee"/><rect x="140.1" y="224.6" width="1.3" height="1.3" fill="#3f7fee"/><rect x="126.8" y="211.7" width="1.3" height="1.3" fill="#3f7fee"/><rect x="149.9" y="228.1" width="1.3" height="1.3" fill="#3f7fee"/><rect x="152.2" y="223.6" width="1.3" height="1.3" fill="#3f7fee"/><rect x="139.2" y="236.7" width="1.3" height="1.3" fill="#3f7fee"/><rect x="136.0" y="246.2" width="1.3" height="1.3" fill="#3f7fee"/><rect x="137.0" y="247.7" width="1.3" height="1.3" fill="#3f7fee"/><rect x="156.8" y="233.9" width="1.3" height="1.3" fill="#3f7fee"/><rect x="150.8" y="227.9" width="1.3" height="1.3" fill="#3f7fee"/><rect x="133.6" y="245.0" width="1.3" height="1.3" fill="#3f7fee"/><rect x="152.2" y="231.4" width="1.3" height="1.3" fill="#3f7fee"/><rect x="140.1" y="232.1" width="1.3" height="1.3" fill="#3f7fee"/><rect x="146.4" y="218.1" width="1.3" height="1.3" fill="#3f7fee"/><rect x="142.3" y="240.1" width="1.3" height="1.3" fill="#3f7fee"/><rect x="149.6" y="206.0" width="1.3" height="1.3" fill="#3f7fee"/><rect x="144.7" y="225.5" width="1.3" height="1.3" fill="#3f7fee"/><rect x="135.8" y="236.3" width="1.3" height="1.3" fill="#3f7fee"/><rect x="155.5" y="246.9" width="1.3" height="1.3" fill="#3f7fee"/><rect x="125.7" y="230.5" width="1.3" height="1.3" fill="#3f7fee"/><rect x="146.1" y="246.4" width="1.3" height="1.3" fill="#3f7fee"/><rect x="151.1" y="248.5" width="1.3" height="1.3" fill="#3f7fee"/><rect x="156.0" y="227.6" width="1.3" height="1.3" fill="#3f7fee"/><rect x="147.6" y="230.6" width="1.3" height="1.3" fill="#3f7fee"/><rect x="151.2" y="239.4" width="1.3" height="1.3" fill="#3f7fee"/><rect x="154.7" y="246.0" width="1.3" height="1.3" fill="#3f7fee"/><rect x="146.6" y="246.2" width="1.3" height="1.3" fill="#3f7fee"/><rect x="151.5" y="233.9" width="1.3" height="1.3" fill="#3f7fee"/><rect x="157.0" y="243.7" width="1.3" height="1.3" fill="#3f7fee"/><rect x="132.5" y="226.3" width="1.3" height="1.3" fill="#3f7fee"/><rect x="130.8" y="210.7" width="1.3" height="1.3" fill="#3f7fee"/><rect x="136.1" y="248.7" width="1.3" height="1.3" fill="#3f7fee"/><rect x="151.3" y="216.0" width="1.3" height="1.3" fill="#3f7fee"/><rect x="147.6" y="220.1" width="1.3" height="1.3" fill="#3f7fee"/><rect x="141.2" y="245.5" width="1.3" height="1.3" fill="#3f7fee"/><rect x="146.4" y="245.3" width="1.3" height="1.3" fill="#3f7fee"/><rect x="147.4" y="243.3" width="1.3" height="1.3" fill="#3f7fee"/><rect x="145.2" y="231.8" width="1.3" height="1.3" fill="#3f7fee"/><rect x="135.1" y="238.3" width="1.3" height="1.3" fill="#3f7fee"/><rect x="147.0" y="188.9" width="1.3" height="1.3" fill="#3f7fee"/><rect x="140.8" y="191.0" width="1.3" height="1.3" fill="#3f7fee"/><rect x="156.8" y="247.9" width="1.3" height="1.3" fill="#3f7fee"/><rect x="143.0" y="219.9" width="1.3" height="1.3" fill="#3f7fee"/><rect x="153.3" y="238.7" width="1.3" height="1.3" fill="#3f7fee"/><rect x="147.8" y="217.8" width="1.3" height="1.3" fill="#3f7fee"/><rect x="143.7" y="222.3" width="1.3" height="1.3" fill="#3f7fee"/><rect x="132.3" y="249.9" width="1.3" height="1.3" fill="#3f7fee"/><rect x="153.8" y="247.6" width="1.3" height="1.3" fill="#3f7fee"/><rect x="146.7" y="222.4" width="1.3" height="1.3" fill="#3f7fee"/><rect x="126.0" y="231.1" width="1.3" height="1.3" fill="#3f7fee"/><rect x="156.6" y="229.2" width="1.3" height="1.3" fill="#3f7fee"/><rect x="144.7" y="240.4" width="1.3" height="1.3" fill="#3f7fee"/><rect x="141.7" y="227.8" width="1.3" height="1.3" fill="#3f7fee"/><rect x="149.6" y="245.0" width="1.3" height="1.3" fill="#3f7fee"/><rect x="156.5" y="247.2" width="1.3" height="1.3" fill="#3f7fee"/><rect x="154.6" y="231.9" width="1.3" height="1.3" fill="#3f7fee"/><rect x="132.5" y="246.7" width="1.3" height="1.3" fill="#3f7fee"/><rect x="136.9" y="248.0" width="1.3" height="1.3" fill="#3f7fee"/><rect x="134.3" y="242.1" width="1.3" height="1.3" fill="#3f7fee"/><rect x="150.2" y="223.5" width="1.3" height="1.3" fill="#3f7fee"/><rect x="125.1" y="211.2" width="1.3" height="1.3" fill="#3f7fee"/><rect x="147.6" y="230.0" width="1.3" height="1.3" fill="#3f7fee"/><rect x="134.7" y="248.7" width="1.3" height="1.3" fill="#3f7fee"/><rect x="154.9" y="231.2" width="1.3" height="1.3" fill="#3f7fee"/><rect x="146.6" y="234.3" width="1.3" height="1.3" fill="#3f7fee"/><rect x="145.4" y="248.8" width="1.3" height="1.3" fill="#3f7fee"/><rect x="153.1" y="244.3" width="1.3" height="1.3" fill="#3f7fee"/><rect x="141.9" y="243.0" width="1.3" height="1.3" fill="#3f7fee"/><rect x="147.2" y="241.7" width="1.3" height="1.3" fill="#3f7fee"/><rect x="154.2" y="234.6" width="1.3" height="1.3" fill="#3f7fee"/><rect x="133.9" y="248.4" width="1.3" height="1.3" fill="#3f7fee"/><rect x="156.1" y="248.4" width="1.3" height="1.3" fill="#3f7fee"/><rect x="140.7" y="236.2" width="1.3" height="1.3" fill="#3f7fee"/><rect x="146.3" y="242.8" width="1.3" height="1.3" fill="#3f7fee"/><rect x="151.6" y="228.5" width="1.3" height="1.3" fill="#3f7fee"/><rect x="151.0" y="248.7" width="1.3" height="1.3" fill="#3f7fee"/><rect x="136.4" y="247.6" width="1.3" height="1.3" fill="#3f7fee"/><rect x="154.2" y="248.4" width="1.3" height="1.3" fill="#3f7fee"/><rect x="150.9" y="233.9" width="1.3" height="1.3" fill="#3f7fee"/><rect x="150.3" y="222.4" width="1.3" height="1.3" fill="#3f7fee"/><rect x="142.1" y="225.4" width="1.3" height="1.3" fill="#3f7fee"/><rect x="153.4" y="246.0" width="1.3" height="1.3" fill="#3f7fee"/><rect x="141.3" y="239.1" width="1.3" height="1.3" fill="#3f7fee"/><rect x="141.8" y="239.3" width="1.3" height="1.3" fill="#3f7fee"/><rect x="156.6" y="235.9" width="1.3" height="1.3" fill="#3f7fee"/><rect x="156.3" y="227.6" width="1.3" height="1.3" fill="#3f7fee"/><rect x="146.4" y="233.2" width="1.3" height="1.3" fill="#3f7fee"/><rect x="141.8" y="224.7" width="1.3" height="1.3" fill="#3f7fee"/><rect x="133.6" y="245.6" width="1.3" height="1.3" fill="#3f7fee"/><rect x="147.1" y="233.5" width="1.3" height="1.3" fill="#3f7fee"/><rect x="149.4" y="228.4" width="1.3" height="1.3" fill="#3f7fee"/><rect x="149.5" y="205.5" width="1.3" height="1.3" fill="#3f7fee"/><rect x="149.6" y="248.5" width="1.3" height="1.3" fill="#3f7fee"/><rect x="140.2" y="232.2" width="1.3" height="1.3" fill="#3f7fee"/><rect x="140.6" y="224.0" width="1.3" height="1.3" fill="#3f7fee"/><rect x="157.1" y="236.9" width="1.3" height="1.3" fill="#3f7fee"/><rect x="150.7" y="224.7" width="1.3" height="1.3" fill="#3f7fee"/><rect x="135.6" y="248.4" width="1.3" height="1.3" fill="#3f7fee"/><rect x="141.8" y="249.1" width="1.3" height="1.3" fill="#3f7fee"/><rect x="135.5" y="245.1" width="1.3" height="1.3" fill="#3f7fee"/><rect x="152.1" y="227.8" width="1.3" height="1.3" fill="#3f7fee"/><rect x="134.1" y="191.0" width="1.3" height="1.3" fill="#3f7fee"/><rect x="154.0" y="239.2" width="1.3" height="1.3" fill="#3f7fee"/><rect x="149.9" y="235.1" width="1.3" height="1.3" fill="#3f7fee"/><rect x="152.2" y="238.2" width="1.3" height="1.3" fill="#3f7fee"/><rect x="142.0" y="235.7" width="1.3" height="1.3" fill="#3f7fee"/><rect x="138.8" y="230.6" width="1.3" height="1.3" fill="#3f7fee"/><rect x="152.9" y="236.4" width="1.3" height="1.3" fill="#3f7fee"/><rect x="151.9" y="233.3" width="1.3" height="1.3" fill="#3f7fee"/><rect x="135.4" y="233.5" width="1.3" height="1.3" fill="#3f7fee"/><rect x="154.3" y="238.9" width="1.3" height="1.3" fill="#3f7fee"/><rect x="150.3" y="229.6" width="1.3" height="1.3" fill="#3f7fee"/><rect x="153.2" y="233.1" width="1.3" height="1.3" fill="#3f7fee"/><rect x="145.2" y="224.8" width="1.3" height="1.3" fill="#3f7fee"/><rect x="156.5" y="238.8" width="1.3" height="1.3" fill="#3f7fee"/><rect x="132.7" y="246.2" width="1.3" height="1.3" fill="#3f7fee"/><rect x="130.0" y="235.6" width="1.3" height="1.3" fill="#3f7fee"/><rect x="155.6" y="232.0" width="1.3" height="1.3" fill="#3f7fee"/><rect x="150.0" y="238.9" width="1.3" height="1.3" fill="#3f7fee"/><rect x="153.2" y="219.3" width="1.3" height="1.3" fill="#3f7fee"/><rect x="146.3" y="240.5" width="1.3" height="1.3" fill="#3f7fee"/><rect x="145.9" y="215.2" width="1.3" height="1.3" fill="#3f7fee"/><rect x="134.0" y="246.6" width="1.3" height="1.3" fill="#3f7fee"/><rect x="152.7" y="234.1" width="1.3" height="1.3" fill="#3f7fee"/><rect x="138.7" y="247.7" width="1.3" height="1.3" fill="#3f7fee"/><rect x="146.7" y="227.4" width="1.3" height="1.3" fill="#3f7fee"/><rect x="156.9" y="242.7" width="1.3" height="1.3" fill="#3f7fee"/><rect x="150.0" y="241.3" width="1.3" height="1.3" fill="#3f7fee"/><rect x="152.9" y="225.6" width="1.3" height="1.3" fill="#3f7fee"/><rect x="156.9" y="236.4" width="1.3" height="1.3" fill="#3f7fee"/><rect x="153.9" y="225.7" width="1.3" height="1.3" fill="#3f7fee"/><rect x="144.3" y="241.0" width="1.3" height="1.3" fill="#3f7fee"/><rect x="151.1" y="234.5" width="1.3" height="1.3" fill="#3f7fee"/><rect x="155.4" y="244.2" width="1.3" height="1.3" fill="#3f7fee"/><rect x="150.2" y="247.1" width="1.3" height="1.3" fill="#3f7fee"/><rect x="144.5" y="196.7" width="1.3" height="1.3" fill="#3f7fee"/><rect x="144.2" y="249.1" width="1.3" height="1.3" fill="#3f7fee"/><rect x="153.8" y="233.3" width="1.3" height="1.3" fill="#3f7fee"/><rect x="149.3" y="201.4" width="1.3" height="1.3" fill="#3f7fee"/><rect x="143.1" y="221.8" width="1.3" height="1.3" fill="#3f7fee"/><rect x="149.6" y="247.4" width="1.3" height="1.3" fill="#3f7fee"/><rect x="139.3" y="225.5" width="1.3" height="1.3" fill="#3f7fee"/><rect x="147.7" y="249.9" width="1.3" height="1.3" fill="#3f7fee"/><rect x="155.9" y="241.4" width="1.3" height="1.3" fill="#3f7fee"/><rect x="151.9" y="236.9" width="1.3" height="1.3" fill="#3f7fee"/><rect x="146.3" y="193.3" width="1.3" height="1.3" fill="#3f7fee"/><rect x="150.0" y="244.6" width="1.3" height="1.3" fill="#3f7fee"/><rect x="148.9" y="238.9" width="1.3" height="1.3" fill="#3f7fee"/><rect x="143.4" y="242.0" width="1.3" height="1.3" fill="#3f7fee"/><rect x="132.9" y="249.4" width="1.3" height="1.3" fill="#3f7fee"/><rect x="147.4" y="240.0" width="1.3" height="1.3" fill="#3f7fee"/><rect x="155.1" y="239.6" width="1.3" height="1.3" fill="#3f7fee"/><rect x="132.8" y="247.9" width="1.3" height="1.3" fill="#3f7fee"/><rect x="142.0" y="236.1" width="1.3" height="1.3" fill="#3f7fee"/><rect x="153.2" y="238.6" width="1.3" height="1.3" fill="#3f7fee"/><rect x="144.3" y="249.2" width="1.3" height="1.3" fill="#3f7fee"/><rect x="132.7" y="245.7" width="1.3" height="1.3" fill="#3f7fee"/><rect x="147.4" y="246.2" width="1.3" height="1.3" fill="#3f7fee"/><rect x="144.3" y="220.5" width="1.3" height="1.3" fill="#3f7fee"/><rect x="142.6" y="233.8" width="1.3" height="1.3" fill="#3f7fee"/><rect x="146.4" y="235.9" width="1.3" height="1.3" fill="#3f7fee"/><rect x="147.1" y="246.6" width="1.3" height="1.3" fill="#3f7fee"/><rect x="141.6" y="231.0" width="1.3" height="1.3" fill="#3f7fee"/><rect x="150.0" y="235.4" width="1.3" height="1.3" fill="#3f7fee"/><rect x="153.6" y="229.1" width="1.3" height="1.3" fill="#3f7fee"/><rect x="149.1" y="212.8" width="1.3" height="1.3" fill="#3f7fee"/><rect x="147.9" y="247.1" width="1.3" height="1.3" fill="#3f7fee"/><rect x="156.8" y="225.3" width="1.3" height="1.3" fill="#3f7fee"/><rect x="154.7" y="245.0" width="1.3" height="1.3" fill="#3f7fee"/><rect x="135.7" y="231.6" width="1.3" height="1.3" fill="#3f7fee"/><rect x="135.0" y="240.0" width="1.3" height="1.3" fill="#3f7fee"/><rect x="135.4" y="244.2" width="1.3" height="1.3" fill="#3f7fee"/><rect x="152.5" y="239.6" width="1.3" height="1.3" fill="#3f7fee"/><rect x="150.8" y="248.7" width="1.3" height="1.3" fill="#3f7fee"/><rect x="152.3" y="241.3" width="1.3" height="1.3" fill="#3f7fee"/><rect x="134.0" y="239.9" width="1.3" height="1.3" fill="#3f7fee"/><rect x="139.3" y="200.5" width="1.3" height="1.3" fill="#3f7fee"/><rect x="133.8" y="242.4" width="1.3" height="1.3" fill="#3f7fee"/><rect x="155.9" y="236.4" width="1.3" height="1.3" fill="#3f7fee"/><rect x="135.9" y="241.2" width="1.3" height="1.3" fill="#3f7fee"/><rect x="138.3" y="246.2" width="1.3" height="1.3" fill="#3f7fee"/><rect x="143.4" y="203.6" width="1.3" height="1.3" fill="#3f7fee"/><rect x="152.6" y="242.8" width="1.3" height="1.3" fill="#3f7fee"/><rect x="150.8" y="243.8" width="1.3" height="1.3" fill="#3f7fee"/><rect x="141.2" y="193.4" width="1.3" height="1.3" fill="#3f7fee"/><rect x="156.8" y="232.6" width="1.3" height="1.3" fill="#3f7fee"/><rect x="152.3" y="238.9" width="1.3" height="1.3" fill="#3f7fee"/><rect x="150.6" y="232.1" width="1.3" height="1.3" fill="#3f7fee"/><rect x="146.0" y="226.5" width="1.3" height="1.3" fill="#3f7fee"/><rect x="146.5" y="244.6" width="1.3" height="1.3" fill="#3f7fee"/><rect x="144.8" y="247.4" width="1.3" height="1.3" fill="#3f7fee"/><rect x="142.8" y="239.3" width="1.3" height="1.3" fill="#3f7fee"/><rect x="153.5" y="249.9" width="1.3" height="1.3" fill="#3f7fee"/><rect x="140.8" y="242.6" width="1.3" height="1.3" fill="#3f7fee"/><rect x="142.8" y="225.5" width="1.3" height="1.3" fill="#3f7fee"/><rect x="138.6" y="231.9" width="1.3" height="1.3" fill="#3f7fee"/><rect x="152.2" y="221.7" width="1.3" height="1.3" fill="#3f7fee"/><rect x="141.7" y="238.6" width="1.3" height="1.3" fill="#3f7fee"/><rect x="149.0" y="246.5" width="1.3" height="1.3" fill="#3f7fee"/><rect x="135.8" y="248.2" width="1.3" height="1.3" fill="#3f7fee"/><rect x="144.5" y="238.0" width="1.3" height="1.3" fill="#3f7fee"/><rect x="148.2" y="227.2" width="1.3" height="1.3" fill="#3f7fee"/><rect x="133.7" y="249.7" width="1.3" height="1.3" fill="#3f7fee"/><rect x="150.6" y="228.9" width="1.3" height="1.3" fill="#3f7fee"/><rect x="153.5" y="242.7" width="1.3" height="1.3" fill="#3f7fee"/><rect x="155.1" y="223.9" width="1.3" height="1.3" fill="#3f7fee"/><rect x="147.2" y="235.0" width="1.3" height="1.3" fill="#3f7fee"/><rect x="142.7" y="245.7" width="1.3" height="1.3" fill="#3f7fee"/><rect x="139.9" y="230.8" width="1.3" height="1.3" fill="#3f7fee"/><rect x="149.1" y="247.7" width="1.3" height="1.3" fill="#3f7fee"/><rect x="156.0" y="245.0" width="1.3" height="1.3" fill="#3f7fee"/><rect x="147.7" y="229.3" width="1.3" height="1.3" fill="#3f7fee"/><rect x="154.4" y="246.9" width="1.3" height="1.3" fill="#3f7fee"/><rect x="157.0" y="248.1" width="1.3" height="1.3" fill="#3f7fee"/><rect x="150.1" y="244.1" width="1.3" height="1.3" fill="#3f7fee"/><rect x="139.2" y="227.7" width="1.3" height="1.3" fill="#3f7fee"/><rect x="151.4" y="229.5" width="1.3" height="1.3" fill="#3f7fee"/><rect x="148.2" y="229.7" width="1.3" height="1.3" fill="#3f7fee"/><rect x="120.9" y="247.1" width="1.3" height="1.3" fill="#3f7fee"/><rect x="135.0" y="242.4" width="1.3" height="1.3" fill="#3f7fee"/><rect x="147.7" y="243.8" width="1.3" height="1.3" fill="#3f7fee"/><rect x="135.8" y="245.8" width="1.3" height="1.3" fill="#3f7fee"/><rect x="155.3" y="225.4" width="1.3" height="1.3" fill="#3f7fee"/><rect x="156.8" y="236.8" width="1.3" height="1.3" fill="#3f7fee"/><rect x="151.7" y="230.7" width="1.3" height="1.3" fill="#3f7fee"/><rect x="142.6" y="229.1" width="1.3" height="1.3" fill="#3f7fee"/><rect x="148.2" y="235.2" width="1.3" height="1.3" fill="#3f7fee"/><rect x="155.3" y="243.7" width="1.3" height="1.3" fill="#3f7fee"/><rect x="152.3" y="245.5" width="1.3" height="1.3" fill="#3f7fee"/><rect x="143.9" y="248.1" width="1.3" height="1.3" fill="#3f7fee"/><rect x="139.4" y="238.5" width="1.3" height="1.3" fill="#3f7fee"/><rect x="149.4" y="239.7" width="1.3" height="1.3" fill="#3f7fee"/><rect x="146.0" y="223.7" width="1.3" height="1.3" fill="#3f7fee"/><rect x="148.4" y="225.8" width="1.3" height="1.3" fill="#3f7fee"/><rect x="142.5" y="237.4" width="1.3" height="1.3" fill="#3f7fee"/><rect x="154.3" y="241.8" width="1.3" height="1.3" fill="#3f7fee"/><rect x="156.7" y="231.3" width="1.3" height="1.3" fill="#3f7fee"/><rect x="148.2" y="242.6" width="1.3" height="1.3" fill="#3f7fee"/><rect x="146.1" y="223.5" width="1.3" height="1.3" fill="#3f7fee"/><rect x="156.0" y="236.5" width="1.3" height="1.3" fill="#3f7fee"/><rect x="148.1" y="241.4" width="1.3" height="1.3" fill="#3f7fee"/><rect x="140.6" y="227.3" width="1.3" height="1.3" fill="#3f7fee"/><rect x="151.7" y="249.5" width="1.3" height="1.3" fill="#3f7fee"/><rect x="155.3" y="249.6" width="1.3" height="1.3" fill="#3f7fee"/><rect x="153.4" y="248.4" width="1.3" height="1.3" fill="#3f7fee"/><rect x="146.2" y="229.4" width="1.3" height="1.3" fill="#3f7fee"/><rect x="152.8" y="231.5" width="1.3" height="1.3" fill="#3f7fee"/><rect x="139.6" y="228.8" width="1.3" height="1.3" fill="#3f7fee"/><rect x="143.9" y="247.2" width="1.3" height="1.3" fill="#3f7fee"/><rect x="141.1" y="228.1" width="1.3" height="1.3" fill="#3f7fee"/><rect x="146.7" y="239.6" width="1.3" height="1.3" fill="#3f7fee"/><rect x="144.3" y="243.1" width="1.3" height="1.3" fill="#3f7fee"/><rect x="142.8" y="247.7" width="1.3" height="1.3" fill="#3f7fee"/><rect x="149.0" y="246.9" width="1.3" height="1.3" fill="#3f7fee"/><rect x="146.5" y="239.4" width="1.3" height="1.3" fill="#3f7fee"/><rect x="134.9" y="239.2" width="1.3" height="1.3" fill="#3f7fee"/><rect x="156.9" y="223.7" width="1.3" height="1.3" fill="#3f7fee"/><rect x="137.4" y="246.3" width="1.3" height="1.3" fill="#3f7fee"/><rect x="134.0" y="199.6" width="1.3" height="1.3" fill="#3f7fee"/><rect x="156.1" y="246.2" width="1.3" height="1.3" fill="#3f7fee"/><rect x="143.4" y="238.0" width="1.3" height="1.3" fill="#3f7fee"/><rect x="143.6" y="247.1" width="1.3" height="1.3" fill="#3f7fee"/><rect x="142.4" y="248.8" width="1.3" height="1.3" fill="#3f7fee"/><rect x="132.7" y="247.8" width="1.3" height="1.3" fill="#3f7fee"/><rect x="141.0" y="229.6" width="1.3" height="1.3" fill="#3f7fee"/><rect x="144.7" y="245.1" width="1.3" height="1.3" fill="#3f7fee"/><rect x="147.8" y="212.6" width="1.3" height="1.3" fill="#3f7fee"/><rect x="138.7" y="197.8" width="1.3" height="1.3" fill="#3f7fee"/><rect x="139.6" y="223.8" width="1.3" height="1.3" fill="#3f7fee"/><rect x="150.7" y="211.4" width="1.3" height="1.3" fill="#3f7fee"/><rect x="151.4" y="230.9" width="1.3" height="1.3" fill="#3f7fee"/><rect x="151.0" y="222.6" width="1.3" height="1.3" fill="#3f7fee"/><rect x="154.8" y="245.6" width="1.3" height="1.3" fill="#3f7fee"/><rect x="155.7" y="236.2" width="1.3" height="1.3" fill="#3f7fee"/><rect x="136.3" y="237.1" width="1.3" height="1.3" fill="#3f7fee"/><rect x="152.4" y="249.7" width="1.3" height="1.3" fill="#3f7fee"/><rect x="149.8" y="231.2" width="1.3" height="1.3" fill="#3f7fee"/><rect x="157.1" y="244.9" width="1.3" height="1.3" fill="#3f7fee"/><rect x="156.9" y="237.1" width="1.3" height="1.3" fill="#3f7fee"/><rect x="146.5" y="243.2" width="1.3" height="1.3" fill="#3f7fee"/><rect x="141.1" y="188.4" width="1.3" height="1.3" fill="#3f7fee"/><rect x="141.8" y="249.4" width="1.3" height="1.3" fill="#3f7fee"/><rect x="141.8" y="208.7" width="1.3" height="1.3" fill="#3f7fee"/><rect x="137.7" y="245.7" width="1.3" height="1.3" fill="#3f7fee"/><rect x="152.5" y="246.0" width="1.3" height="1.3" fill="#3f7fee"/><rect x="150.8" y="228.7" width="1.3" height="1.3" fill="#3f7fee"/><rect x="146.6" y="208.8" width="1.3" height="1.3" fill="#3f7fee"/><rect x="151.1" y="240.0" width="1.3" height="1.3" fill="#3f7fee"/><rect x="150.9" y="224.3" width="1.3" height="1.3" fill="#3f7fee"/><rect x="146.2" y="222.9" width="1.3" height="1.3" fill="#3f7fee"/><rect x="155.0" y="234.5" width="1.3" height="1.3" fill="#3f7fee"/><rect x="145.2" y="240.4" width="1.3" height="1.3" fill="#3f7fee"/><rect x="143.3" y="242.5" width="1.3" height="1.3" fill="#3f7fee"/><rect x="152.5" y="246.3" width="1.3" height="1.3" fill="#3f7fee"/><rect x="150.9" y="220.1" width="1.3" height="1.3" fill="#3f7fee"/><rect x="138.1" y="246.6" width="1.3" height="1.3" fill="#3f7fee"/><rect x="146.2" y="220.3" width="1.3" height="1.3" fill="#3f7fee"/><rect x="156.9" y="241.7" width="1.3" height="1.3" fill="#3f7fee"/><rect x="140.0" y="197.1" width="1.3" height="1.3" fill="#3f7fee"/><rect x="153.4" y="228.0" width="1.3" height="1.3" fill="#3f7fee"/><rect x="151.6" y="240.8" width="1.3" height="1.3" fill="#3f7fee"/><rect x="147.2" y="226.7" width="1.3" height="1.3" fill="#3f7fee"/><rect x="145.4" y="204.2" width="1.3" height="1.3" fill="#3f7fee"/><rect x="155.9" y="242.6" width="1.3" height="1.3" fill="#3f7fee"/><rect x="156.7" y="222.8" width="1.3" height="1.3" fill="#3f7fee"/><rect x="144.5" y="249.6" width="1.3" height="1.3" fill="#3f7fee"/><rect x="152.6" y="248.6" width="1.3" height="1.3" fill="#3f7fee"/><rect x="149.9" y="240.1" width="1.3" height="1.3" fill="#3f7fee"/><rect x="140.0" y="232.9" width="1.3" height="1.3" fill="#3f7fee"/><rect x="143.9" y="216.1" width="1.3" height="1.3" fill="#3f7fee"/><rect x="149.5" y="248.7" width="1.3" height="1.3" fill="#3f7fee"/><rect x="152.5" y="218.9" width="1.3" height="1.3" fill="#3f7fee"/><rect x="149.4" y="242.8" width="1.3" height="1.3" fill="#3f7fee"/><rect x="149.8" y="231.6" width="1.3" height="1.3" fill="#3f7fee"/><rect x="150.9" y="225.8" width="1.3" height="1.3" fill="#3f7fee"/><rect x="134.2" y="239.4" width="1.3" height="1.3" fill="#3f7fee"/><rect x="147.7" y="229.9" width="1.3" height="1.3" fill="#3f7fee"/><rect x="134.6" y="195.4" width="1.3" height="1.3" fill="#3f7fee"/><rect x="140.1" y="249.1" width="1.3" height="1.3" fill="#3f7fee"/><rect x="135.4" y="241.3" width="1.3" height="1.3" fill="#3f7fee"/><rect x="142.5" y="242.7" width="1.3" height="1.3" fill="#3f7fee"/><rect x="153.3" y="237.0" width="1.3" height="1.3" fill="#3f7fee"/><rect x="151.1" y="224.8" width="1.3" height="1.3" fill="#3f7fee"/><rect x="153.4" y="241.1" width="1.3" height="1.3" fill="#3f7fee"/><rect x="149.6" y="230.1" width="1.3" height="1.3" fill="#3f7fee"/><rect x="145.0" y="219.7" width="1.3" height="1.3" fill="#3f7fee"/><rect x="152.4" y="226.9" width="1.3" height="1.3" fill="#3f7fee"/><rect x="136.6" y="241.4" width="1.3" height="1.3" fill="#3f7fee"/><rect x="147.9" y="245.7" width="1.3" height="1.3" fill="#3f7fee"/><rect x="151.6" y="235.0" width="1.3" height="1.3" fill="#3f7fee"/><rect x="137.8" y="247.4" width="1.3" height="1.3" fill="#3f7fee"/><rect x="153.2" y="242.1" width="1.3" height="1.3" fill="#3f7fee"/><rect x="154.1" y="249.9" width="1.3" height="1.3" fill="#3f7fee"/><rect x="149.6" y="206.4" width="1.3" height="1.3" fill="#3f7fee"/><rect x="138.9" y="234.0" width="1.3" height="1.3" fill="#3f7fee"/><rect x="147.2" y="205.3" width="1.3" height="1.3" fill="#3f7fee"/><rect x="156.1" y="240.5" width="1.3" height="1.3" fill="#3f7fee"/><rect x="148.4" y="229.1" width="1.3" height="1.3" fill="#3f7fee"/><rect x="152.8" y="247.1" width="1.3" height="1.3" fill="#3f7fee"/><rect x="137.3" y="237.7" width="1.3" height="1.3" fill="#3f7fee"/><rect x="154.4" y="224.5" width="1.3" height="1.3" fill="#3f7fee"/><rect x="155.8" y="234.3" width="1.3" height="1.3" fill="#3f7fee"/><rect x="137.4" y="248.4" width="1.3" height="1.3" fill="#3f7fee"/><rect x="135.3" y="249.2" width="1.3" height="1.3" fill="#3f7fee"/><rect x="152.0" y="247.5" width="1.3" height="1.3" fill="#3f7fee"/><rect x="149.8" y="222.8" width="1.3" height="1.3" fill="#3f7fee"/><rect x="152.9" y="236.8" width="1.3" height="1.3" fill="#3f7fee"/><rect x="156.8" y="245.6" width="1.3" height="1.3" fill="#3f7fee"/><rect x="152.7" y="231.0" width="1.3" height="1.3" fill="#3f7fee"/><rect x="138.1" y="246.5" width="1.3" height="1.3" fill="#3f7fee"/><rect x="151.9" y="233.2" width="1.3" height="1.3" fill="#3f7fee"/><rect x="151.1" y="229.7" width="1.3" height="1.3" fill="#3f7fee"/><rect x="146.3" y="201.7" width="1.3" height="1.3" fill="#3f7fee"/><rect x="144.8" y="242.4" width="1.3" height="1.3" fill="#3f7fee"/><rect x="155.7" y="233.0" width="1.3" height="1.3" fill="#3f7fee"/><rect x="148.4" y="235.5" width="1.3" height="1.3" fill="#3f7fee"/><rect x="136.6" y="243.1" width="1.3" height="1.3" fill="#3f7fee"/><rect x="142.8" y="219.0" width="1.3" height="1.3" fill="#3f7fee"/><rect x="155.7" y="240.8" width="1.3" height="1.3" fill="#3f7fee"/><rect x="152.0" y="239.2" width="1.3" height="1.3" fill="#3f7fee"/><rect x="136.0" y="233.7" width="1.3" height="1.3" fill="#3f7fee"/><rect x="147.1" y="192.7" width="1.3" height="1.3" fill="#3f7fee"/><rect x="142.9" y="198.7" width="1.3" height="1.3" fill="#3f7fee"/><rect x="131.7" y="248.5" width="1.3" height="1.3" fill="#3f7fee"/><rect x="142.4" y="243.9" width="1.3" height="1.3" fill="#3f7fee"/><rect x="142.2" y="234.2" width="1.3" height="1.3" fill="#3f7fee"/><rect x="154.0" y="231.3" width="1.3" height="1.3" fill="#3f7fee"/><rect x="132.1" y="248.9" width="1.3" height="1.3" fill="#3f7fee"/><rect x="144.5" y="217.9" width="1.3" height="1.3" fill="#3f7fee"/><rect x="153.5" y="248.1" width="1.3" height="1.3" fill="#3f7fee"/><rect x="144.3" y="220.8" width="1.3" height="1.3" fill="#3f7fee"/><rect x="150.5" y="246.2" width="1.3" height="1.3" fill="#3f7fee"/><rect x="153.1" y="227.7" width="1.3" height="1.3" fill="#3f7fee"/><rect x="148.6" y="242.9" width="1.3" height="1.3" fill="#3f7fee"/><rect x="148.1" y="232.7" width="1.3" height="1.3" fill="#3f7fee"/><rect x="156.5" y="243.9" width="1.3" height="1.3" fill="#3f7fee"/><rect x="150.8" y="212.2" width="1.3" height="1.3" fill="#3f7fee"/><rect x="145.6" y="249.0" width="1.3" height="1.3" fill="#3f7fee"/><rect x="141.9" y="238.2" width="1.3" height="1.3" fill="#3f7fee"/><rect x="151.8" y="238.1" width="1.3" height="1.3" fill="#3f7fee"/><rect x="145.2" y="243.9" width="1.3" height="1.3" fill="#3f7fee"/><rect x="147.0" y="232.8" width="1.3" height="1.3" fill="#3f7fee"/><rect x="154.9" y="243.3" width="1.3" height="1.3" fill="#3f7fee"/><rect x="154.3" y="238.9" width="1.3" height="1.3" fill="#3f7fee"/><rect x="145.2" y="239.3" width="1.3" height="1.3" fill="#3f7fee"/><rect x="143.7" y="237.5" width="1.3" height="1.3" fill="#3f7fee"/><rect x="154.1" y="232.0" width="1.3" height="1.3" fill="#3f7fee"/><rect x="142.7" y="241.8" width="1.3" height="1.3" fill="#3f7fee"/><rect x="136.5" y="244.3" width="1.3" height="1.3" fill="#3f7fee"/><rect x="147.9" y="212.0" width="1.3" height="1.3" fill="#3f7fee"/><rect x="154.5" y="219.6" width="1.3" height="1.3" fill="#3f7fee"/><rect x="140.2" y="230.4" width="1.3" height="1.3" fill="#3f7fee"/><rect x="137.4" y="242.0" width="1.3" height="1.3" fill="#3f7fee"/><rect x="150.4" y="195.4" width="1.3" height="1.3" fill="#3f7fee"/><rect x="145.4" y="228.6" width="1.3" height="1.3" fill="#3f7fee"/><rect x="153.7" y="236.2" width="1.3" height="1.3" fill="#3f7fee"/><rect x="149.4" y="233.2" width="1.3" height="1.3" fill="#3f7fee"/><rect x="138.8" y="240.7" width="1.3" height="1.3" fill="#3f7fee"/><rect x="152.6" y="230.5" width="1.3" height="1.3" fill="#3f7fee"/><rect x="140.1" y="222.4" width="1.3" height="1.3" fill="#3f7fee"/><rect x="145.7" y="228.5" width="1.3" height="1.3" fill="#3f7fee"/><rect x="151.5" y="248.1" width="1.3" height="1.3" fill="#3f7fee"/><rect x="140.0" y="245.8" width="1.3" height="1.3" fill="#3f7fee"/><rect x="150.8" y="246.8" width="1.3" height="1.3" fill="#3f7fee"/><rect x="154.1" y="242.7" width="1.3" height="1.3" fill="#3f7fee"/><rect x="152.4" y="223.6" width="1.3" height="1.3" fill="#3f7fee"/><rect x="139.4" y="235.5" width="1.3" height="1.3" fill="#3f7fee"/><rect x="133.1" y="249.8" width="1.3" height="1.3" fill="#3f7fee"/><rect x="151.2" y="240.8" width="1.3" height="1.3" fill="#3f7fee"/><rect x="153.1" y="249.3" width="1.3" height="1.3" fill="#3f7fee"/><rect x="156.4" y="242.0" width="1.3" height="1.3" fill="#3f7fee"/><rect x="155.5" y="247.8" width="1.3" height="1.3" fill="#3f7fee"/><rect x="152.8" y="239.5" width="1.3" height="1.3" fill="#3f7fee"/><rect x="145.9" y="227.6" width="1.3" height="1.3" fill="#3f7fee"/><rect x="134.1" y="243.9" width="1.3" height="1.3" fill="#3f7fee"/><rect x="151.0" y="230.3" width="1.3" height="1.3" fill="#3f7fee"/><rect x="155.8" y="227.1" width="1.3" height="1.3" fill="#3f7fee"/><rect x="140.9" y="236.2" width="1.3" height="1.3" fill="#3f7fee"/><rect x="155.4" y="239.2" width="1.3" height="1.3" fill="#3f7fee"/><rect x="142.0" y="232.8" width="1.3" height="1.3" fill="#3f7fee"/><rect x="132.0" y="248.2" width="1.3" height="1.3" fill="#3f7fee"/><rect x="152.3" y="247.2" width="1.3" height="1.3" fill="#3f7fee"/><rect x="154.4" y="247.9" width="1.3" height="1.3" fill="#3f7fee"/><rect x="153.4" y="243.8" width="1.3" height="1.3" fill="#3f7fee"/><rect x="152.6" y="234.1" width="1.3" height="1.3" fill="#3f7fee"/><rect x="151.2" y="236.0" width="1.3" height="1.3" fill="#3f7fee"/><rect x="127.8" y="237.4" width="1.3" height="1.3" fill="#3f7fee"/><rect x="133.3" y="245.0" width="1.3" height="1.3" fill="#3f7fee"/><rect x="147.5" y="215.5" width="1.3" height="1.3" fill="#3f7fee"/><rect x="155.8" y="247.7" width="1.3" height="1.3" fill="#3f7fee"/><rect x="155.4" y="221.2" width="1.3" height="1.3" fill="#3f7fee"/><rect x="139.4" y="230.2" width="1.3" height="1.3" fill="#3f7fee"/><rect x="137.8" y="233.7" width="1.3" height="1.3" fill="#3f7fee"/><rect x="145.4" y="238.6" width="1.3" height="1.3" fill="#3f7fee"/><rect x="136.0" y="243.4" width="1.3" height="1.3" fill="#3f7fee"/><rect x="126.3" y="190.5" width="1.3" height="1.3" fill="#3f7fee"/><rect x="140.8" y="231.6" width="1.3" height="1.3" fill="#3f7fee"/><rect x="133.9" y="244.8" width="1.3" height="1.3" fill="#3f7fee"/><rect x="147.5" y="241.9" width="1.3" height="1.3" fill="#3f7fee"/><rect x="133.9" y="249.6" width="1.3" height="1.3" fill="#3f7fee"/><rect x="131.6" y="249.3" width="1.3" height="1.3" fill="#3f7fee"/><rect x="134.8" y="242.9" width="1.3" height="1.3" fill="#3f7fee"/><rect x="148.9" y="249.8" width="1.3" height="1.3" fill="#3f7fee"/><rect x="156.4" y="247.7" width="1.3" height="1.3" fill="#3f7fee"/><rect x="129.0" y="204.4" width="1.3" height="1.3" fill="#3f7fee"/><rect x="141.1" y="236.1" width="1.3" height="1.3" fill="#3f7fee"/><rect x="146.3" y="246.5" width="1.3" height="1.3" fill="#3f7fee"/><rect x="149.4" y="243.1" width="1.3" height="1.3" fill="#3f7fee"/><rect x="142.5" y="221.6" width="1.3" height="1.3" fill="#3f7fee"/><rect x="146.3" y="243.7" width="1.3" height="1.3" fill="#3f7fee"/><rect x="151.0" y="247.5" width="1.3" height="1.3" fill="#3f7fee"/><rect x="156.7" y="238.5" width="1.3" height="1.3" fill="#3f7fee"/><rect x="152.9" y="220.2" width="1.3" height="1.3" fill="#3f7fee"/><rect x="156.6" y="244.0" width="1.3" height="1.3" fill="#3f7fee"/><rect x="144.0" y="245.2" width="1.3" height="1.3" fill="#3f7fee"/><rect x="137.1" y="229.6" width="1.3" height="1.3" fill="#3f7fee"/><rect x="153.7" y="235.5" width="1.3" height="1.3" fill="#3f7fee"/><rect x="147.7" y="223.9" width="1.3" height="1.3" fill="#3f7fee"/><rect x="142.8" y="211.6" width="1.3" height="1.3" fill="#3f7fee"/><rect x="155.6" y="227.8" width="1.3" height="1.3" fill="#3f7fee"/><rect x="139.2" y="247.2" width="1.3" height="1.3" fill="#3f7fee"/><rect x="148.7" y="235.8" width="1.3" height="1.3" fill="#3f7fee"/><rect x="149.5" y="241.1" width="1.3" height="1.3" fill="#3f7fee"/><rect x="148.3" y="224.0" width="1.3" height="1.3" fill="#3f7fee"/><rect x="147.5" y="227.6" width="1.3" height="1.3" fill="#3f7fee"/><rect x="153.1" y="232.5" width="1.3" height="1.3" fill="#3f7fee"/><rect x="149.6" y="241.5" width="1.3" height="1.3" fill="#3f7fee"/><rect x="151.1" y="230.8" width="1.3" height="1.3" fill="#3f7fee"/><rect x="156.6" y="227.3" width="1.3" height="1.3" fill="#3f7fee"/><rect x="149.6" y="231.0" width="1.3" height="1.3" fill="#3f7fee"/><rect x="148.5" y="244.6" width="1.3" height="1.3" fill="#3f7fee"/><rect x="131.9" y="248.1" width="1.3" height="1.3" fill="#3f7fee"/><rect x="156.4" y="248.6" width="1.3" height="1.3" fill="#3f7fee"/><rect x="150.7" y="211.2" width="1.3" height="1.3" fill="#3f7fee"/><rect x="155.8" y="240.9" width="1.3" height="1.3" fill="#3f7fee"/><rect x="133.7" y="248.9" width="1.3" height="1.3" fill="#3f7fee"/><rect x="150.7" y="242.2" width="1.3" height="1.3" fill="#3f7fee"/><rect x="137.4" y="237.9" width="1.3" height="1.3" fill="#3f7fee"/><rect x="133.2" y="247.2" width="1.3" height="1.3" fill="#3f7fee"/><rect x="155.6" y="236.9" width="1.3" height="1.3" fill="#3f7fee"/><rect x="146.2" y="239.5" width="1.3" height="1.3" fill="#3f7fee"/><rect x="155.4" y="246.5" width="1.3" height="1.3" fill="#3f7fee"/><rect x="143.3" y="233.0" width="1.3" height="1.3" fill="#3f7fee"/><rect x="144.3" y="228.5" width="1.3" height="1.3" fill="#3f7fee"/><rect x="152.6" y="228.2" width="1.3" height="1.3" fill="#3f7fee"/><rect x="154.1" y="246.1" width="1.3" height="1.3" fill="#3f7fee"/><rect x="149.4" y="239.1" width="1.3" height="1.3" fill="#3f7fee"/><rect x="149.4" y="223.6" width="1.3" height="1.3" fill="#3f7fee"/><rect x="134.0" y="241.8" width="1.3" height="1.3" fill="#3f7fee"/><rect x="141.5" y="242.7" width="1.3" height="1.3" fill="#3f7fee"/><rect x="135.2" y="241.7" width="1.3" height="1.3" fill="#3f7fee"/><rect x="145.9" y="246.0" width="1.3" height="1.3" fill="#3f7fee"/><rect x="141.5" y="249.8" width="1.3" height="1.3" fill="#3f7fee"/><rect x="153.2" y="242.4" width="1.3" height="1.3" fill="#3f7fee"/><rect x="137.1" y="244.3" width="1.3" height="1.3" fill="#3f7fee"/><rect x="151.9" y="242.7" width="1.3" height="1.3" fill="#3f7fee"/><rect x="155.4" y="228.1" width="1.3" height="1.3" fill="#3f7fee"/><rect x="154.0" y="248.8" width="1.3" height="1.3" fill="#3f7fee"/><rect x="152.7" y="229.8" width="1.3" height="1.3" fill="#3f7fee"/><rect x="148.5" y="225.4" width="1.3" height="1.3" fill="#3f7fee"/><rect x="152.6" y="239.5" width="1.3" height="1.3" fill="#3f7fee"/><rect x="132.0" y="247.5" width="1.3" height="1.3" fill="#3f7fee"/><rect x="142.3" y="223.5" width="1.3" height="1.3" fill="#3f7fee"/><rect x="155.8" y="234.1" width="1.3" height="1.3" fill="#3f7fee"/><rect x="134.1" y="207.5" width="1.3" height="1.3" fill="#3f7fee"/><rect x="152.3" y="229.0" width="1.3" height="1.3" fill="#3f7fee"/><rect x="143.5" y="245.3" width="1.3" height="1.3" fill="#3f7fee"/><rect x="133.7" y="248.9" width="1.3" height="1.3" fill="#3f7fee"/><rect x="149.7" y="245.0" width="1.3" height="1.3" fill="#3f7fee"/><rect x="146.0" y="247.0" width="1.3" height="1.3" fill="#3f7fee"/><rect x="153.0" y="239.0" width="1.3" height="1.3" fill="#3f7fee"/><rect x="140.1" y="236.4" width="1.3" height="1.3" fill="#3f7fee"/><rect x="136.9" y="245.8" width="1.3" height="1.3" fill="#3f7fee"/><rect x="143.8" y="246.4" width="1.3" height="1.3" fill="#3f7fee"/><rect x="136.2" y="248.4" width="1.3" height="1.3" fill="#3f7fee"/><rect x="154.0" y="245.7" width="1.3" height="1.3" fill="#3f7fee"/><rect x="146.1" y="240.3" width="1.3" height="1.3" fill="#3f7fee"/><rect x="154.6" y="247.6" width="1.3" height="1.3" fill="#3f7fee"/><rect x="145.2" y="238.8" width="1.3" height="1.3" fill="#3f7fee"/><rect x="148.6" y="210.0" width="1.3" height="1.3" fill="#3f7fee"/><rect x="151.9" y="213.9" width="1.3" height="1.3" fill="#3f7fee"/><rect x="138.2" y="247.7" width="1.3" height="1.3" fill="#3f7fee"/><rect x="155.8" y="242.5" width="1.3" height="1.3" fill="#3f7fee"/><rect x="145.6" y="232.6" width="1.3" height="1.3" fill="#3f7fee"/><rect x="150.5" y="240.4" width="1.3" height="1.3" fill="#3f7fee"/><rect x="125.2" y="14.7" width="1.6" height="1.6" fill="#4a90f0"/><rect x="141.7" y="12.7" width="1.6" height="1.6" fill="#4a90f0"/><rect x="129.7" y="24.7" width="1.6" height="1.6" fill="#4a90f0"/><rect x="127.2" y="162.7" width="1.6" height="1.6" fill="#4a90f0"/><rect x="131.2" y="165.2" width="1.6" height="1.6" fill="#4a90f0"/><rect x="133.2" y="166.7" width="1.6" height="1.6" fill="#4a90f0"/><rect x="152.2" y="180.2" width="1.6" height="1.6" fill="#4a90f0"/><rect x="151.7" y="185.2" width="1.6" height="1.6" fill="#4a90f0"/><rect x="131.2" y="182.2" width="1.6" height="1.6" fill="#4a90f0"/><rect x="122.2" y="184.2" width="1.6" height="1.6" fill="#4a90f0"/><rect x="124.7" y="189.2" width="1.6" height="1.6" fill="#4a90f0"/><rect x="128.7" y="189.7" width="1.6" height="1.6" fill="#4a90f0"/><rect x="123.2" y="193.2" width="1.6" height="1.6" fill="#4a90f0"/><rect x="120.7" y="196.2" width="1.6" height="1.6" fill="#4a90f0"/><rect x="125.2" y="197.2" width="1.6" height="1.6" fill="#4a90f0"/><rect x="127.2" y="198.2" width="1.6" height="1.6" fill="#4a90f0"/><rect x="131.7" y="195.2" width="1.6" height="1.6" fill="#4a90f0"/><rect x="132.2" y="188.2" width="1.6" height="1.6" fill="#4a90f0"/><rect x="136.2" y="190.2" width="1.6" height="1.6" fill="#4a90f0"/><rect x="139.2" y="192.2" width="1.6" height="1.6" fill="#4a90f0"/><rect x="143.2" y="186.7" width="1.6" height="1.6" fill="#4a90f0"/><rect x="145.2" y="193.2" width="1.6" height="1.6" fill="#4a90f0"/><rect x="150.2" y="195.2" width="1.6" height="1.6" fill="#4a90f0"/><rect x="149.7" y="203.2" width="1.6" height="1.6" fill="#4a90f0"/><rect x="145.2" y="202.2" width="1.6" height="1.6" fill="#4a90f0"/><rect x="140.2" y="199.2" width="1.6" height="1.6" fill="#4a90f0"/><rect x="137.2" y="202.2" width="1.6" height="1.6" fill="#4a90f0"/><rect x="129.2" y="208.2" width="1.6" height="1.6" fill="#4a90f0"/><rect x="132.2" y="212.2" width="1.6" height="1.6" fill="#4a90f0"/><rect x="135.2" y="210.2" width="1.6" height="1.6" fill="#4a90f0"/><rect x="140.2" y="208.2" width="1.6" height="1.6" fill="#4a90f0"/><rect x="144.2" y="210.2" width="1.6" height="1.6" fill="#4a90f0"/><rect x="148.2" y="208.2" width="1.6" height="1.6" fill="#4a90f0"/><rect x="151.2" y="212.2" width="1.6" height="1.6" fill="#4a90f0"/><rect x="119.6" y="194.6" width="1.8" height="1.8" fill="#2e5fd8"/><rect x="122.1" y="190.1" width="1.8" height="1.8" fill="#2e5fd8"/><rect x="112.1" y="217.6" width="1.8" height="1.8" fill="#2e5fd8"/><rect x="115.1" y="218.6" width="1.8" height="1.8" fill="#2e5fd8"/><rect x="117.1" y="228.6" width="1.8" height="1.8" fill="#2e5fd8"/><rect x="115.6" y="237.1" width="1.8" height="1.8" fill="#2e5fd8"/><rect x="113.6" y="241.1" width="1.8" height="1.8" fill="#2e5fd8"/><rect x="116.6" y="243.1" width="1.8" height="1.8" fill="#2e5fd8"/><rect x="119.6" y="224.1" width="1.8" height="1.8" fill="#2e5fd8"/><rect x="173.4" y="227.3" width="1.4" height="1.4" fill="#ff1a0a"/><rect x="168.5" y="248.8" width="1.4" height="1.4" fill="#ff1a0a"/><rect x="173.7" y="239.8" width="1.4" height="1.4" fill="#ff1a0a"/><rect x="171.9" y="237.9" width="1.4" height="1.4" fill="#ff1a0a"/><rect x="168.9" y="230.9" width="1.4" height="1.4" fill="#ff1a0a"/><rect x="167.5" y="238.1" width="1.4" height="1.4" fill="#ff1a0a"/><rect x="176.4" y="246.2" width="1.4" height="1.4" fill="#ff1a0a"/><rect x="171.1" y="244.6" width="1.4" height="1.4" fill="#ff1a0a"/><rect x="170.5" y="247.5" width="1.4" height="1.4" fill="#ff1a0a"/><rect x="184.1" y="244.3" width="1.4" height="1.4" fill="#ff1a0a"/><rect x="167.8" y="245.8" width="1.4" height="1.4" fill="#ff1a0a"/><rect x="173.1" y="248.9" width="1.4" height="1.4" fill="#ff1a0a"/><rect x="170.6" y="232.4" width="1.4" height="1.4" fill="#ff1a0a"/><rect x="168.1" y="233.1" width="1.4" height="1.4" fill="#ff1a0a"/><rect x="171.4" y="249.8" width="1.4" height="1.4" fill="#ff1a0a"/><rect x="166.6" y="246.3" width="1.4" height="1.4" fill="#ff1a0a"/><rect x="172.8" y="248.1" width="1.4" height="1.4" fill="#ff1a0a"/><rect x="171.1" y="241.9" width="1.4" height="1.4" fill="#ff1a0a"/><rect x="169.7" y="246.2" width="1.4" height="1.4" fill="#ff1a0a"/><rect x="170.4" y="245.1" width="1.4" height="1.4" fill="#ff1a0a"/><rect x="171.6" y="238.8" width="1.4" height="1.4" fill="#ff1a0a"/><rect x="180.2" y="245.4" width="1.4" height="1.4" fill="#ff1a0a"/><rect x="171.9" y="225.3" width="1.4" height="1.4" fill="#ff1a0a"/><rect x="166.6" y="241.5" width="1.4" height="1.4" fill="#ff1a0a"/><rect x="166.3" y="247.3" width="1.4" height="1.4" fill="#ff1a0a"/><rect x="172.5" y="229.6" width="1.4" height="1.4" fill="#ff1a0a"/><rect x="174.3" y="242.7" width="1.4" height="1.4" fill="#ff1a0a"/><rect x="169.2" y="249.0" width="1.4" height="1.4" fill="#ff1a0a"/><rect x="167.1" y="244.7" width="1.4" height="1.4" fill="#ff1a0a"/><rect x="166.5" y="249.7" width="1.4" height="1.4" fill="#ff1a0a"/><rect x="177.7" y="244.3" width="1.4" height="1.4" fill="#ff1a0a"/><rect x="168.0" y="246.6" width="1.4" height="1.4" fill="#ff1a0a"/><rect x="179.4" y="242.6" width="1.4" height="1.4" fill="#ff1a0a"/><rect x="171.8" y="243.5" width="1.4" height="1.4" fill="#ff1a0a"/><rect x="167.0" y="246.7" width="1.4" height="1.4" fill="#ff1a0a"/><rect x="179.5" y="247.6" width="1.4" height="1.4" fill="#ff1a0a"/><rect x="174.1" y="245.5" width="1.4" height="1.4" fill="#ff1a0a"/><rect x="169.2" y="236.5" width="1.4" height="1.4" fill="#ff1a0a"/><rect x="166.7" y="245.2" width="1.4" height="1.4" fill="#ff1a0a"/><rect x="166.7" y="243.7" width="1.4" height="1.4" fill="#ff1a0a"/><rect x="171.7" y="239.7" width="1.4" height="1.4" fill="#ff1a0a"/><rect x="170.1" y="235.8" width="1.4" height="1.4" fill="#ff1a0a"/><rect x="167.2" y="239.4" width="1.4" height="1.4" fill="#ff1a0a"/><rect x="178.0" y="248.1" width="1.4" height="1.4" fill="#ff1a0a"/><rect x="171.5" y="228.5" width="1.4" height="1.4" fill="#ff1a0a"/><rect x="168.3" y="246.1" width="1.4" height="1.4" fill="#ff1a0a"/><rect x="166.4" y="245.9" width="1.4" height="1.4" fill="#ff1a0a"/><rect x="168.0" y="234.3" width="1.4" height="1.4" fill="#ff1a0a"/><rect x="168.9" y="246.3" width="1.4" height="1.4" fill="#ff1a0a"/><rect x="170.9" y="224.2" width="1.4" height="1.4" fill="#ff1a0a"/><rect x="167.2" y="244.8" width="1.4" height="1.4" fill="#ff1a0a"/><rect x="174.7" y="248.9" width="1.4" height="1.4" fill="#ff1a0a"/><rect x="167.0" y="237.4" width="1.4" height="1.4" fill="#ff1a0a"/><rect x="168.9" y="249.8" width="1.4" height="1.4" fill="#ff1a0a"/><rect x="169.4" y="246.7" width="1.4" height="1.4" fill="#ff1a0a"/><rect x="169.2" y="227.3" width="1.4" height="1.4" fill="#ff1a0a"/><rect x="177.0" y="247.3" width="1.4" height="1.4" fill="#ff1a0a"/><rect x="177.2" y="247.3" width="1.4" height="1.4" fill="#ff1a0a"/><rect x="166.6" y="245.6" width="1.4" height="1.4" fill="#ff1a0a"/><rect x="167.5" y="249.5" width="1.4" height="1.4" fill="#ff1a0a"/><rect x="180.7" y="242.9" width="1.4" height="1.4" fill="#ff1a0a"/><rect x="167.1" y="237.2" width="1.4" height="1.4" fill="#ff1a0a"/><rect x="170.4" y="240.6" width="1.4" height="1.4" fill="#ff1a0a"/><rect x="188.6" y="247.1" width="1.4" height="1.4" fill="#ff1a0a"/><rect x="167.7" y="233.8" width="1.4" height="1.4" fill="#ff1a0a"/><rect x="169.6" y="243.4" width="1.4" height="1.4" fill="#ff1a0a"/><rect x="172.3" y="223.1" width="1.4" height="1.4" fill="#ff1a0a"/><rect x="166.7" y="246.0" width="1.4" height="1.4" fill="#ff1a0a"/><rect x="166.8" y="249.3" width="1.4" height="1.4" fill="#ff1a0a"/><rect x="173.1" y="241.4" width="1.4" height="1.4" fill="#ff1a0a"/><rect x="167.0" y="246.6" width="1.4" height="1.4" fill="#ff1a0a"/><rect x="171.0" y="248.5" width="1.4" height="1.4" fill="#ff1a0a"/><rect x="169.3" y="231.5" width="1.4" height="1.4" fill="#ff1a0a"/><rect x="171.8" y="249.8" width="1.4" height="1.4" fill="#ff1a0a"/><rect x="171.4" y="234.5" width="1.4" height="1.4" fill="#ff1a0a"/><rect x="170.0" y="246.9" width="1.4" height="1.4" fill="#ff1a0a"/><rect x="166.6" y="240.1" width="1.4" height="1.4" fill="#ff1a0a"/><rect x="171.2" y="248.9" width="1.4" height="1.4" fill="#ff1a0a"/><rect x="168.7" y="243.9" width="1.4" height="1.4" fill="#ff1a0a"/><rect x="171.2" y="239.3" width="1.4" height="1.4" fill="#ff1a0a"/><rect x="169.0" y="244.3" width="1.4" height="1.4" fill="#ff1a0a"/><rect x="169.1" y="248.2" width="1.4" height="1.4" fill="#ff1a0a"/><rect x="172.0" y="233.4" width="1.4" height="1.4" fill="#ff1a0a"/><rect x="167.7" y="239.7" width="1.4" height="1.4" fill="#ff1a0a"/><rect x="167.0" y="247.3" width="1.4" height="1.4" fill="#ff1a0a"/><rect x="170.9" y="239.4" width="1.4" height="1.4" fill="#ff1a0a"/><rect x="170.1" y="233.2" width="1.4" height="1.4" fill="#ff1a0a"/><rect x="168.2" y="244.1" width="1.4" height="1.4" fill="#ff1a0a"/><rect x="167.3" y="238.3" width="1.4" height="1.4" fill="#ff1a0a"/><rect x="175.3" y="246.7" width="1.4" height="1.4" fill="#ff1a0a"/><rect x="167.3" y="241.2" width="1.4" height="1.4" fill="#ff1a0a"/><rect x="171.2" y="242.1" width="1.4" height="1.4" fill="#ff1a0a"/><rect x="170.0" y="221.1" width="1.4" height="1.4" fill="#ff1a0a"/><rect x="169.4" y="245.9" width="1.4" height="1.4" fill="#ff1a0a"/><rect x="166.3" y="242.3" width="1.4" height="1.4" fill="#ff1a0a"/><rect x="171.3" y="249.8" width="1.4" height="1.4" fill="#ff1a0a"/><rect x="169.9" y="249.7" width="1.4" height="1.4" fill="#ff1a0a"/><rect x="167.1" y="243.8" width="1.4" height="1.4" fill="#ff1a0a"/><rect x="168.5" y="230.2" width="1.4" height="1.4" fill="#ff1a0a"/><rect x="169.1" y="238.4" width="1.4" height="1.4" fill="#ff1a0a"/><rect x="166.7" y="249.8" width="1.4" height="1.4" fill="#ff1a0a"/><rect x="172.5" y="244.2" width="1.4" height="1.4" fill="#ff1a0a"/><rect x="170.0" y="245.5" width="1.4" height="1.4" fill="#ff1a0a"/><rect x="166.2" y="244.5" width="1.4" height="1.4" fill="#ff1a0a"/><rect x="166.8" y="245.8" width="1.4" height="1.4" fill="#ff1a0a"/><rect x="169.7" y="242.3" width="1.4" height="1.4" fill="#ff1a0a"/><rect x="185.9" y="242.9" width="1.4" height="1.4" fill="#ff1a0a"/><rect x="170.1" y="249.7" width="1.4" height="1.4" fill="#ff1a0a"/><rect x="173.6" y="244.4" width="1.4" height="1.4" fill="#ff1a0a"/><rect x="170.7" y="220.2" width="1.4" height="1.4" fill="#ff1a0a"/><rect x="169.5" y="244.9" width="1.4" height="1.4" fill="#ff1a0a"/><rect x="166.6" y="240.3" width="1.4" height="1.4" fill="#ff1a0a"/><rect x="167.8" y="245.7" width="1.4" height="1.4" fill="#ff1a0a"/><rect x="166.5" y="244.3" width="1.4" height="1.4" fill="#ff1a0a"/><rect x="171.5" y="248.7" width="1.4" height="1.4" fill="#ff1a0a"/><rect x="172.4" y="249.1" width="1.4" height="1.4" fill="#ff1a0a"/><rect x="172.9" y="246.4" width="1.4" height="1.4" fill="#ff1a0a"/><rect x="177.4" y="246.6" width="1.4" height="1.4" fill="#ff1a0a"/><rect x="169.9" y="230.6" width="1.4" height="1.4" fill="#ff1a0a"/><rect x="168.5" y="241.0" width="1.4" height="1.4" fill="#ff1a0a"/><rect x="170.8" y="217.7" width="1.4" height="1.4" fill="#ff1a0a"/><rect x="174.4" y="227.9" width="1.4" height="1.4" fill="#ff1a0a"/><rect x="167.7" y="234.0" width="1.4" height="1.4" fill="#ff1a0a"/><rect x="169.1" y="243.3" width="1.4" height="1.4" fill="#ff1a0a"/><rect x="170.4" y="231.6" width="1.4" height="1.4" fill="#ff1a0a"/><rect x="166.2" y="244.7" width="1.4" height="1.4" fill="#ff1a0a"/><rect x="171.3" y="230.1" width="1.4" height="1.4" fill="#ff1a0a"/><rect x="175.5" y="244.5" width="1.4" height="1.4" fill="#ff1a0a"/><rect x="168.5" y="244.9" width="1.4" height="1.4" fill="#ff1a0a"/><rect x="170.9" y="249.3" width="1.4" height="1.4" fill="#ff1a0a"/><rect x="166.9" y="249.7" width="1.4" height="1.4" fill="#ff1a0a"/><rect x="167.9" y="239.2" width="1.4" height="1.4" fill="#ff1a0a"/><rect x="167.8" y="237.5" width="1.4" height="1.4" fill="#ff1a0a"/><rect x="171.8" y="246.6" width="1.4" height="1.4" fill="#ff1a0a"/><rect x="168.5" y="248.9" width="1.4" height="1.4" fill="#ff1a0a"/><rect x="172.0" y="233.1" width="1.4" height="1.4" fill="#ff1a0a"/><rect x="170.9" y="238.0" width="1.4" height="1.4" fill="#ff1a0a"/><rect x="168.7" y="246.6" width="1.4" height="1.4" fill="#ff1a0a"/><rect x="174.1" y="235.4" width="1.4" height="1.4" fill="#ff1a0a"/><rect x="167.1" y="244.4" width="1.4" height="1.4" fill="#ff1a0a"/><rect x="167.7" y="234.2" width="1.4" height="1.4" fill="#ff1a0a"/><rect x="167.7" y="249.2" width="1.4" height="1.4" fill="#ff1a0a"/><rect x="167.1" y="249.3" width="1.4" height="1.4" fill="#ff1a0a"/><rect x="171.4" y="238.6" width="1.4" height="1.4" fill="#ff1a0a"/><rect x="166.4" y="249.2" width="1.4" height="1.4" fill="#ff1a0a"/><rect x="169.7" y="246.6" width="1.4" height="1.4" fill="#ff1a0a"/><rect x="167.9" y="246.5" width="1.4" height="1.4" fill="#ff1a0a"/><rect x="169.5" y="249.8" width="1.4" height="1.4" fill="#ff1a0a"/><rect x="168.3" y="249.8" width="1.4" height="1.4" fill="#ff1a0a"/><rect x="170.4" y="222.8" width="1.4" height="1.4" fill="#ff1a0a"/><rect x="168.0" y="234.6" width="1.4" height="1.4" fill="#ff1a0a"/><rect x="172.7" y="238.3" width="1.4" height="1.4" fill="#ff1a0a"/><rect x="168.5" y="240.0" width="1.4" height="1.4" fill="#ff1a0a"/><rect x="168.3" y="240.4" width="1.4" height="1.4" fill="#ff1a0a"/><rect x="167.2" y="249.8" width="1.4" height="1.4" fill="#ff1a0a"/><rect x="169.9" y="226.7" width="1.4" height="1.4" fill="#ff1a0a"/><rect x="181.8" y="246.4" width="1.4" height="1.4" fill="#ff1a0a"/><rect x="169.0" y="230.9" width="1.4" height="1.4" fill="#ff1a0a"/><rect x="172.0" y="218.5" width="1.4" height="1.4" fill="#ff1a0a"/><rect x="169.3" y="239.4" width="1.4" height="1.4" fill="#ff1a0a"/><rect x="166.5" y="249.6" width="1.4" height="1.4" fill="#ff1a0a"/><rect x="176.6" y="248.5" width="1.4" height="1.4" fill="#ff1a0a"/><rect x="169.5" y="240.4" width="1.4" height="1.4" fill="#ff1a0a"/><rect x="177.8" y="247.8" width="1.4" height="1.4" fill="#ff1a0a"/><rect x="167.5" y="249.1" width="1.4" height="1.4" fill="#ff1a0a"/><rect x="168.5" y="245.9" width="1.4" height="1.4" fill="#ff1a0a"/><rect x="169.7" y="247.4" width="1.4" height="1.4" fill="#ff1a0a"/><rect x="167.5" y="244.4" width="1.4" height="1.4" fill="#ff1a0a"/><rect x="170.1" y="236.5" width="1.4" height="1.4" fill="#ff1a0a"/><rect x="168.8" y="234.8" width="1.4" height="1.4" fill="#ff1a0a"/><rect x="170.0" y="244.6" width="1.4" height="1.4" fill="#ff1a0a"/><rect x="173.6" y="241.9" width="1.4" height="1.4" fill="#ff1a0a"/><rect x="172.9" y="215.7" width="1.4" height="1.4" fill="#ff1a0a"/><rect x="172.0" y="236.9" width="1.4" height="1.4" fill="#ff1a0a"/><rect x="172.1" y="216.7" width="1.4" height="1.4" fill="#ff1a0a"/><rect x="185.6" y="244.2" width="1.4" height="1.4" fill="#ff1a0a"/><rect x="166.9" y="248.8" width="1.4" height="1.4" fill="#ff1a0a"/><rect x="172.5" y="238.8" width="1.4" height="1.4" fill="#ff1a0a"/><rect x="167.8" y="233.5" width="1.4" height="1.4" fill="#ff1a0a"/><rect x="182.0" y="247.2" width="1.4" height="1.4" fill="#ff1a0a"/><rect x="174.8" y="240.2" width="1.4" height="1.4" fill="#ff1a0a"/><rect x="166.4" y="249.8" width="1.4" height="1.4" fill="#ff1a0a"/><rect x="169.2" y="249.1" width="1.4" height="1.4" fill="#ff1a0a"/><rect x="166.8" y="249.7" width="1.4" height="1.4" fill="#ff1a0a"/><rect x="169.3" y="241.3" width="1.4" height="1.4" fill="#ff1a0a"/><rect x="167.3" y="246.7" width="1.4" height="1.4" fill="#ff1a0a"/><rect x="170.8" y="217.2" width="1.4" height="1.4" fill="#ff1a0a"/><rect x="166.7" y="247.8" width="1.4" height="1.4" fill="#ff1a0a"/><rect x="166.4" y="243.9" width="1.4" height="1.4" fill="#ff1a0a"/><rect x="170.4" y="248.6" width="1.4" height="1.4" fill="#ff1a0a"/><rect x="168.7" y="245.1" width="1.4" height="1.4" fill="#ff1a0a"/><rect x="174.4" y="240.5" width="1.4" height="1.4" fill="#ff1a0a"/><rect x="171.3" y="234.7" width="1.4" height="1.4" fill="#ff1a0a"/><rect x="170.5" y="244.2" width="1.4" height="1.4" fill="#ff1a0a"/><rect x="170.5" y="236.1" width="1.4" height="1.4" fill="#ff1a0a"/><rect x="167.4" y="240.9" width="1.4" height="1.4" fill="#ff1a0a"/><rect x="168.0" y="234.0" width="1.4" height="1.4" fill="#ff1a0a"/><rect x="168.5" y="247.2" width="1.4" height="1.4" fill="#ff1a0a"/><rect x="168.7" y="242.8" width="1.4" height="1.4" fill="#ff1a0a"/><rect x="174.8" y="248.7" width="1.4" height="1.4" fill="#ff1a0a"/><rect x="166.6" y="247.4" width="1.4" height="1.4" fill="#ff1a0a"/><rect x="171.0" y="229.6" width="1.4" height="1.4" fill="#ff1a0a"/><rect x="182.1" y="241.7" width="1.4" height="1.4" fill="#ff1a0a"/><rect x="171.3" y="220.9" width="1.4" height="1.4" fill="#ff1a0a"/><rect x="166.3" y="247.2" width="1.4" height="1.4" fill="#ff1a0a"/><rect x="168.3" y="248.8" width="1.4" height="1.4" fill="#ff1a0a"/><rect x="184.3" y="245.1" width="1.4" height="1.4" fill="#ff1a0a"/><rect x="169.4" y="249.1" width="1.4" height="1.4" fill="#ff1a0a"/><rect x="171.3" y="238.0" width="1.4" height="1.4" fill="#ff1a0a"/><rect x="168.9" y="231.4" width="1.4" height="1.4" fill="#ff1a0a"/><rect x="170.0" y="226.2" width="1.4" height="1.4" fill="#ff1a0a"/><rect x="166.8" y="248.7" width="1.4" height="1.4" fill="#ff1a0a"/><rect x="171.0" y="239.8" width="1.4" height="1.4" fill="#ff1a0a"/><rect x="166.5" y="249.4" width="1.4" height="1.4" fill="#ff1a0a"/><rect x="169.2" y="231.1" width="1.4" height="1.4" fill="#ff1a0a"/><rect x="169.4" y="227.1" width="1.4" height="1.4" fill="#ff1a0a"/><rect x="175.9" y="247.3" width="1.4" height="1.4" fill="#ff1a0a"/><rect x="177.7" y="243.8" width="1.4" height="1.4" fill="#ff1a0a"/><rect x="166.9" y="246.8" width="1.4" height="1.4" fill="#ff1a0a"/><rect x="183.0" y="243.9" width="1.4" height="1.4" fill="#ff1a0a"/><rect x="171.7" y="249.2" width="1.4" height="1.4" fill="#ff1a0a"/><rect x="171.8" y="246.7" width="1.4" height="1.4" fill="#ff1a0a"/><rect x="178.6" y="248.8" width="1.4" height="1.4" fill="#ff1a0a"/><rect x="168.8" y="243.1" width="1.4" height="1.4" fill="#ff1a0a"/><rect x="165.8" y="246.1" width="1.4" height="1.4" fill="#ff1a0a"/><rect x="166.5" y="245.0" width="1.4" height="1.4" fill="#ff1a0a"/><rect x="171.2" y="243.6" width="1.4" height="1.4" fill="#ff1a0a"/><rect x="168.0" y="244.0" width="1.4" height="1.4" fill="#ff1a0a"/><rect x="168.1" y="249.4" width="1.4" height="1.4" fill="#ff1a0a"/><rect x="166.4" y="249.3" width="1.4" height="1.4" fill="#ff1a0a"/><rect x="170.6" y="243.2" width="1.4" height="1.4" fill="#ff1a0a"/><rect x="170.0" y="245.3" width="1.4" height="1.4" fill="#ff1a0a"/><rect x="166.0" y="246.8" width="1.4" height="1.4" fill="#ff1a0a"/><rect x="173.4" y="249.2" width="1.4" height="1.4" fill="#ff1a0a"/><rect x="174.2" y="247.2" width="1.4" height="1.4" fill="#ff1a0a"/><rect x="169.6" y="244.4" width="1.4" height="1.4" fill="#ff1a0a"/><rect x="176.5" y="249.1" width="1.4" height="1.4" fill="#ff1a0a"/><rect x="166.6" y="249.4" width="1.4" height="1.4" fill="#ff1a0a"/><rect x="168.6" y="245.9" width="1.4" height="1.4" fill="#ff1a0a"/><rect x="183.0" y="243.3" width="1.4" height="1.4" fill="#ff1a0a"/><rect x="180.5" y="249.1" width="1.4" height="1.4" fill="#ff1a0a"/><rect x="178.8" y="244.9" width="1.4" height="1.4" fill="#ff1a0a"/><rect x="172.1" y="243.0" width="1.4" height="1.4" fill="#ff1a0a"/><rect x="174.6" y="249.1" width="1.4" height="1.4" fill="#ff1a0a"/><rect x="167.9" y="249.0" width="1.4" height="1.4" fill="#ff1a0a"/><rect x="174.8" y="246.0" width="1.4" height="1.4" fill="#ff1a0a"/><rect x="180.3" y="249.5" width="1.4" height="1.4" fill="#ff1a0a"/><rect x="165.8" y="243.2" width="1.4" height="1.4" fill="#ff1a0a"/><rect x="168.6" y="248.3" width="1.4" height="1.4" fill="#ff1a0a"/><rect x="180.5" y="249.1" width="1.4" height="1.4" fill="#ff1a0a"/><rect x="178.8" y="243.9" width="1.4" height="1.4" fill="#ff1a0a"/><rect x="173.8" y="246.1" width="1.4" height="1.4" fill="#ff1a0a"/><rect x="165.8" y="246.1" width="1.4" height="1.4" fill="#ff1a0a"/><rect x="174.9" y="244.9" width="1.4" height="1.4" fill="#ff1a0a"/><rect x="173.0" y="249.1" width="1.4" height="1.4" fill="#ff1a0a"/><rect x="168.0" y="245.8" width="1.4" height="1.4" fill="#ff1a0a"/><rect x="166.3" y="249.1" width="1.4" height="1.4" fill="#ff1a0a"/><rect x="168.4" y="244.7" width="1.4" height="1.4" fill="#ff1a0a"/><rect x="173.5" y="247.8" width="1.4" height="1.4" fill="#ff1a0a"/><rect x="182.9" y="246.3" width="1.4" height="1.4" fill="#ff1a0a"/><rect x="168.2" y="246.4" width="1.4" height="1.4" fill="#ff1a0a"/><rect x="180.3" y="247.7" width="1.4" height="1.4" fill="#ff1a0a"/><rect x="171.4" y="246.3" width="1.4" height="1.4" fill="#ff1a0a"/><rect x="183.5" y="245.9" width="1.4" height="1.4" fill="#ff1a0a"/><rect x="167.4" y="246.3" width="1.4" height="1.4" fill="#ff1a0a"/><rect x="169.5" y="247.0" width="1.4" height="1.4" fill="#ff1a0a"/><rect x="177.0" y="249.5" width="1.4" height="1.4" fill="#ff1a0a"/><rect x="172.8" y="248.1" width="1.4" height="1.4" fill="#ff1a0a"/><rect x="174.6" y="244.5" width="1.4" height="1.4" fill="#ff1a0a"/><rect x="172.0" y="245.9" width="1.4" height="1.4" fill="#ff1a0a"/><rect x="169.0" y="248.4" width="1.4" height="1.4" fill="#ff1a0a"/><rect x="172.8" y="246.6" width="1.4" height="1.4" fill="#ff1a0a"/><rect x="168.0" y="244.9" width="1.4" height="1.4" fill="#ff1a0a"/><rect x="172.6" y="247.8" width="1.4" height="1.4" fill="#ff1a0a"/><rect x="168.4" y="244.3" width="1.4" height="1.4" fill="#ff1a0a"/><rect x="181.4" y="243.5" width="1.4" height="1.4" fill="#ff1a0a"/><rect x="168.4" y="249.3" width="1.4" height="1.4" fill="#ff1a0a"/><rect x="175.3" y="249.4" width="1.4" height="1.4" fill="#ff1a0a"/><rect x="180.3" y="245.6" width="1.4" height="1.4" fill="#ff1a0a"/><rect x="169.7" y="247.3" width="1.4" height="1.4" fill="#ff1a0a"/><rect x="176.4" y="248.9" width="1.4" height="1.4" fill="#ff1a0a"/><rect x="170.2" y="244.7" width="1.4" height="1.4" fill="#ff1a0a"/><rect x="176.3" y="246.3" width="1.4" height="1.4" fill="#ff1a0a"/><rect x="166.5" y="248.6" width="1.4" height="1.4" fill="#ff1a0a"/><rect x="168.5" y="249.4" width="1.4" height="1.4" fill="#ff1a0a"/><rect x="175.4" y="246.4" width="1.4" height="1.4" fill="#ff1a0a"/><rect x="181.9" y="246.5" width="1.4" height="1.4" fill="#ff1a0a"/><rect x="170.2" y="176.2" width="1.7" height="1.7" fill="#ff1a0a"/><rect x="269.6" y="175.2" width="1.7" height="1.7" fill="#ff1a0a"/><rect x="257.1" y="192.7" width="1.7" height="1.7" fill="#ff1a0a"/><rect x="165.2" y="199.2" width="1.7" height="1.7" fill="#ff1a0a"/><rect x="172.2" y="201.2" width="1.7" height="1.7" fill="#ff1a0a"/><rect x="169.7" y="205.2" width="1.7" height="1.7" fill="#ff1a0a"/><rect x="166.7" y="214.2" width="1.7" height="1.7" fill="#ff1a0a"/><rect x="169.2" y="215.7" width="1.7" height="1.7" fill="#ff1a0a"/><rect x="170.7" y="216.7" width="1.7" height="1.7" fill="#ff1a0a"/><rect x="172.2" y="219.2" width="1.7" height="1.7" fill="#ff1a0a"/><rect x="175.2" y="221.2" width="1.7" height="1.7" fill="#ff1a0a"/><rect x="175.2" y="225.2" width="1.7" height="1.7" fill="#ff1a0a"/><rect x="182.2" y="228.2" width="1.7" height="1.7" fill="#ff1a0a"/><rect x="183.7" y="231.7" width="1.7" height="1.7" fill="#ff1a0a"/><rect x="183.2" y="235.2" width="1.7" height="1.7" fill="#ff1a0a"/><rect x="190.2" y="241.7" width="1.7" height="1.7" fill="#ff1a0a"/><rect x="190.2" y="248.2" width="1.7" height="1.7" fill="#ff1a0a"/><rect x="185.2" y="249.2" width="1.7" height="1.7" fill="#ff1a0a"/><rect x="174.7" y="232.7" width="1.7" height="1.7" fill="#ff1a0a"/><rect x="175.7" y="238.2" width="1.7" height="1.7" fill="#ff1a0a"/><rect x="177.2" y="245.2" width="1.7" height="1.7" fill="#ff1a0a"/>
<g stroke="#cecece" stroke-width="0.9" stroke-dasharray="4 3" fill="none">
<line x1="157.7" y1="2.5" x2="157.7" y2="273"/>
<line x1="166.3" y1="2.5" x2="166.3" y2="273"/>
<line x1="26.5" y1="250.5" x2="298" y2="250.5"/>
</g>
<g stroke="#c6e6fb" stroke-width="0.6" fill="none">
<line x1="119.7" y1="179.0" x2="120.5" y2="193.0"/>
<line x1="113.0" y1="195.3" x2="119.0" y2="195.3"/>
<line x1="106.5" y1="215.0" x2="111.8" y2="218.4"/>
<line x1="126.7" y1="204.4" x2="117.0" y2="217.5"/>
<line x1="110.0" y1="230.0" x2="115.3" y2="230.0"/>
<line x1="94.3" y1="247.3" x2="114.4" y2="242.0"/>
<line x1="90.8" y1="264.3" x2="117.0" y2="244.7"/>
<line x1="127.5" y1="238.5" x2="118.0" y2="237.7"/>
<line x1="121.4" y1="225.4" x2="134.5" y2="222.8"/>
<line x1="135.4" y1="187.0" x2="125.8" y2="189.5"/>
<line x1="150.0" y1="186.0" x2="153.0" y2="181.0"/>
</g>
<g stroke="#fbc4c4" stroke-width="0.6" fill="none">
<line x1="196.0" y1="197.0" x2="178.0" y2="246.0"/>
<line x1="263.0" y1="173.0" x2="270.0" y2="176.0"/>
<line x1="254.0" y1="199.0" x2="258.0" y2="194.0"/>
<line x1="200.0" y1="219.0" x2="184.0" y2="236.0"/>
<line x1="191.0" y1="236.0" x2="184.5" y2="240.0"/>
<line x1="231.0" y1="249.0" x2="186.0" y2="250.0"/>
<line x1="190.0" y1="262.0" x2="186.0" y2="251.0"/>
<line x1="207.0" y1="262.0" x2="191.0" y2="250.0"/>
<line x1="160.0" y1="254.0" x2="176.0" y2="246.0"/>
</g>
<text x="80.0" y="177.0" font-size="5.6" font-weight="bold" fill="#2229b4" text-anchor="start" textLength="39.0" lengthAdjust="spacingAndGlyphs">LOC100342699</text>
<text x="136.0" y="188.5" font-size="5.6" font-weight="bold" fill="#2229b4" text-anchor="start" textLength="14.0" lengthAdjust="spacingAndGlyphs">AFF2</text>
<text x="99.5" y="198.0" font-size="5.6" font-weight="bold" fill="#2229b4" text-anchor="start" textLength="11.5" lengthAdjust="spacingAndGlyphs">CR2</text>
<text x="131.5" y="205.5" font-size="5.6" font-weight="bold" fill="#2229b4" text-anchor="start" textLength="22.0" lengthAdjust="spacingAndGlyphs">RASAC1</text>
<text x="86.0" y="215.5" font-size="5.6" font-weight="bold" fill="#2229b4" text-anchor="start" textLength="19.0" lengthAdjust="spacingAndGlyphs">AICDA</text>
<text x="149.5" y="223.5" font-size="5.6" font-weight="bold" fill="#2229b4" text-anchor="start" textLength="25.0" lengthAdjust="spacingAndGlyphs">POU2F3T</text>
<text x="59.0" y="232.5" font-size="5.6" font-weight="bold" fill="#2229b4" text-anchor="start" textLength="39.5" lengthAdjust="spacingAndGlyphs">LOC100350239</text>
<text x="127.5" y="240.5" font-size="5.6" font-weight="bold" fill="#2229b4" text-anchor="start" textLength="14.0" lengthAdjust="spacingAndGlyphs">IMD4</text>
<text x="51.0" y="249.5" font-size="5.6" font-weight="bold" fill="#2229b4" text-anchor="start" textLength="39.5" lengthAdjust="spacingAndGlyphs">LOC100008792</text>
<text x="67.5" y="267.0" font-size="5.6" font-weight="bold" fill="#2229b4" text-anchor="start" textLength="20.0" lengthAdjust="spacingAndGlyphs">REG3G</text>
<text x="150.0" y="240.5" font-size="5.6" font-weight="bold" fill="#f0201a" text-anchor="start" textLength="15.0" lengthAdjust="spacingAndGlyphs">MUC3H</text>
<text x="115.0" y="258.0" font-size="5.6" font-weight="bold" fill="#f0201a" text-anchor="start" textLength="39.0" lengthAdjust="spacingAndGlyphs">LOC100008687</text>
<text x="224.0" y="174.5" font-size="5.6" font-weight="bold" fill="#f0201a" text-anchor="start" textLength="39.0" lengthAdjust="spacingAndGlyphs">LOC100345312</text>
<text x="178.0" y="195.5" font-size="5.6" font-weight="bold" fill="#f0201a" text-anchor="start" textLength="39.5" lengthAdjust="spacingAndGlyphs">LOC100350749</text>
<text x="239.5" y="204.8" font-size="5.6" font-weight="bold" fill="#f0201a" text-anchor="start" textLength="20.0" lengthAdjust="spacingAndGlyphs">ADAD1</text>
<text x="199.0" y="218.5" font-size="5.6" font-weight="bold" fill="#f0201a" text-anchor="start" textLength="43.0" lengthAdjust="spacingAndGlyphs">LOC103348489C</text>
<text x="192.0" y="236.4" font-size="5.6" font-weight="bold" fill="#f0201a" text-anchor="start" textLength="14.0" lengthAdjust="spacingAndGlyphs">PLX3</text>
<text x="231.0" y="249.5" font-size="5.6" font-weight="bold" fill="#f0201a" text-anchor="start" textLength="39.0" lengthAdjust="spacingAndGlyphs">LOC108175433</text>
<text x="162.5" y="267.6" font-size="5.6" font-weight="bold" fill="#f0201a" text-anchor="start" textLength="38.5" lengthAdjust="spacingAndGlyphs">LOC103351375</text>
<text x="207.0" y="267.6" font-size="5.6" font-weight="bold" fill="#f0201a" text-anchor="start" textLength="39.5" lengthAdjust="spacingAndGlyphs">LOC100344298</text>
<line x1="26" y1="2.1" x2="298.5" y2="2.1" stroke="#9a9a9a" stroke-width="1.2"/>
<line x1="26.3" y1="2" x2="26.3" y2="273.5" stroke="#a6a6a6" stroke-width="1.3"/>
<line x1="298.2" y1="2" x2="298.2" y2="274" stroke="#3a3a3a" stroke-width="1.2"/>
<line x1="25.6" y1="273.8" x2="298.8" y2="273.8" stroke="#3a3a3a" stroke-width="1.3"/>
<g stroke="#333" stroke-width="0.8">
<line x1="24" y1="261.3" x2="26" y2="261.3"/>
<line x1="24" y1="178.5" x2="26" y2="178.5"/>
<line x1="24" y1="95.7" x2="26" y2="95.7"/>
<line x1="24" y1="12.9" x2="26" y2="12.9"/>
<line x1="33.6" y1="273.5" x2="33.6" y2="275.5"/>
<line x1="76.4" y1="273.5" x2="76.4" y2="275.5"/>
<line x1="119.2" y1="273.5" x2="119.2" y2="275.5"/>
<line x1="162.0" y1="273.5" x2="162.0" y2="275.5"/>
<line x1="204.8" y1="273.5" x2="204.8" y2="275.5"/>
<line x1="247.6" y1="273.5" x2="247.6" y2="275.5"/>
<line x1="290.4" y1="273.5" x2="290.4" y2="275.5"/>
</g>
<g class="sans" font-weight="bold" font-size="7.5" fill="#111" stroke="#111" stroke-width="0.2">
<text class="sans" x="22.6" y="263.9" text-anchor="end">0</text>
<text class="sans" x="22.6" y="181.1" text-anchor="end">10</text>
<text class="sans" x="22.6" y="98.3" text-anchor="end">20</text>
<text class="sans" x="22.6" y="15.5" text-anchor="end">30</text>
<text class="sans" x="32.6" y="282" text-anchor="middle">-30</text>
<text class="sans" x="75.4" y="282" text-anchor="middle">-20</text>
<text class="sans" x="118.2" y="282" text-anchor="middle">-10</text>
<text class="sans" x="162.0" y="282" text-anchor="middle">0</text>
<text class="sans" x="204.8" y="282" text-anchor="middle">10</text>
<text class="sans" x="247.6" y="282" text-anchor="middle">20</text>
<text class="sans" x="290.4" y="282" text-anchor="middle">30</text>
</g>
<text x="162" y="291.6" font-size="10.4" text-anchor="middle" fill="#111">log<tspan font-size="6.5" dy="1.8">2</tspan><tspan dy="-1.8"> FoldChange</tspan></text>
<text transform="translate(8.7,138) rotate(-90)" font-size="9.9" text-anchor="middle" fill="#111">-log<tspan font-size="6" dy="1.6">10</tspan><tspan dy="-1.6">p-value</tspan></text>
<g font-size="6.15" fill="#111">
<text x="32.3" y="9.0">Down</text>
<text x="32.3" y="16.9" textLength="39.9"><tspan font-style="italic">P</tspan> &lt; 0.05: 1723</text>
<text x="32.3" y="24.8">log2FC &lt; -1: 2365</text>
<text x="32.3" y="32.7">Sig. : 1385</text>
<text x="244" y="9.0">Up</text>
<text x="244" y="16.9" textLength="37.1"><tspan font-style="italic">P</tspan> &lt; 0.05: 598</text>
<text x="244" y="24.8">log2FC &gt; 1: 646</text>
<text x="244" y="32.7">Sig. : 218</text>
</g>
<g font-size="6.5" font-weight="bold" fill="#111">
<rect x="237" y="53.9" width="1.6" height="1.6" fill="#ff1a0a"/>
<text x="244" y="56.7">Significant Up</text>
<rect x="237" y="60.8" width="1.6" height="1.6" fill="#3f8ff0"/>
<text x="244" y="63.6">Significant Down</text>
<rect x="237" y="67.6" width="1.6" height="1.6" fill="#fde6ea"/>
<text x="244" y="70.4">Up</text>
<rect x="237" y="74.5" width="1.6" height="1.6" fill="#8ff0ff"/>
<text x="244" y="77.2">Down</text>
<rect x="237" y="81.3" width="1.6" height="1.6" fill="#f0f2fa"/>
<text x="244" y="84.1">Non-significant</text>
</g>
<text x="158.9" y="327.7" font-size="34.7" font-weight="bold" text-anchor="middle" fill="#000">A</text>
</g>
<g id="panelB">
<g>
<rect x="421.00" y="7.2" width="90.81" height="4.3" fill="#2f4fe0"/>
<rect x="511.81" y="7.2" width="90.81" height="4.3" fill="#e8c038"/>
<rect x="421.00" y="13.25" width="31.27" height="13.55" fill="#f0a098"/>
<rect x="451.27" y="13.25" width="31.27" height="13.55" fill="#f0a098"/>
<rect x="481.54" y="13.25" width="31.27" height="13.55" fill="#ff2a10"/>
<rect x="511.81" y="13.25" width="31.27" height="13.55" fill="#4a2aff"/>
<rect x="542.08" y="13.25" width="31.27" height="13.55" fill="#eeeeff"/>
<rect x="572.35" y="13.25" width="30.27" height="13.55" fill="#3a1aff"/>
<rect x="421.00" y="25.80" width="31.27" height="13.55" fill="#ff2a10"/>
<rect x="451.27" y="25.80" width="31.27" height="13.55" fill="#ee8880"/>
<rect x="481.54" y="25.80" width="31.27" height="13.55" fill="#b8a8ff"/>
<rect x="511.81" y="25.80" width="31.27" height="13.55" fill="#8a70ff"/>
<rect x="542.08" y="25.80" width="31.27" height="13.55" fill="#c8c0ff"/>
<rect x="572.35" y="25.80" width="30.27" height="13.55" fill="#9080ff"/>
<rect x="421.00" y="38.35" width="31.27" height="13.55" fill="#ff2a10"/>
<rect x="451.27" y="38.35" width="31.27" height="13.55" fill="#f5c8c0"/>
<rect x="481.54" y="38.35" width="31.27" height="13.55" fill="#d8d4ff"/>
<rect x="511.81" y="38.35" width="31.27" height="13.55" fill="#9080ff"/>
<rect x="542.08" y="38.35" width="31.27" height="13.55" fill="#d8d4ff"/>
<rect x="572.35" y="38.35" width="30.27" height="13.55" fill="#7050ff"/>
<rect x="421.00" y="50.90" width="31.27" height="13.55" fill="#ff2a10"/>
<rect x="451.27" y="50.90" width="31.27" height="13.55" fill="#fcf6f4"/>
<rect x="481.54" y="50.90" width="31.27" height="13.55" fill="#f2c0b8"/>
<rect x="511.81" y="50.90" width="31.27" height="13.55" fill="#3010ff"/>
<rect x="542.08" y="50.90" width="31.27" height="13.55" fill="#e8e8ff"/>
<rect x="572.35" y="50.90" width="30.27" height="13.55" fill="#8870ff"/>
<rect x="421.00" y="63.45" width="31.27" height="13.55" fill="#ff2a10"/>
<rect x="451.27" y="63.45" width="31.27" height="13.55" fill="#f8ecea"/>
<rect x="481.54" y="63.45" width="31.27" height="13.55" fill="#f2b8b0"/>
<rect x="511.81" y="63.45" width="31.27" height="13.55" fill="#6040ff"/>
<rect x="542.08" y="63.45" width="31.27" height="13.55" fill="#dcd8ff"/>
<rect x="572.35" y="63.45" width="30.27" height="13.55" fill="#6848ff"/>
<rect x="421.00" y="76.00" width="31.27" height="13.55" fill="#ff2a10"/>
<rect x="451.27" y="76.00" width="31.27" height="13.55" fill="#fcf4f2"/>
<rect x="481.54" y="76.00" width="31.27" height="13.55" fill="#f5e0dc"/>
<rect x="511.81" y="76.00" width="31.27" height="13.55" fill="#6848ff"/>
<rect x="542.08" y="76.00" width="31.27" height="13.55" fill="#dcd8ff"/>
<rect x="572.35" y="76.00" width="30.27" height="13.55" fill="#6040ff"/>
<rect x="421.00" y="88.55" width="31.27" height="13.55" fill="#ff2a10"/>
<rect x="451.27" y="88.55" width="31.27" height="13.55" fill="#f8ecea"/>
<rect x="481.54" y="88.55" width="31.27" height="13.55" fill="#f0a098"/>
<rect x="511.81" y="88.55" width="31.27" height="13.55" fill="#7858ff"/>
<rect x="542.08" y="88.55" width="31.27" height="13.55" fill="#a898ff"/>
<rect x="572.35" y="88.55" width="30.27" height="13.55" fill="#6040ff"/>
<rect x="421.00" y="101.10" width="31.27" height="13.55" fill="#ff2a10"/>
<rect x="451.27" y="101.10" width="31.27" height="13.55" fill="#f4c4bc"/>
<rect x="481.54" y="101.10" width="31.27" height="13.55" fill="#fcf6f4"/>
<rect x="511.81" y="101.10" width="31.27" height="13.55" fill="#6848ff"/>
<rect x="542.08" y="101.10" width="31.27" height="13.55" fill="#d8d4ff"/>
<rect x="572.35" y="101.10" width="30.27" height="13.55" fill="#5a38ff"/>
<rect x="421.00" y="113.65" width="31.27" height="13.55" fill="#ff2a10"/>
<rect x="451.27" y="113.65" width="31.27" height="13.55" fill="#f5d8d4"/>
<rect x="481.54" y="113.65" width="31.27" height="13.55" fill="#fcf6f4"/>
<rect x="511.81" y="113.65" width="31.27" height="13.55" fill="#6848ff"/>
<rect x="542.08" y="113.65" width="31.27" height="13.55" fill="#c0b8ff"/>
<rect x="572.35" y="113.65" width="30.27" height="13.55" fill="#7050ff"/>
<rect x="421.00" y="126.20" width="31.27" height="13.55" fill="#ff2a10"/>
<rect x="451.27" y="126.20" width="31.27" height="13.55" fill="#f5d8d4"/>
<rect x="481.54" y="126.20" width="31.27" height="13.55" fill="#f8ecea"/>
<rect x="511.81" y="126.20" width="31.27" height="13.55" fill="#5030ff"/>
<rect x="542.08" y="126.20" width="31.27" height="13.55" fill="#dcd8ff"/>
<rect x="572.35" y="126.20" width="30.27" height="13.55" fill="#7858ff"/>
<rect x="421.00" y="138.75" width="31.27" height="13.55" fill="#6840ff"/>
<rect x="451.27" y="138.75" width="31.27" height="13.55" fill="#eeeeff"/>
<rect x="481.54" y="138.75" width="31.27" height="13.55" fill="#a898ff"/>
<rect x="511.81" y="138.75" width="31.27" height="13.55" fill="#ff2a10"/>
<rect x="542.08" y="138.75" width="31.27" height="13.55" fill="#9888ff"/>
<rect x="572.35" y="138.75" width="30.27" height="13.55" fill="#ff2a10"/>
<rect x="421.00" y="151.30" width="31.27" height="13.55" fill="#2800ff"/>
<rect x="451.27" y="151.30" width="31.27" height="13.55" fill="#7c60ff"/>
<rect x="481.54" y="151.30" width="31.27" height="13.55" fill="#e4e4ff"/>
<rect x="511.81" y="151.30" width="31.27" height="13.55" fill="#f06858"/>
<rect x="542.08" y="151.30" width="31.27" height="13.55" fill="#f8dcd4"/>
<rect x="572.35" y="151.30" width="30.27" height="13.55" fill="#ff2a10"/>
<rect x="421.00" y="163.85" width="31.27" height="13.55" fill="#5828ff"/>
<rect x="451.27" y="163.85" width="31.27" height="13.55" fill="#a090ff"/>
<rect x="481.54" y="163.85" width="31.27" height="13.55" fill="#c0b4ff"/>
<rect x="511.81" y="163.85" width="31.27" height="13.55" fill="#ff2a10"/>
<rect x="542.08" y="163.85" width="31.27" height="13.55" fill="#eeeeff"/>
<rect x="572.35" y="163.85" width="30.27" height="13.55" fill="#ff2a10"/>
<rect x="421.00" y="176.40" width="31.27" height="13.55" fill="#5828ff"/>
<rect x="451.27" y="176.40" width="31.27" height="13.55" fill="#8878ff"/>
<rect x="481.54" y="176.40" width="31.27" height="13.55" fill="#a898ff"/>
<rect x="511.81" y="176.40" width="31.27" height="13.55" fill="#ff2a10"/>
<rect x="542.08" y="176.40" width="31.27" height="13.55" fill="#f8e4e0"/>
<rect x="572.35" y="176.40" width="30.27" height="13.55" fill="#ff2a10"/>
<rect x="421.00" y="188.95" width="31.27" height="13.55" fill="#dcdcff"/>
<rect x="451.27" y="188.95" width="31.27" height="13.55" fill="#6840ff"/>
<rect x="481.54" y="188.95" width="31.27" height="13.55" fill="#8068ff"/>
<rect x="511.81" y="188.95" width="31.27" height="13.55" fill="#ff2a10"/>
<rect x="542.08" y="188.95" width="31.27" height="13.55" fill="#d4d0ff"/>
<rect x="572.35" y="188.95" width="30.27" height="13.55" fill="#ff2a10"/>
<rect x="421.00" y="201.50" width="31.27" height="13.55" fill="#b0a4ff"/>
<rect x="451.27" y="201.50" width="31.27" height="13.55" fill="#2800ff"/>
<rect x="481.54" y="201.50" width="31.27" height="13.55" fill="#dcdcff"/>
<rect x="511.81" y="201.50" width="31.27" height="13.55" fill="#f25a48"/>
<rect x="542.08" y="201.50" width="31.27" height="13.55" fill="#f8ece8"/>
<rect x="572.35" y="201.50" width="30.27" height="13.55" fill="#ff2a10"/>
<rect x="421.00" y="214.05" width="31.27" height="13.55" fill="#5828ff"/>
<rect x="451.27" y="214.05" width="31.27" height="13.55" fill="#2800ff"/>
<rect x="481.54" y="214.05" width="31.27" height="13.55" fill="#f4f4ff"/>
<rect x="511.81" y="214.05" width="31.27" height="13.55" fill="#f09088"/>
<rect x="542.08" y="214.05" width="31.27" height="13.55" fill="#ff2a10"/>
<rect x="572.35" y="214.05" width="30.27" height="13.55" fill="#f45040"/>
<rect x="421.00" y="226.60" width="31.27" height="13.55" fill="#d0ccff"/>
<rect x="451.27" y="226.60" width="31.27" height="13.55" fill="#d4d0ff"/>
<rect x="481.54" y="226.60" width="31.27" height="13.55" fill="#2800ff"/>
<rect x="511.81" y="226.60" width="31.27" height="13.55" fill="#f08078"/>
<rect x="542.08" y="226.60" width="31.27" height="13.55" fill="#ff2a10"/>
<rect x="572.35" y="226.60" width="30.27" height="13.55" fill="#fdfdfd"/>
<rect x="421.00" y="239.15" width="31.27" height="13.55" fill="#2800ff"/>
<rect x="451.27" y="239.15" width="31.27" height="13.55" fill="#f0f0ff"/>
<rect x="481.54" y="239.15" width="31.27" height="13.55" fill="#7c60ff"/>
<rect x="511.81" y="239.15" width="31.27" height="13.55" fill="#ff2a10"/>
<rect x="542.08" y="239.15" width="31.27" height="13.55" fill="#f25a48"/>
<rect x="572.35" y="239.15" width="30.27" height="13.55" fill="#f8d8d0"/>
<rect x="421.00" y="251.70" width="31.27" height="12.55" fill="#2800ff"/>
<rect x="451.27" y="251.70" width="31.27" height="12.55" fill="#ececff"/>
<rect x="481.54" y="251.70" width="31.27" height="12.55" fill="#7c60ff"/>
<rect x="511.81" y="251.70" width="31.27" height="12.55" fill="#ff2a10"/>
<rect x="542.08" y="251.70" width="31.27" height="12.55" fill="#f07868"/>
<rect x="572.35" y="251.70" width="30.27" height="12.55" fill="#fbeeea"/>
</g>
<g font-size="5.4" font-weight="bold" fill="#000" stroke="#000" stroke-width="0.12">
<text transform="translate(604.6,21.4) scale(1.12,1)">PLA2G4C</text>
<text transform="translate(604.6,34.0) scale(1.12,1)">CD79B</text>
<text transform="translate(604.6,46.5) scale(1.12,1)">RAC2</text>
<text transform="translate(604.6,59.1) scale(1.12,1)">RLA-DRB1</text>
<text transform="translate(604.6,71.6) scale(1.12,1)">LOC100343144</text>
<text transform="translate(604.6,84.2) scale(1.12,1)">APOE</text>
<text transform="translate(604.6,96.7) scale(1.12,1)">CCL21</text>
<text transform="translate(604.6,109.3) scale(1.12,1)">LCP1</text>
<text transform="translate(604.6,121.8) scale(1.12,1)">ARHGDIB</text>
<text transform="translate(604.6,134.4) scale(1.12,1)">CD74</text>
<text transform="translate(604.6,146.9) scale(1.12,1)">LOC100356864</text>
<text transform="translate(604.6,159.5) scale(1.12,1)">UGT2A1</text>
<text transform="translate(604.6,172.0) scale(1.12,1)">PGER2</text>
<text transform="translate(604.6,184.6) scale(1.12,1)">ASRGL1</text>
<text transform="translate(604.6,197.1) scale(1.12,1)">MRPL17</text>
<text transform="translate(604.6,209.7) scale(1.12,1)">LOC100350827</text>
<text transform="translate(604.6,222.2) scale(1.12,1)">LOC100344154</text>
<text transform="translate(604.6,234.8) scale(1.12,1)">LOC100346046</text>
<text transform="translate(604.6,247.3) scale(1.12,1)">PPM1J</text>
<text transform="translate(604.6,259.9) scale(1.12,1)">GALNT18</text>
</g>
<text transform="translate(604.4,10.8) scale(1.1,1)" font-size="4.7" font-weight="bold" fill="#111">Group</text>
<g class="sans" font-size="6" fill="#000" stroke="#000" stroke-width="0.22">
<text class="sans" transform="translate(432.8,266) rotate(90)" textLength="27.3" lengthAdjust="spacingAndGlyphs">Sample_Co1</text>
<text class="sans" transform="translate(463.1,266) rotate(90)" textLength="27.3" lengthAdjust="spacingAndGlyphs">Sample_Co2</text>
<text class="sans" transform="translate(493.4,266) rotate(90)" textLength="27.3" lengthAdjust="spacingAndGlyphs">Sample_Co3</text>
<text class="sans" transform="translate(523.6,266) rotate(90)" textLength="27.3" lengthAdjust="spacingAndGlyphs">Sample_Re1</text>
<text class="sans" transform="translate(553.9,266) rotate(90)" textLength="27.3" lengthAdjust="spacingAndGlyphs">Sample_Re2</text>
<text class="sans" transform="translate(584.2,266) rotate(90)" textLength="27.3" lengthAdjust="spacingAndGlyphs">Sample_Re3</text>
</g>
<path d="M389.4 40.0V197.6M389.4 40.0H405.0M389.4 197.6H401.5M405.0 19.5V62.3M405.0 19.5H421.0M405.0 62.3H412.0M412.0 38.7V86.0M412.0 38.7H418.2M418.2 32.1V44.6M418.2 32.1H421.0M418.2 44.6H421.0M412.0 86.0H416.6M416.6 66.5V106.0M416.6 66.5H418.6M418.6 57.2V75.5M418.6 57.2H421.0M418.6 75.5H419.6M419.6 69.7V82.3M419.6 69.7H421.0M419.6 82.3H421.0M416.6 106.0H417.4M417.4 94.8V117.5M417.4 94.8H421.0M417.4 117.5H419.2M419.2 107.4V126.5M419.2 107.4H421.0M419.2 126.5H420.0M420.0 119.9V132.5M420.0 119.9H421.0M420.0 132.5H421.0M401.5 164.3V231.3M401.5 164.3H408.8M401.5 231.3H406.5M408.8 145.0V183.9M408.8 145.0H421.0M408.8 183.9H411.4M411.4 167.3V201.6M411.4 167.3H415.9M411.4 201.6H414.7M415.9 157.6V176.3M415.9 157.6H421.0M415.9 176.3H417.8M417.8 170.1V182.7M417.8 170.1H421.0M417.8 182.7H421.0M414.7 195.2V207.8M414.7 195.2H421.0M414.7 207.8H421.0M406.5 220.3V242.7M406.5 220.3H421.0M406.5 242.7H411.0M411.0 232.9V251.7M411.0 232.9H421.0M411.0 251.7H419.8M419.8 245.4V258.0M419.8 245.4H421.0M419.8 258.0H421.0" stroke="#3c3c3c" stroke-width="0.7" fill="none"/>
<defs><linearGradient id="gb" x1="0" y1="0" x2="0" y2="1"><stop offset="0" stop-color="#ff2a10"/><stop offset="0.22" stop-color="#ff2a10"/><stop offset="0.5" stop-color="#ffffff"/><stop offset="0.82" stop-color="#2800ff"/><stop offset="1" stop-color="#2800ff"/></linearGradient></defs>
<rect x="649.2" y="6.7" width="6.2" height="78" fill="url(#gb)"/>
<g font-size="4.7" font-weight="bold" fill="#111">
<text transform="translate(658,14.9) scale(1.2,1)">1.51</text>
<text transform="translate(658,30.8) scale(1.2,1)">0.50</text>
<text transform="translate(658,46.3) scale(1.2,1)">-0.0-</text>
<text transform="translate(658,61.8) scale(1.2,1)">1</text>
<text transform="translate(658,77.4) scale(1.2,1)">-1.5</text>
<text transform="translate(669.4,9.6) scale(1.12,1)">Group</text>
<text transform="translate(678,16.2) scale(1.15,1)">Co</text><text transform="translate(678,22.8) scale(1.15,1)">Re</text>
</g>
<rect x="669" y="11.4" width="7.4" height="6.3" fill="#2f4fe0"/><rect x="669" y="17.7" width="7.4" height="6.3" fill="#e8c038"/>
<text x="547.2" y="322.8" font-size="34.6" font-weight="bold" text-anchor="middle" fill="#000">B</text>
</g>
<g id="panelC">
<text x="206.5" y="351.2" font-size="7" text-anchor="middle" fill="#111" textLength="85" lengthAdjust="spacingAndGlyphs">Top GO Term (Re vs Co)</text>
<rect x="151.3" y="353.2" width="111.0" height="103.0" fill="#fff" stroke="#4a4a4a" stroke-width="0.8"/>
<rect x="262.8" y="352.9" width="7.0" height="103.6" fill="#3cff14"/>
<text transform="translate(264.0,411.4) rotate(90)" font-size="8.4" text-anchor="middle" fill="#222" textLength="43.5" lengthAdjust="spacingAndGlyphs">Biological Process</text>
<rect x="151.3" y="458.0" width="111.0" height="102.2" fill="#fff" stroke="#4a4a4a" stroke-width="0.8"/>
<rect x="262.8" y="457.7" width="7.0" height="102.8" fill="#e8c838"/>
<text transform="translate(264.0,515.0) rotate(90)" font-size="8.4" text-anchor="middle" fill="#222" textLength="48.0" lengthAdjust="spacingAndGlyphs">Cellular Component</text>
<rect x="151.3" y="562.0" width="111.0" height="103.0" fill="#fff" stroke="#4a4a4a" stroke-width="0.8"/>
<rect x="262.8" y="561.7" width="7.0" height="103.6" fill="#62e7fd"/>
<text transform="translate(264.0,616.2) rotate(90)" font-size="8.4" text-anchor="middle" fill="#222" textLength="46.5" lengthAdjust="spacingAndGlyphs">Molecular Function</text>
<rect x="151.7" y="353.5" width="32.5" height="6.8" fill="#3cff14"/>
<line x1="149.8" y1="356.9" x2="151.3" y2="356.9" stroke="#555" stroke-width="0.5"/>
<text transform="translate(148.8,355.9) scale(1.255,1)" font-size="4.75" text-anchor="end" fill="#111" stroke="#111" stroke-width="0.1">Negative regulation of interferon-</text>
<text transform="translate(148.8,360.3) scale(1.255,1)" font-size="4.75" text-anchor="end" fill="#111" stroke="#111" stroke-width="0.1">gamma production</text>
<rect x="151.7" y="364.1" width="32.8" height="6.8" fill="#3cff14"/>
<line x1="149.8" y1="367.5" x2="151.3" y2="367.5" stroke="#555" stroke-width="0.5"/>
<text transform="translate(148.8,367.6) scale(1.255,1)" font-size="4.75" text-anchor="end" fill="#111" stroke="#111" stroke-width="0.1">Positive regulation of neutrophil</text>
<text transform="translate(148.8,371.1) scale(1.255,1)" font-size="4.75" text-anchor="end" fill="#111" stroke="#111" stroke-width="0.1">chemotaxis</text>
<rect x="151.7" y="374.6" width="32.8" height="6.8" fill="#3cff14"/>
<line x1="149.8" y1="378.0" x2="151.3" y2="378.0" stroke="#555" stroke-width="0.5"/>
<text transform="translate(148.8,379.7) scale(1.255,1)" font-size="4.75" text-anchor="end" fill="#111" stroke="#111" stroke-width="0.1">Negative regulation of T cell proliferation</text>
<rect x="151.7" y="385.2" width="35.7" height="6.8" fill="#3cff14"/>
<line x1="149.8" y1="388.6" x2="151.3" y2="388.6" stroke="#555" stroke-width="0.5"/>
<text transform="translate(148.8,387.8) scale(1.255,1)" font-size="4.75" text-anchor="end" fill="#111" stroke="#111" stroke-width="0.1">Immunoglobulin production involvedin im</text>
<text transform="translate(148.8,393.3) scale(1.255,1)" font-size="4.75" text-anchor="end" fill="#111" stroke="#111" stroke-width="0.1">munoglobulin mediated immune response</text>
<rect x="151.7" y="395.8" width="38.3" height="6.8" fill="#3cff14"/>
<line x1="149.8" y1="399.2" x2="151.3" y2="399.2" stroke="#555" stroke-width="0.5"/>
<text transform="translate(148.8,400.9) scale(1.255,1)" font-size="4.75" text-anchor="end" fill="#111" stroke="#111" stroke-width="0.1">T cell receptor signaling pathway</text>
<rect x="151.7" y="406.4" width="46.3" height="6.8" fill="#3cff14"/>
<line x1="149.8" y1="409.8" x2="151.3" y2="409.8" stroke="#555" stroke-width="0.5"/>
<text transform="translate(148.8,411.5) scale(1.255,1)" font-size="4.75" text-anchor="end" fill="#111" stroke="#111" stroke-width="0.1">B cell activation</text>
<rect x="151.7" y="417.0" width="49.3" height="6.8" fill="#3cff14"/>
<line x1="149.8" y1="420.4" x2="151.3" y2="420.4" stroke="#555" stroke-width="0.5"/>
<text transform="translate(148.8,422.1) scale(1.255,1)" font-size="4.75" text-anchor="end" fill="#111" stroke="#111" stroke-width="0.1">Positive regulation of T cell proliferation</text>
<rect x="151.7" y="427.6" width="49.3" height="6.8" fill="#3cff14"/>
<line x1="149.8" y1="431.0" x2="151.3" y2="431.0" stroke="#555" stroke-width="0.5"/>
<text transform="translate(148.8,432.7) scale(1.255,1)" font-size="4.75" text-anchor="end" fill="#111" stroke="#111" stroke-width="0.1">Adaptive immune response</text>
<rect x="151.7" y="438.2" width="49.3" height="6.8" fill="#3cff14"/>
<line x1="149.8" y1="441.6" x2="151.3" y2="441.6" stroke="#555" stroke-width="0.5"/>
<text transform="translate(148.8,443.3) scale(1.255,1)" font-size="4.75" text-anchor="end" fill="#111" stroke="#111" stroke-width="0.1">Inflammatory response</text>
<rect x="151.7" y="448.8" width="101.1" height="6.8" fill="#3cff14"/>
<line x1="149.8" y1="452.2" x2="151.3" y2="452.2" stroke="#555" stroke-width="0.5"/>
<text transform="translate(148.8,453.9) scale(1.255,1)" font-size="4.75" text-anchor="end" fill="#111" stroke="#111" stroke-width="0.1">Immune response</text>
<rect x="151.7" y="457.9" width="27.7" height="6.8" fill="#e8c838"/>
<line x1="149.8" y1="461.3" x2="151.3" y2="461.3" stroke="#555" stroke-width="0.5"/>
<text transform="translate(148.8,463.0) scale(1.255,1)" font-size="4.75" text-anchor="end" fill="#111" stroke="#111" stroke-width="0.1">ER to Golgi transport vesicle membrane</text>
<rect x="151.7" y="468.5" width="29.5" height="6.8" fill="#e8c838"/>
<line x1="149.8" y1="471.9" x2="151.3" y2="471.9" stroke="#555" stroke-width="0.5"/>
<text transform="translate(148.8,473.6) scale(1.255,1)" font-size="4.75" text-anchor="end" fill="#111" stroke="#111" stroke-width="0.1">Lysosomal membrane</text>
<rect x="151.7" y="479.0" width="31.3" height="6.8" fill="#e8c838"/>
<line x1="149.8" y1="482.4" x2="151.3" y2="482.4" stroke="#555" stroke-width="0.5"/>
<text transform="translate(148.8,484.1) scale(1.255,1)" font-size="4.75" text-anchor="end" fill="#111" stroke="#111" stroke-width="0.1">Immunological synapse</text>
<rect x="151.7" y="489.6" width="35.3" height="6.8" fill="#e8c838"/>
<line x1="149.8" y1="493.0" x2="151.3" y2="493.0" stroke="#555" stroke-width="0.5"/>
<text transform="translate(148.8,494.7) scale(1.255,1)" font-size="4.75" text-anchor="end" fill="#111" stroke="#111" stroke-width="0.1">Endocytic vesicle membrane</text>
<rect x="151.7" y="500.2" width="39.3" height="6.8" fill="#e8c838"/>
<line x1="149.8" y1="503.6" x2="151.3" y2="503.6" stroke="#555" stroke-width="0.5"/>
<text transform="translate(148.8,505.3) scale(1.255,1)" font-size="4.75" text-anchor="end" fill="#111" stroke="#111" stroke-width="0.1">External side of plasma membrane</text>
<rect x="151.7" y="510.8" width="43.0" height="6.8" fill="#e8c838"/>
<line x1="149.8" y1="514.2" x2="151.3" y2="514.2" stroke="#555" stroke-width="0.5"/>
<text transform="translate(148.8,513.2) scale(1.255,1)" font-size="4.75" text-anchor="end" fill="#111" stroke="#111" stroke-width="0.1">Clathrin-coated endocytic vesicle</text>
<text transform="translate(148.8,517.6) scale(1.255,1)" font-size="4.75" text-anchor="end" fill="#111" stroke="#111" stroke-width="0.1">membrane</text>
<rect x="151.7" y="521.4" width="46.0" height="6.8" fill="#e8c838"/>
<line x1="149.8" y1="524.8" x2="151.3" y2="524.8" stroke="#555" stroke-width="0.5"/>
<text transform="translate(148.8,524.0) scale(1.255,1)" font-size="4.75" text-anchor="end" fill="#111" stroke="#111" stroke-width="0.1">Integral component of lumenal side of</text>
<text transform="translate(148.8,529.2) scale(1.255,1)" font-size="4.75" text-anchor="end" fill="#111" stroke="#111" stroke-width="0.1">endoplasmic reticulum membrane</text>
<rect x="151.7" y="532.0" width="64.9" height="6.8" fill="#e8c838"/>
<line x1="149.8" y1="535.4" x2="151.3" y2="535.4" stroke="#555" stroke-width="0.5"/>
<text transform="translate(148.8,537.1) scale(1.255,1)" font-size="4.75" text-anchor="end" fill="#111" stroke="#111" stroke-width="0.1">MHC class II protein complex</text>
<rect x="151.7" y="542.6" width="64.9" height="6.8" fill="#e8c838"/>
<line x1="149.8" y1="546.0" x2="151.3" y2="546.0" stroke="#555" stroke-width="0.5"/>
<text transform="translate(148.8,545.0) scale(1.255,1)" font-size="4.75" text-anchor="end" fill="#111" stroke="#111" stroke-width="0.1">Integral component of plasma</text>
<text transform="translate(148.8,549.4) scale(1.255,1)" font-size="4.75" text-anchor="end" fill="#111" stroke="#111" stroke-width="0.1">membrane</text>
<rect x="151.7" y="553.2" width="80.3" height="6.8" fill="#e8c838"/>
<line x1="149.8" y1="556.6" x2="151.3" y2="556.6" stroke="#555" stroke-width="0.5"/>
<text transform="translate(148.8,558.3) scale(1.255,1)" font-size="4.75" text-anchor="end" fill="#111" stroke="#111" stroke-width="0.1">Plasma membrane</text>
<rect x="151.7" y="562.3" width="15.7" height="6.8" fill="#62e7fd"/>
<line x1="149.8" y1="565.7" x2="151.3" y2="565.7" stroke="#555" stroke-width="0.5"/>
<text transform="translate(148.8,567.4) scale(1.255,1)" font-size="4.75" text-anchor="end" fill="#111" stroke="#111" stroke-width="0.1">Oligosaccharide binding</text>
<rect x="151.7" y="572.9" width="16.4" height="6.8" fill="#62e7fd"/>
<line x1="149.8" y1="576.3" x2="151.3" y2="576.3" stroke="#555" stroke-width="0.5"/>
<text transform="translate(148.8,578.0) scale(1.255,1)" font-size="4.75" text-anchor="end" fill="#111" stroke="#111" stroke-width="0.1">Protein tyrosine kinase binding</text>
<rect x="151.7" y="583.5" width="16.4" height="6.8" fill="#62e7fd"/>
<line x1="149.8" y1="586.9" x2="151.3" y2="586.9" stroke="#555" stroke-width="0.5"/>
<text transform="translate(148.8,588.6) scale(1.255,1)" font-size="4.75" text-anchor="end" fill="#111" stroke="#111" stroke-width="0.1">Cytokine activity</text>
<rect x="151.7" y="593.9" width="19.0" height="6.8" fill="#62e7fd"/>
<line x1="149.8" y1="597.3" x2="151.3" y2="597.3" stroke="#555" stroke-width="0.5"/>
<text transform="translate(148.8,599.0) scale(1.255,1)" font-size="4.75" text-anchor="end" fill="#111" stroke="#111" stroke-width="0.1">CD4 receptor binding</text>
<rect x="151.7" y="604.3" width="21.1" height="6.8" fill="#62e7fd"/>
<line x1="149.8" y1="607.7" x2="151.3" y2="607.7" stroke="#555" stroke-width="0.5"/>
<text transform="translate(148.8,609.4) scale(1.255,1)" font-size="4.75" text-anchor="end" fill="#111" stroke="#111" stroke-width="0.1">SH3 domain binding</text>
<rect x="151.7" y="614.8" width="29.2" height="6.8" fill="#62e7fd"/>
<line x1="149.8" y1="618.2" x2="151.3" y2="618.2" stroke="#555" stroke-width="0.5"/>
<text transform="translate(148.8,619.9) scale(1.255,1)" font-size="4.75" text-anchor="end" fill="#111" stroke="#111" stroke-width="0.1">MHC class II protein complex binding</text>
<rect x="151.7" y="625.4" width="31.3" height="6.8" fill="#62e7fd"/>
<line x1="149.8" y1="628.8" x2="151.3" y2="628.8" stroke="#555" stroke-width="0.5"/>
<text transform="translate(148.8,630.5) scale(1.255,1)" font-size="4.75" text-anchor="end" fill="#111" stroke="#111" stroke-width="0.1">SH3/SH2 adaptor activity</text>
<rect x="151.7" y="636.0" width="39.0" height="6.8" fill="#62e7fd"/>
<line x1="149.8" y1="639.4" x2="151.3" y2="639.4" stroke="#555" stroke-width="0.5"/>
<text transform="translate(148.8,641.1) scale(1.255,1)" font-size="4.75" text-anchor="end" fill="#111" stroke="#111" stroke-width="0.1">Peptide antigen binding</text>
<rect x="151.7" y="646.6" width="41.6" height="6.8" fill="#62e7fd"/>
<line x1="149.8" y1="650.0" x2="151.3" y2="650.0" stroke="#555" stroke-width="0.5"/>
<text transform="translate(148.8,651.7) scale(1.255,1)" font-size="4.75" text-anchor="end" fill="#111" stroke="#111" stroke-width="0.1">Tumor necrosis factor receptor binding</text>
<rect x="151.7" y="657.2" width="55.8" height="6.8" fill="#62e7fd"/>
<line x1="149.8" y1="660.6" x2="151.3" y2="660.6" stroke="#555" stroke-width="0.5"/>
<text transform="translate(148.8,662.3) scale(1.255,1)" font-size="4.75" text-anchor="end" fill="#111" stroke="#111" stroke-width="0.1">MHC class II receptor activity</text>
<g font-size="5.4" fill="#111" text-anchor="middle" font-weight="bold">
<line x1="153.1" y1="665" x2="153.1" y2="666.5" stroke="#555" stroke-width="0.5"/>
<text transform="translate(153.1,670.5) scale(1.3,1)">0</text>
<line x1="178.0" y1="665" x2="178.0" y2="666.5" stroke="#555" stroke-width="0.5"/>
<text transform="translate(178.0,670.5) scale(1.3,1)">5</text>
<line x1="203.5" y1="665" x2="203.5" y2="666.5" stroke="#555" stroke-width="0.5"/>
<text transform="translate(203.5,670.5) scale(1.3,1)">10</text>
<line x1="230.5" y1="665" x2="230.5" y2="666.5" stroke="#555" stroke-width="0.5"/>
<text transform="translate(230.5,670.5) scale(1.3,1)">15</text>
<line x1="257.2" y1="665" x2="257.2" y2="666.5" stroke="#555" stroke-width="0.5"/>
<text transform="translate(257.2,670.5) scale(1.3,1)">20</text>
</g>
<text x="209.5" y="680" font-size="7.6" text-anchor="middle" fill="#111" textLength="55" lengthAdjust="spacingAndGlyphs">-log<tspan font-size="4.8" dy="1">10</tspan><tspan dy="-1"> P-value</tspan></text>
<text x="166.6" y="713.8" font-size="35.5" font-weight="bold" text-anchor="middle" fill="#000">C</text>
</g>
<g id="panelD">
<text x="553.6" y="348.4" font-size="7.1" text-anchor="middle" fill="#000" stroke="#000" stroke-width="0.1" style="font-family:'Liberation Serif','Noto Serif CJK SC','Noto Sans CJK SC',serif"><tspan font-weight="bold">The top</tspan> KEGG pathway（Up and down）</text>
<rect x="467.8" y="350.5" width="165.1" height="148.7" fill="#fff"/>
<rect x="633.7" y="350.5" width="6.5" height="148.7" fill="#d9d9d9"/>
<text transform="translate(635,424.9) rotate(90)" font-size="7.3" text-anchor="middle" fill="#111" stroke="#111" stroke-width="0.12">Down</text>
<rect x="467.8" y="502.6" width="165.1" height="148.9" fill="#fff"/>
<rect x="633.7" y="502.6" width="6.5" height="148.9" fill="#d9d9d9"/>
<text transform="translate(635,577.0) rotate(90)" font-size="7.3" text-anchor="middle" fill="#111" stroke="#111" stroke-width="0.12">Up</text>
<path d="M501.0 350.5V499.2M501.0 502.6V651.5M534.0 350.5V499.2M534.0 502.6V651.5M567.0 350.5V499.2M567.0 502.6V651.5M600.0 350.5V499.2M600.0 502.6V651.5" stroke="#ececec" stroke-width="0.5" fill="none"/>
<path d="M484.5 350.5V499.2M484.5 502.6V651.5M517.5 350.5V499.2M517.5 502.6V651.5M550.5 350.5V499.2M550.5 502.6V651.5M583.5 350.5V499.2M583.5 502.6V651.5M616.5 350.5V499.2M616.5 502.6V651.5M468 357.0H633.5M468 372.0H633.5M468 387.0H633.5M468 402.0H633.5M468 417.0H633.5M468 432.5H633.5M468 447.5H633.5M468 463.0H633.5M468 478.0H633.5M468 493.0H633.5M468 509.5H633.5M468 524.5H633.5M468 539.5H633.5M468 554.5H633.5M468 569.5H633.5M468 585.0H633.5M468 600.0H633.5M468 615.0H633.5M468 630.0H633.5M468 645.0H633.5" stroke="#f3f3f3" stroke-width="0.5" fill="none"/>
<rect x="467.8" y="350.5" width="165.1" height="148.7" fill="none" stroke="#383838" stroke-width="0.9"/>
<rect x="467.8" y="502.6" width="165.1" height="148.9" fill="none" stroke="#383838" stroke-width="0.9"/>
<circle cx="593.5" cy="357.0" r="2.3" fill="#ff2010"/>
<line x1="466.3" y1="357.0" x2="467.8" y2="357.0" stroke="#444" stroke-width="0.5"/>
<text transform="translate(464.5,359.6) scale(0.95,1)" font-size="7.5" text-anchor="end" fill="#000" stroke="#000" stroke-width="0.2">Asthma</text>
<circle cx="557.5" cy="372.0" r="2.4" fill="#ff2010"/>
<line x1="466.3" y1="372.0" x2="467.8" y2="372.0" stroke="#444" stroke-width="0.5"/>
<text transform="translate(465.3,373.1) scale(0.95,1)" font-size="7.5" text-anchor="end" fill="#000" stroke="#000" stroke-width="0.2">Allograft rejection</text>
<circle cx="542.5" cy="387.0" r="2.5" fill="#ff2010"/>
<line x1="466.3" y1="387.0" x2="467.8" y2="387.0" stroke="#444" stroke-width="0.5"/>
<text transform="translate(465.3,388.7) scale(0.95,1)" font-size="7.5" text-anchor="end" fill="#000" stroke="#000" stroke-width="0.2">Intestinal immune network for IgA</text>
<text transform="translate(465.3,397.4) scale(0.95,1)" font-size="7.5" text-anchor="end" fill="#000" stroke="#000" stroke-width="0.2">production</text>
<circle cx="540.5" cy="402.0" r="2.4" fill="#ff2010"/>
<line x1="466.3" y1="402.0" x2="467.8" y2="402.0" stroke="#444" stroke-width="0.5"/>
<text transform="translate(465.3,404.6) scale(0.95,1)" font-size="7.5" text-anchor="end" fill="#000" stroke="#000" stroke-width="0.2">Autoimmune thyroid disease</text>
<circle cx="536.0" cy="417.0" r="2.8" fill="#ff2010"/>
<line x1="466.3" y1="417.0" x2="467.8" y2="417.0" stroke="#444" stroke-width="0.5"/>
<text transform="translate(464.5,417.9) scale(0.95,1)" font-size="7.5" text-anchor="end" fill="#000" stroke="#000" stroke-width="0.2">Hematopoietic cell lineage</text>
<circle cx="526.0" cy="432.5" r="2.5" fill="#ff2010"/>
<line x1="466.3" y1="432.5" x2="467.8" y2="432.5" stroke="#444" stroke-width="0.5"/>
<text transform="translate(465.3,435.1) scale(0.95,1)" font-size="7.5" text-anchor="end" fill="#000" stroke="#000" stroke-width="0.2">Viral myocarditis</text>
<circle cx="521.5" cy="447.5" r="2.5" fill="#ff2010"/>
<line x1="466.3" y1="447.5" x2="467.8" y2="447.5" stroke="#444" stroke-width="0.5"/>
<text transform="translate(465.3,450.1) scale(0.95,1)" font-size="7.5" text-anchor="end" fill="#000" stroke="#000" stroke-width="0.2">NF-kappa B signaling pathway</text>
<circle cx="518.5" cy="463.0" r="2.6" fill="#ff2010"/>
<line x1="466.3" y1="463.0" x2="467.8" y2="463.0" stroke="#444" stroke-width="0.5"/>
<text transform="translate(465.3,465.6) scale(0.95,1)" font-size="7.5" text-anchor="end" fill="#000" stroke="#000" stroke-width="0.2">Rheumatoid arthritis</text>
<circle cx="512.5" cy="478.0" r="2.8" fill="#ff2010"/>
<line x1="466.3" y1="478.0" x2="467.8" y2="478.0" stroke="#444" stroke-width="0.5"/>
<text transform="translate(464.5,480.6) scale(0.95,1)" font-size="7.5" text-anchor="end" fill="#000" stroke="#000" stroke-width="0.2">Cell adhesion molecules (CAMs)</text>
<circle cx="495.5" cy="493.0" r="3.0" fill="#ff2010"/>
<line x1="466.3" y1="493.0" x2="467.8" y2="493.0" stroke="#444" stroke-width="0.5"/>
<text transform="translate(464.5,494.1) scale(0.95,1)" font-size="7.5" text-anchor="end" fill="#000" stroke="#000" stroke-width="0.2">Cytokine-cytokine receptor</text>
<text transform="translate(465.3,501.7) scale(0.95,1)" font-size="7.5" text-anchor="end" fill="#000" stroke="#000" stroke-width="0.2">interaction</text>
<circle cx="549.5" cy="509.5" r="1.4" fill="#a0f040"/>
<line x1="466.3" y1="509.5" x2="467.8" y2="509.5" stroke="#444" stroke-width="0.5"/>
<text transform="translate(465.3,512.1) scale(0.95,1)" font-size="7.5" text-anchor="end" fill="#000" stroke="#000" stroke-width="0.2" textLength="96.8" lengthAdjust="spacingAndGlyphs">Ascorbate and aldarate metabolism</text>
<circle cx="543.5" cy="524.5" r="1.7" fill="#ff2010"/>
<line x1="466.3" y1="524.5" x2="467.8" y2="524.5" stroke="#444" stroke-width="0.5"/>
<text transform="translate(465.3,527.1) scale(0.95,1)" font-size="7.5" text-anchor="end" fill="#000" stroke="#000" stroke-width="0.2">Drug metabolism - other enzymes</text>
<circle cx="543.0" cy="539.5" r="1.5" fill="#48f020"/>
<line x1="466.3" y1="539.5" x2="467.8" y2="539.5" stroke="#444" stroke-width="0.5"/>
<text transform="translate(464.5,540.0) scale(0.95,1)" font-size="7.5" text-anchor="end" fill="#000" stroke="#000" stroke-width="0.2">Pentose and glucuronate</text>
<text transform="translate(464.5,547.8) scale(0.95,1)" font-size="7.5" text-anchor="end" fill="#000" stroke="#000" stroke-width="0.2">interconversions</text>
<circle cx="538.5" cy="554.5" r="1.5" fill="#40f018"/>
<line x1="466.3" y1="554.5" x2="467.8" y2="554.5" stroke="#444" stroke-width="0.5"/>
<text transform="translate(464.5,557.1) scale(0.95,1)" font-size="7.5" text-anchor="end" fill="#000" stroke="#000" stroke-width="0.2">Ether lipid metabolism</text>
<circle cx="531.0" cy="569.5" r="1.5" fill="#40f018"/>
<line x1="466.3" y1="569.5" x2="467.8" y2="569.5" stroke="#444" stroke-width="0.5"/>
<text transform="translate(464.5,572.4) scale(0.95,1)" font-size="7.5" text-anchor="end" fill="#000" stroke="#000" stroke-width="0.2">Porphyrin and chlorophyll</text>
<text transform="translate(464.5,581.3) scale(0.95,1)" font-size="7.5" text-anchor="end" fill="#000" stroke="#000" stroke-width="0.2">metabolism</text>
<circle cx="524.0" cy="585.0" r="1.4" fill="#70f860"/>
<line x1="466.3" y1="585.0" x2="467.8" y2="585.0" stroke="#444" stroke-width="0.5"/>
<text transform="translate(464.5,587.6) scale(0.95,1)" font-size="7.5" text-anchor="end" fill="#000" stroke="#000" stroke-width="0.2">Legionellosis</text>
<circle cx="514.5" cy="600.0" r="1.5" fill="#1818f0"/>
<line x1="466.3" y1="600.0" x2="467.8" y2="600.0" stroke="#444" stroke-width="0.5"/>
<text transform="translate(465.3,602.6) scale(0.95,1)" font-size="7.5" text-anchor="end" fill="#000" stroke="#000" stroke-width="0.2">p53 signaling pathway</text>
<circle cx="508.5" cy="615.0" r="1.5" fill="#f030f0"/>
<line x1="466.3" y1="615.0" x2="467.8" y2="615.0" stroke="#444" stroke-width="0.5"/>
<text transform="translate(464.5,613.8) scale(0.95,1)" font-size="7.5" text-anchor="end" fill="#000" stroke="#000" stroke-width="0.2">Drug metabolism - cytochrome</text>
<text transform="translate(464.5,623.0) scale(0.95,1)" font-size="7.5" text-anchor="end" fill="#000" stroke="#000" stroke-width="0.2">P450</text>
<circle cx="508.0" cy="630.0" r="1.5" fill="#f838f0"/>
<line x1="466.3" y1="630.0" x2="467.8" y2="630.0" stroke="#444" stroke-width="0.5"/>
<text transform="translate(464.5,632.6) scale(0.95,1)" font-size="7.5" text-anchor="end" fill="#000" stroke="#000" stroke-width="0.2">Steroid hormone biosynthesis</text>
<circle cx="498.5" cy="645.0" r="1.4" fill="#70f0ff"/>
<line x1="466.3" y1="645.0" x2="467.8" y2="645.0" stroke="#444" stroke-width="0.5"/>
<text transform="translate(464.5,647.6) scale(0.95,1)" font-size="7.5" text-anchor="end" fill="#000" stroke="#000" stroke-width="0.2">Tight junction</text>
<g font-size="6" fill="#000" stroke="#000" stroke-width="0.15" text-anchor="middle">
<line x1="468.0" y1="651.5" x2="468.0" y2="653" stroke="#444" stroke-width="0.5"/>
<text x="468.0" y="659.3">0</text>
<line x1="501.0" y1="651.5" x2="501.0" y2="653" stroke="#444" stroke-width="0.5"/>
<text x="501.0" y="659.3">5</text>
<line x1="534.0" y1="651.5" x2="534.0" y2="653" stroke="#444" stroke-width="0.5"/>
<text x="534.0" y="659.3">10</text>
<line x1="567.0" y1="651.5" x2="567.0" y2="653" stroke="#444" stroke-width="0.5"/>
<text x="567.0" y="659.3">15</text>
<line x1="600.0" y1="651.5" x2="600.0" y2="653" stroke="#444" stroke-width="0.5"/>
<text x="600.0" y="659.3">20</text>
<line x1="633.0" y1="651.5" x2="633.0" y2="653" stroke="#444" stroke-width="0.5"/>
<text x="633.0" y="659.3">25</text>
</g>
<text x="557.3" y="669.6" font-size="7.2" text-anchor="middle" fill="#000" stroke="#000" stroke-width="0.15">Enrichment Score</text>
<text x="645" y="425.6" font-size="7.2" fill="#000" stroke="#000" stroke-width="0.15">GeneNumber</text>
<circle cx="654" cy="439.0" r="1.1" fill="#000"/>
<text x="663.8" y="441.0" font-size="5.9" fill="#000" stroke="#000" stroke-width="0.15">2</text>
<circle cx="654" cy="464.7" r="2.1" fill="#000"/>
<text x="663.8" y="466.7" font-size="5.9" fill="#000" stroke="#000" stroke-width="0.15">20</text>
<circle cx="654" cy="491.0" r="3.0" fill="#000"/>
<text x="663.8" y="493.0" font-size="5.9" fill="#000" stroke="#000" stroke-width="0.15">38</text>
<text x="644.5" y="512.3" font-size="7.15" fill="#000" stroke="#000" stroke-width="0.15">P-value</text>
<defs><linearGradient id="gp" x1="0" y1="0" x2="0" y2="1"><stop offset="0" stop-color="#ff3cff"/><stop offset="0.10" stop-color="#ff3cff"/><stop offset="0.16" stop-color="#1a10ff"/><stop offset="0.31" stop-color="#1a10ff"/><stop offset="0.37" stop-color="#70ffff"/><stop offset="0.445" stop-color="#70ffff"/><stop offset="0.465" stop-color="#40ff10"/><stop offset="0.73" stop-color="#40ff10"/><stop offset="0.77" stop-color="#e8f040"/><stop offset="0.81" stop-color="#e8f040"/><stop offset="0.85" stop-color="#ff2010"/><stop offset="1" stop-color="#ff2010"/></linearGradient></defs>
<rect x="644.5" y="514.4" width="16" height="68.9" fill="url(#gp)"/>
<text x="662" y="521.0" font-size="5.9" fill="#000" stroke="#000" stroke-width="0.15">0.04</text>
<text x="662" y="536.5" font-size="5.9" fill="#000" stroke="#000" stroke-width="0.15">0.03</text>
<text x="662" y="552.0" font-size="5.9" fill="#000" stroke="#000" stroke-width="0.15">0.02</text>
<text x="662" y="567.5" font-size="5.9" fill="#000" stroke="#000" stroke-width="0.15">0.01</text>
<text x="662" y="583.0" font-size="5.9" fill="#000" stroke="#000" stroke-width="0.15">0</text>
<text x="552.5" y="702.2" font-size="34.6" font-weight="bold" text-anchor="middle" fill="#000">D</text>
</g>
</svg></body></html>
